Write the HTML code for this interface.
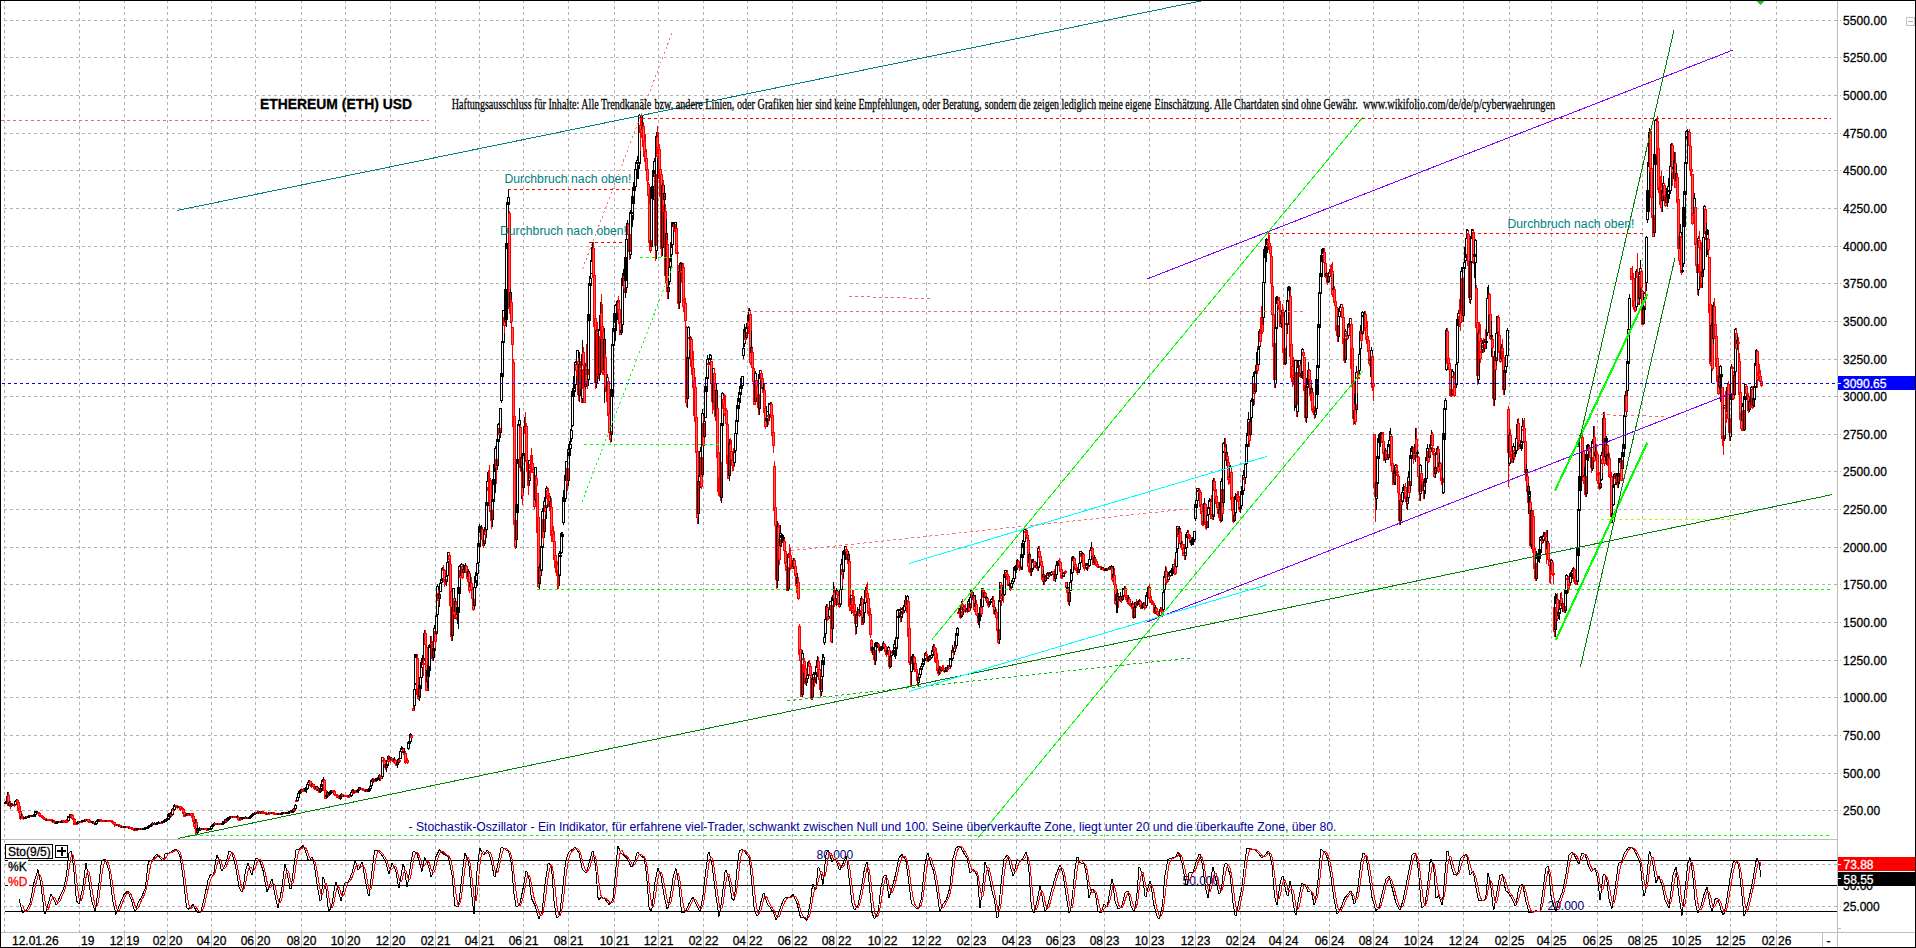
<!DOCTYPE html>
<html lang="de"><head><meta charset="utf-8"><title>ETHEREUM (ETH) USD</title>
<style>
html,body{margin:0;padding:0;background:#fff;overflow:hidden}
svg{display:block;font-family:"Liberation Sans",Arial,sans-serif;font-size:12px}
text{stroke-width:.3px;paint-order:stroke}
.g{stroke:#b2b2b2;stroke-width:1;stroke-dasharray:3 3;fill:none;shape-rendering:crispEdges}
.c{shape-rendering:crispEdges;stroke-width:1}
.u{stroke:#000;fill:none}.d{stroke:#f00;fill:#ff5a5a}
.l{fill:none;stroke-width:1;shape-rendering:crispEdges}
.x{shape-rendering:crispEdges}
.ser{font-family:"Liberation Serif","Times New Roman",serif}
</style></head><body>
<svg width="1916" height="948" viewBox="0 0 1916 948">
<rect width="1916" height="948" fill="#fff"/>
<defs><clipPath id="cp"><rect x="1" y="1" width="1836" height="838"/></clipPath><clipPath id="cs"><rect x="1" y="840" width="1836" height="92"/></clipPath></defs>
<g class="g">
<path d="M4.5 0V932.0M79.5 0V932.0M124.5 0V932.0M167.5 0V932.0M211.5 0V932.0M255.5 0V932.0M301.5 0V932.0M345.5 0V932.0M390.5 0V932.0M435.5 0V932.0M479.5 0V932.0M523.5 0V932.0M568.5 0V932.0M614.5 0V932.0M658.5 0V932.0M703.5 0V932.0M747.5 0V932.0M792.5 0V932.0M836.5 0V932.0M882.5 0V932.0M926.5 0V932.0M971.5 0V932.0M1016.5 0V932.0M1060.5 0V932.0M1104.5 0V932.0M1149.5 0V932.0M1195.5 0V932.0M1240.5 0V932.0M1283.5 0V932.0M1329.5 0V932.0M1373.5 0V932.0M1418.5 0V932.0M1463.5 0V932.0M1509.5 0V932.0M1551.5 0V932.0M1597.5 0V932.0M1642.5 0V932.0M1686.5 0V932.0M1730.5 0V932.0M1776.5 0V932.0"/>
<path d="M4 20.5H1841M4 57.5H1841M4 95.5H1841M4 133.5H1841M4 170.5H1841M4 208.5H1841M4 246.5H1841M4 283.5H1841M4 321.5H1841M4 359.5H1841M4 396.5H1841M4 434.5H1841M4 471.5H1841M4 509.5H1841M4 547.5H1841M4 584.5H1841M4 622.5H1841M4 660.5H1841M4 697.5H1841M4 735.5H1841M4 773.5H1841M4 810.5H1841M4 864.5H1841M4 906.5H1841"/>
</g>
<g class="c" clip-path="url(#cp)">
<path class="u" d="M5.5 801V802M4.5 802.5h2V803.5h-2Z"/><path class="u" d="M6.5 800V801M5.5 801.5h2V802.5h-2Z"/><path class="u" d="M7.5 792V796M7.5 801V804M6.5 796.5h2V801.5h-2Z"/><path class="d" d="M8.5 792V795M7.5 795.5h2V805.5h-2Z"/><path class="u" d="M9.5 801V802M8.5 802.5h2V805.5h-2Z"/><path class="d" d="M10.5 801V803M10.5 806V809M9.5 803.5h2V806.5h-2Z"/><path class="u" d="M11.5 805V807M10.5 803.5h2V805.5h-2Z"/><path class="d" d="M12.5 803V804M11.5 804.5h2V805.5h-2Z"/><path class="u" d="M12.5 804.5h2V805.5h-2Z"/><path class="d" d="M14.5 803V804M14.5 805V807M13.5 804.5h2V805.5h-2Z"/><path class="u" d="M15.5 800V801M14.5 801.5h2V804.5h-2Z"/><path class="u" d="M16.5 799V800M16.5 801V803M15.5 800.5h2V801.5h-2Z"/><path class="d" d="M17.5 799V800M17.5 802V805M16.5 800.5h2V802.5h-2Z"/><path class="d" d="M18.5 801V802M17.5 802.5h2V810.5h-2Z"/><path class="d" d="M19.5 802V808M18.5 808.5h2V812.5h-2Z"/><path class="d" d="M20.5 806V811M20.5 818V820M19.5 811.5h2V818.5h-2Z"/><path class="u" d="M21.5 813V816M20.5 816.5h2V817.5h-2Z"/><path class="d" d="M22.5 814V816M22.5 817V819M21.5 816.5h2V817.5h-2Z"/><path class="d" d="M23.5 816V817M23.5 818V820M22.5 817.5h2V818.5h-2Z"/><path class="u" d="M23.5 817.5h2V818.5h-2Z"/><path class="u" d="M25.5 816V817M24.5 817.5h2V818.5h-2Z"/><path class="u" d="M25.5 816.5h2V817.5h-2Z"/><path class="d" d="M26.5 816.5h2V817.5h-2Z"/><path class="u" d="M27.5 816.5h2V817.5h-2Z"/><path class="u" d="M28.5 815.5h2V816.5h-2Z"/><path class="u" d="M29.5 815.5h2V816.5h-2Z"/><path class="d" d="M30.5 815.5h2V816.5h-2Z"/><path class="u" d="M31.5 815.5h2V816.5h-2Z"/><path class="u" d="M33.5 814V815M32.5 815.5h2V816.5h-2Z"/><path class="u" d="M34.5 813V815M33.5 815.5h2V816.5h-2Z"/><path class="u" d="M35.5 814V816M34.5 811.5h2V814.5h-2Z"/><path class="u" d="M36.5 812V814M35.5 811.5h2V812.5h-2Z"/><path class="u" d="M37.5 811V812M36.5 812.5h2V813.5h-2Z"/><path class="d" d="M38.5 813V815M37.5 812.5h2V813.5h-2Z"/><path class="d" d="M38.5 813.5h2V815.5h-2Z"/><path class="d" d="M40.5 814V815M39.5 815.5h2V816.5h-2Z"/><path class="d" d="M41.5 816V818M40.5 815.5h2V816.5h-2Z"/><path class="d" d="M42.5 815V816M41.5 816.5h2V817.5h-2Z"/><path class="d" d="M43.5 818V820M42.5 817.5h2V818.5h-2Z"/><path class="d" d="M44.5 817V818M43.5 818.5h2V819.5h-2Z"/><path class="d" d="M44.5 818.5h2V819.5h-2Z"/><path class="d" d="M45.5 819.5h2V820.5h-2Z"/><path class="u" d="M46.5 819.5h2V820.5h-2Z"/><path class="d" d="M47.5 819.5h2V820.5h-2Z"/><path class="d" d="M48.5 819.5h2V820.5h-2Z"/><path class="d" d="M49.5 819.5h2V820.5h-2Z"/><path class="d" d="M50.5 819.5h2V820.5h-2Z"/><path class="d" d="M52.5 819V820M52.5 821V823M51.5 820.5h2V821.5h-2Z"/><path class="u" d="M52.5 820.5h2V821.5h-2Z"/><path class="d" d="M54.5 820V821M53.5 821.5h2V822.5h-2Z"/><path class="d" d="M54.5 822.5h2V823.5h-2Z"/><path class="u" d="M55.5 822.5h2V823.5h-2Z"/><path class="u" d="M56.5 821.5h2V822.5h-2Z"/><path class="u" d="M57.5 821.5h2V822.5h-2Z"/><path class="u" d="M58.5 821.5h2V822.5h-2Z"/><path class="d" d="M59.5 821.5h2V822.5h-2Z"/><path class="u" d="M60.5 821.5h2V822.5h-2Z"/><path class="u" d="M61.5 820.5h2V821.5h-2Z"/><path class="d" d="M62.5 820.5h2V821.5h-2Z"/><path class="d" d="M64.5 820V821M63.5 821.5h2V822.5h-2Z"/><path class="d" d="M65.5 820V821M64.5 821.5h2V822.5h-2Z"/><path class="d" d="M66.5 819V820M65.5 820.5h2V821.5h-2Z"/><path class="d" d="M67.5 817V820M67.5 821V823M66.5 820.5h2V821.5h-2Z"/><path class="u" d="M67.5 816.5h2V820.5h-2Z"/><path class="u" d="M69.5 815V816M69.5 817V819M68.5 816.5h2V817.5h-2Z"/><path class="u" d="M69.5 814.5h2V816.5h-2Z"/><path class="d" d="M71.5 814V815M71.5 816V818M70.5 815.5h2V816.5h-2Z"/><path class="d" d="M72.5 814V815M72.5 818V820M71.5 815.5h2V818.5h-2Z"/><path class="d" d="M73.5 816V818M73.5 819V821M72.5 818.5h2V819.5h-2Z"/><path class="d" d="M74.5 818V819M73.5 819.5h2V824.5h-2Z"/><path class="d" d="M75.5 821V822M75.5 823V825M74.5 822.5h2V823.5h-2Z"/><path class="d" d="M76.5 822V823M75.5 823.5h2V824.5h-2Z"/><path class="u" d="M77.5 821V822M76.5 822.5h2V823.5h-2Z"/><path class="u" d="M77.5 821.5h2V822.5h-2Z"/><path class="d" d="M78.5 821.5h2V822.5h-2Z"/><path class="u" d="M79.5 821.5h2V822.5h-2Z"/><path class="d" d="M81.5 820V821M80.5 821.5h2V822.5h-2Z"/><path class="u" d="M81.5 820.5h2V821.5h-2Z"/><path class="u" d="M82.5 820.5h2V821.5h-2Z"/><path class="u" d="M84.5 819V820M83.5 820.5h2V821.5h-2Z"/><path class="u" d="M84.5 819.5h2V820.5h-2Z"/><path class="d" d="M85.5 819.5h2V820.5h-2Z"/><path class="u" d="M86.5 819.5h2V820.5h-2Z"/><path class="d" d="M87.5 819.5h2V821.5h-2Z"/><path class="d" d="M89.5 820V821M88.5 821.5h2V822.5h-2Z"/><path class="d" d="M90.5 820V821M89.5 821.5h2V822.5h-2Z"/><path class="d" d="M90.5 821.5h2V822.5h-2Z"/><path class="u" d="M91.5 821.5h2V822.5h-2Z"/><path class="u" d="M93.5 821V822M92.5 822.5h2V823.5h-2Z"/><path class="d" d="M93.5 822.5h2V823.5h-2Z"/><path class="u" d="M95.5 822V823M94.5 823.5h2V824.5h-2Z"/><path class="u" d="M96.5 820V821M95.5 821.5h2V823.5h-2Z"/><path class="u" d="M97.5 819V820M97.5 821V823M96.5 820.5h2V821.5h-2Z"/><path class="u" d="M97.5 820.5h2V821.5h-2Z"/><path class="u" d="M98.5 819.5h2V820.5h-2Z"/><path class="d" d="M99.5 819.5h2V820.5h-2Z"/><path class="d" d="M100.5 820.5h2V821.5h-2Z"/><path class="d" d="M101.5 820.5h2V821.5h-2Z"/><path class="d" d="M102.5 820.5h2V821.5h-2Z"/><path class="d" d="M103.5 820.5h2V821.5h-2Z"/><path class="d" d="M104.5 820.5h2V821.5h-2Z"/><path class="u" d="M105.5 820.5h2V821.5h-2Z"/><path class="d" d="M106.5 820.5h2V821.5h-2Z"/><path class="d" d="M107.5 820.5h2V821.5h-2Z"/><path class="d" d="M108.5 820.5h2V821.5h-2Z"/><path class="d" d="M109.5 820.5h2V821.5h-2Z"/><path class="d" d="M111.5 821V823M110.5 820.5h2V821.5h-2Z"/><path class="d" d="M111.5 821.5h2V822.5h-2Z"/><path class="d" d="M113.5 821V822M113.5 823V825M112.5 822.5h2V823.5h-2Z"/><path class="d" d="M114.5 824V827M113.5 822.5h2V824.5h-2Z"/><path class="d" d="M115.5 823V824M114.5 824.5h2V825.5h-2Z"/><path class="d" d="M115.5 824.5h2V825.5h-2Z"/><path class="u" d="M116.5 824.5h2V825.5h-2Z"/><path class="d" d="M118.5 825V827M117.5 824.5h2V825.5h-2Z"/><path class="u" d="M118.5 825.5h2V826.5h-2Z"/><path class="d" d="M119.5 825.5h2V826.5h-2Z"/><path class="d" d="M120.5 826.5h2V827.5h-2Z"/><path class="u" d="M121.5 826.5h2V827.5h-2Z"/><path class="d" d="M122.5 826.5h2V827.5h-2Z"/><path class="u" d="M123.5 826.5h2V827.5h-2Z"/><path class="u" d="M124.5 826.5h2V827.5h-2Z"/><path class="u" d="M125.5 826.5h2V827.5h-2Z"/><path class="d" d="M126.5 826.5h2V827.5h-2Z"/><path class="d" d="M127.5 826.5h2V827.5h-2Z"/><path class="u" d="M128.5 827.5h2V828.5h-2Z"/><path class="d" d="M129.5 827.5h2V828.5h-2Z"/><path class="d" d="M130.5 827.5h2V828.5h-2Z"/><path class="d" d="M131.5 828.5h2V829.5h-2Z"/><path class="d" d="M132.5 828.5h2V829.5h-2Z"/><path class="d" d="M134.5 828V829M133.5 829.5h2V830.5h-2Z"/><path class="u" d="M135.5 828V829M134.5 829.5h2V830.5h-2Z"/><path class="d" d="M135.5 829.5h2V830.5h-2Z"/><path class="u" d="M136.5 828.5h2V829.5h-2Z"/><path class="u" d="M137.5 828.5h2V829.5h-2Z"/><path class="u" d="M138.5 828.5h2V829.5h-2Z"/><path class="d" d="M139.5 828.5h2V829.5h-2Z"/><path class="u" d="M140.5 828.5h2V829.5h-2Z"/><path class="d" d="M141.5 828.5h2V829.5h-2Z"/><path class="u" d="M142.5 828.5h2V829.5h-2Z"/><path class="u" d="M143.5 828.5h2V829.5h-2Z"/><path class="u" d="M144.5 827.5h2V828.5h-2Z"/><path class="u" d="M145.5 827.5h2V828.5h-2Z"/><path class="u" d="M147.5 826V827M146.5 827.5h2V828.5h-2Z"/><path class="u" d="M148.5 825V826M147.5 826.5h2V827.5h-2Z"/><path class="u" d="M148.5 825.5h2V826.5h-2Z"/><path class="u" d="M150.5 824V825M149.5 825.5h2V826.5h-2Z"/><path class="u" d="M151.5 823V824M150.5 824.5h2V825.5h-2Z"/><path class="u" d="M152.5 822V823M151.5 823.5h2V824.5h-2Z"/><path class="d" d="M152.5 823.5h2V824.5h-2Z"/><path class="u" d="M154.5 822V823M153.5 823.5h2V824.5h-2Z"/><path class="d" d="M154.5 823.5h2V824.5h-2Z"/><path class="u" d="M156.5 822V823M155.5 823.5h2V824.5h-2Z"/><path class="u" d="M156.5 822.5h2V823.5h-2Z"/><path class="u" d="M158.5 821V822M157.5 822.5h2V823.5h-2Z"/><path class="u" d="M158.5 822.5h2V823.5h-2Z"/><path class="u" d="M159.5 822.5h2V823.5h-2Z"/><path class="d" d="M161.5 821V822M160.5 822.5h2V823.5h-2Z"/><path class="u" d="M161.5 821.5h2V822.5h-2Z"/><path class="u" d="M162.5 821.5h2V822.5h-2Z"/><path class="u" d="M164.5 819V820M163.5 820.5h2V821.5h-2Z"/><path class="u" d="M164.5 820.5h2V821.5h-2Z"/><path class="u" d="M166.5 818V819M165.5 819.5h2V820.5h-2Z"/><path class="u" d="M166.5 818.5h2V819.5h-2Z"/><path class="u" d="M168.5 813V814M167.5 814.5h2V819.5h-2Z"/><path class="u" d="M169.5 816V819M168.5 814.5h2V816.5h-2Z"/><path class="u" d="M170.5 812V813M170.5 815V818M169.5 813.5h2V815.5h-2Z"/><path class="d" d="M171.5 812V814M171.5 815V817M170.5 814.5h2V815.5h-2Z"/><path class="u" d="M172.5 808V809M171.5 809.5h2V814.5h-2Z"/><path class="d" d="M173.5 808V809M173.5 810V813M172.5 809.5h2V810.5h-2Z"/><path class="u" d="M174.5 804V805M174.5 809V811M173.5 805.5h2V809.5h-2Z"/><path class="u" d="M175.5 806V808M174.5 805.5h2V806.5h-2Z"/><path class="d" d="M175.5 805.5h2V806.5h-2Z"/><path class="d" d="M177.5 807V809M176.5 806.5h2V807.5h-2Z"/><path class="u" d="M177.5 806.5h2V807.5h-2Z"/><path class="u" d="M178.5 806.5h2V807.5h-2Z"/><path class="d" d="M180.5 809V811M179.5 806.5h2V809.5h-2Z"/><path class="d" d="M181.5 806V808M180.5 808.5h2V809.5h-2Z"/><path class="d" d="M182.5 807V808M182.5 809V811M181.5 808.5h2V809.5h-2Z"/><path class="d" d="M183.5 808V809M182.5 809.5h2V813.5h-2Z"/><path class="d" d="M184.5 811V812M183.5 812.5h2V816.5h-2Z"/><path class="d" d="M185.5 812V814M184.5 814.5h2V815.5h-2Z"/><path class="u" d="M186.5 813V814M185.5 814.5h2V815.5h-2Z"/><path class="u" d="M187.5 814V816M186.5 813.5h2V814.5h-2Z"/><path class="d" d="M187.5 814.5h2V815.5h-2Z"/><path class="d" d="M189.5 813V814M188.5 814.5h2V815.5h-2Z"/><path class="u" d="M189.5 813.5h2V814.5h-2Z"/><path class="d" d="M191.5 815V817M190.5 813.5h2V815.5h-2Z"/><path class="d" d="M192.5 814V815M192.5 817V819M191.5 815.5h2V817.5h-2Z"/><path class="d" d="M193.5 813V816M193.5 821V823M192.5 816.5h2V821.5h-2Z"/><path class="d" d="M194.5 817V820M194.5 826V829M193.5 820.5h2V826.5h-2Z"/><path class="u" d="M195.5 819V822M195.5 823V830M194.5 822.5h2V823.5h-2Z"/><path class="d" d="M196.5 819V822M195.5 822.5h2V834.5h-2Z"/><path class="u" d="M197.5 825V828M197.5 832V835M196.5 828.5h2V832.5h-2Z"/><path class="u" d="M198.5 830V833M197.5 829.5h2V830.5h-2Z"/><path class="u" d="M199.5 827V829M198.5 829.5h2V830.5h-2Z"/><path class="u" d="M199.5 828.5h2V829.5h-2Z"/><path class="d" d="M200.5 828.5h2V829.5h-2Z"/><path class="u" d="M201.5 828.5h2V829.5h-2Z"/><path class="d" d="M202.5 828.5h2V829.5h-2Z"/><path class="u" d="M203.5 828.5h2V829.5h-2Z"/><path class="d" d="M204.5 828.5h2V829.5h-2Z"/><path class="d" d="M205.5 828.5h2V829.5h-2Z"/><path class="d" d="M207.5 828V829M206.5 829.5h2V830.5h-2Z"/><path class="u" d="M207.5 828.5h2V829.5h-2Z"/><path class="u" d="M208.5 828.5h2V829.5h-2Z"/><path class="u" d="M210.5 826V828M209.5 828.5h2V829.5h-2Z"/><path class="u" d="M211.5 825V826M210.5 826.5h2V828.5h-2Z"/><path class="u" d="M212.5 824V825M211.5 825.5h2V826.5h-2Z"/><path class="u" d="M213.5 823V824M212.5 824.5h2V825.5h-2Z"/><path class="u" d="M214.5 822V823M213.5 823.5h2V824.5h-2Z"/><path class="d" d="M214.5 823.5h2V824.5h-2Z"/><path class="d" d="M215.5 823.5h2V824.5h-2Z"/><path class="d" d="M216.5 823.5h2V824.5h-2Z"/><path class="u" d="M217.5 823.5h2V824.5h-2Z"/><path class="d" d="M218.5 823.5h2V824.5h-2Z"/><path class="d" d="M219.5 823.5h2V824.5h-2Z"/><path class="d" d="M220.5 823.5h2V824.5h-2Z"/><path class="u" d="M221.5 823.5h2V824.5h-2Z"/><path class="u" d="M223.5 823V825M222.5 821.5h2V823.5h-2Z"/><path class="u" d="M224.5 820V821M224.5 822V824M223.5 821.5h2V822.5h-2Z"/><path class="u" d="M225.5 821V823M224.5 819.5h2V821.5h-2Z"/><path class="d" d="M226.5 819V820M226.5 821V823M225.5 820.5h2V821.5h-2Z"/><path class="u" d="M227.5 817V818M226.5 818.5h2V820.5h-2Z"/><path class="u" d="M228.5 817V818M227.5 818.5h2V819.5h-2Z"/><path class="u" d="M229.5 818V820M228.5 817.5h2V818.5h-2Z"/><path class="u" d="M229.5 816.5h2V817.5h-2Z"/><path class="u" d="M230.5 816.5h2V817.5h-2Z"/><path class="d" d="M231.5 816.5h2V817.5h-2Z"/><path class="u" d="M232.5 816.5h2V817.5h-2Z"/><path class="d" d="M233.5 816.5h2V817.5h-2Z"/><path class="d" d="M234.5 816.5h2V817.5h-2Z"/><path class="d" d="M235.5 816.5h2V817.5h-2Z"/><path class="u" d="M237.5 815V816M236.5 816.5h2V817.5h-2Z"/><path class="d" d="M238.5 816V817M237.5 817.5h2V819.5h-2Z"/><path class="d" d="M239.5 818V819M238.5 819.5h2V820.5h-2Z"/><path class="u" d="M240.5 817V818M239.5 818.5h2V819.5h-2Z"/><path class="d" d="M240.5 818.5h2V819.5h-2Z"/><path class="u" d="M242.5 818V820M241.5 817.5h2V818.5h-2Z"/><path class="u" d="M242.5 817.5h2V818.5h-2Z"/><path class="u" d="M243.5 817.5h2V818.5h-2Z"/><path class="u" d="M245.5 816V817M244.5 817.5h2V818.5h-2Z"/><path class="d" d="M245.5 817.5h2V818.5h-2Z"/><path class="u" d="M246.5 817.5h2V818.5h-2Z"/><path class="d" d="M247.5 817.5h2V818.5h-2Z"/><path class="u" d="M249.5 816V817M248.5 817.5h2V818.5h-2Z"/><path class="u" d="M250.5 817V819M249.5 816.5h2V817.5h-2Z"/><path class="u" d="M251.5 816V818M250.5 815.5h2V816.5h-2Z"/><path class="u" d="M252.5 813V814M252.5 815V817M251.5 814.5h2V815.5h-2Z"/><path class="u" d="M253.5 814V816M252.5 813.5h2V814.5h-2Z"/><path class="u" d="M254.5 812V813M253.5 813.5h2V814.5h-2Z"/><path class="u" d="M254.5 812.5h2V813.5h-2Z"/><path class="d" d="M255.5 812.5h2V813.5h-2Z"/><path class="u" d="M257.5 811V812M256.5 812.5h2V813.5h-2Z"/><path class="d" d="M258.5 811V812M257.5 812.5h2V813.5h-2Z"/><path class="u" d="M259.5 811V812M258.5 812.5h2V813.5h-2Z"/><path class="d" d="M260.5 811V812M259.5 812.5h2V813.5h-2Z"/><path class="u" d="M261.5 811V812M260.5 812.5h2V813.5h-2Z"/><path class="d" d="M262.5 811V812M261.5 812.5h2V813.5h-2Z"/><path class="d" d="M263.5 811V812M262.5 812.5h2V813.5h-2Z"/><path class="d" d="M263.5 812.5h2V813.5h-2Z"/><path class="d" d="M264.5 812.5h2V813.5h-2Z"/><path class="d" d="M265.5 813.5h2V814.5h-2Z"/><path class="u" d="M266.5 813.5h2V814.5h-2Z"/><path class="d" d="M268.5 812V813M267.5 813.5h2V814.5h-2Z"/><path class="u" d="M268.5 812.5h2V813.5h-2Z"/><path class="d" d="M269.5 812.5h2V813.5h-2Z"/><path class="d" d="M270.5 812.5h2V813.5h-2Z"/><path class="u" d="M271.5 812.5h2V813.5h-2Z"/><path class="d" d="M272.5 812.5h2V813.5h-2Z"/><path class="d" d="M273.5 813.5h2V814.5h-2Z"/><path class="d" d="M274.5 813.5h2V814.5h-2Z"/><path class="d" d="M275.5 813.5h2V814.5h-2Z"/><path class="d" d="M276.5 813.5h2V814.5h-2Z"/><path class="u" d="M277.5 813.5h2V814.5h-2Z"/><path class="u" d="M278.5 813.5h2V814.5h-2Z"/><path class="d" d="M279.5 813.5h2V814.5h-2Z"/><path class="u" d="M281.5 812V813M280.5 813.5h2V814.5h-2Z"/><path class="u" d="M281.5 812.5h2V813.5h-2Z"/><path class="u" d="M282.5 812.5h2V813.5h-2Z"/><path class="u" d="M283.5 812.5h2V813.5h-2Z"/><path class="d" d="M284.5 812.5h2V813.5h-2Z"/><path class="u" d="M285.5 812.5h2V813.5h-2Z"/><path class="u" d="M286.5 812.5h2V813.5h-2Z"/><path class="u" d="M287.5 812.5h2V813.5h-2Z"/><path class="u" d="M288.5 811.5h2V812.5h-2Z"/><path class="u" d="M290.5 810V811M289.5 811.5h2V812.5h-2Z"/><path class="d" d="M290.5 811.5h2V812.5h-2Z"/><path class="u" d="M292.5 809V810M291.5 810.5h2V812.5h-2Z"/><path class="u" d="M293.5 808V810M292.5 810.5h2V811.5h-2Z"/><path class="d" d="M294.5 807V809M293.5 809.5h2V810.5h-2Z"/><path class="u" d="M295.5 804V805M295.5 808V810M294.5 805.5h2V808.5h-2Z"/><path class="d" d="M296.5 799V800M295.5 800.5h2V801.5h-2Z"/><path class="u" d="M297.5 795V797M296.5 797.5h2V800.5h-2Z"/><path class="u" d="M298.5 791V793M297.5 793.5h2V797.5h-2Z"/><path class="u" d="M299.5 790V791M299.5 793V796M298.5 791.5h2V793.5h-2Z"/><path class="u" d="M300.5 789V791M300.5 792V794M299.5 791.5h2V792.5h-2Z"/><path class="u" d="M301.5 789V790M300.5 790.5h2V791.5h-2Z"/><path class="d" d="M302.5 789V790M301.5 790.5h2V791.5h-2Z"/><path class="d" d="M303.5 788V790M302.5 790.5h2V791.5h-2Z"/><path class="d" d="M304.5 789V790M303.5 790.5h2V791.5h-2Z"/><path class="u" d="M305.5 787V788M305.5 790V792M304.5 788.5h2V790.5h-2Z"/><path class="u" d="M306.5 785V788M306.5 789V793M305.5 788.5h2V789.5h-2Z"/><path class="u" d="M307.5 783V784M306.5 784.5h2V788.5h-2Z"/><path class="u" d="M308.5 780V782M308.5 784V786M307.5 782.5h2V784.5h-2Z"/><path class="u" d="M309.5 780V781M309.5 782V785M308.5 781.5h2V782.5h-2Z"/><path class="d" d="M309.5 781.5h2V785.5h-2Z"/><path class="d" d="M311.5 783V784M311.5 786V788M310.5 784.5h2V786.5h-2Z"/><path class="u" d="M312.5 783V784M312.5 785V787M311.5 784.5h2V785.5h-2Z"/><path class="d" d="M313.5 786V788M312.5 784.5h2V786.5h-2Z"/><path class="d" d="M314.5 785V786M313.5 786.5h2V788.5h-2Z"/><path class="d" d="M314.5 787.5h2V789.5h-2Z"/><path class="u" d="M315.5 786.5h2V788.5h-2Z"/><path class="d" d="M316.5 787.5h2V790.5h-2Z"/><path class="u" d="M318.5 788V789M317.5 789.5h2V790.5h-2Z"/><path class="d" d="M319.5 788V789M318.5 789.5h2V792.5h-2Z"/><path class="u" d="M320.5 791V793M319.5 788.5h2V791.5h-2Z"/><path class="u" d="M321.5 782V784M321.5 789V791M320.5 784.5h2V789.5h-2Z"/><path class="u" d="M322.5 786V791M321.5 780.5h2V786.5h-2Z"/><path class="u" d="M323.5 777V779M323.5 781V785M322.5 779.5h2V781.5h-2Z"/><path class="d" d="M324.5 779V780M324.5 790V795M323.5 780.5h2V790.5h-2Z"/><path class="d" d="M325.5 787V790M324.5 790.5h2V798.5h-2Z"/><path class="u" d="M326.5 793V795M326.5 796V798M325.5 795.5h2V796.5h-2Z"/><path class="u" d="M327.5 791V792M327.5 795V798M326.5 792.5h2V795.5h-2Z"/><path class="d" d="M328.5 792V793M328.5 794V797M327.5 793.5h2V794.5h-2Z"/><path class="u" d="M329.5 791V792M329.5 794V796M328.5 792.5h2V794.5h-2Z"/><path class="u" d="M330.5 791V792M329.5 792.5h2V793.5h-2Z"/><path class="u" d="M330.5 790.5h2V792.5h-2Z"/><path class="u" d="M331.5 790.5h2V791.5h-2Z"/><path class="d" d="M333.5 791V793M332.5 790.5h2V791.5h-2Z"/><path class="d" d="M333.5 791.5h2V794.5h-2Z"/><path class="d" d="M335.5 793V794M334.5 794.5h2V795.5h-2Z"/><path class="d" d="M336.5 795V798M335.5 794.5h2V795.5h-2Z"/><path class="d" d="M337.5 796V798M336.5 795.5h2V796.5h-2Z"/><path class="d" d="M337.5 796.5h2V797.5h-2Z"/><path class="d" d="M339.5 796V797M338.5 797.5h2V798.5h-2Z"/><path class="u" d="M340.5 798V800M339.5 795.5h2V798.5h-2Z"/><path class="u" d="M341.5 793V794M341.5 796V798M340.5 794.5h2V796.5h-2Z"/><path class="d" d="M342.5 795V797M341.5 794.5h2V795.5h-2Z"/><path class="d" d="M342.5 795.5h2V796.5h-2Z"/><path class="u" d="M343.5 795.5h2V796.5h-2Z"/><path class="d" d="M344.5 795.5h2V796.5h-2Z"/><path class="d" d="M345.5 795.5h2V796.5h-2Z"/><path class="d" d="M346.5 795.5h2V796.5h-2Z"/><path class="d" d="M348.5 795V796M347.5 796.5h2V797.5h-2Z"/><path class="u" d="M349.5 794V795M348.5 795.5h2V796.5h-2Z"/><path class="d" d="M350.5 794V795M349.5 795.5h2V796.5h-2Z"/><path class="u" d="M351.5 791V792M351.5 795V797M350.5 792.5h2V795.5h-2Z"/><path class="u" d="M352.5 789V790M352.5 792V795M351.5 790.5h2V792.5h-2Z"/><path class="d" d="M353.5 789V791M352.5 791.5h2V793.5h-2Z"/><path class="u" d="M353.5 790.5h2V792.5h-2Z"/><path class="d" d="M355.5 791V793M354.5 790.5h2V791.5h-2Z"/><path class="d" d="M356.5 790V791M355.5 791.5h2V792.5h-2Z"/><path class="u" d="M356.5 790.5h2V791.5h-2Z"/><path class="u" d="M358.5 788V789M358.5 790V793M357.5 789.5h2V790.5h-2Z"/><path class="u" d="M359.5 789V791M358.5 787.5h2V789.5h-2Z"/><path class="d" d="M359.5 788.5h2V789.5h-2Z"/><path class="u" d="M360.5 788.5h2V789.5h-2Z"/><path class="d" d="M361.5 788.5h2V789.5h-2Z"/><path class="d" d="M362.5 789.5h2V790.5h-2Z"/><path class="d" d="M363.5 789.5h2V790.5h-2Z"/><path class="d" d="M365.5 789V790M364.5 790.5h2V791.5h-2Z"/><path class="u" d="M366.5 789V790M365.5 790.5h2V791.5h-2Z"/><path class="d" d="M367.5 789V790M366.5 790.5h2V791.5h-2Z"/><path class="u" d="M368.5 788V789M367.5 789.5h2V791.5h-2Z"/><path class="u" d="M369.5 786V789M368.5 789.5h2V790.5h-2Z"/><path class="u" d="M370.5 783V786M369.5 786.5h2V788.5h-2Z"/><path class="u" d="M371.5 785V787M370.5 780.5h2V785.5h-2Z"/><path class="u" d="M372.5 778V779M372.5 781V784M371.5 779.5h2V781.5h-2Z"/><path class="d" d="M373.5 778V780M373.5 781V783M372.5 780.5h2V781.5h-2Z"/><path class="u" d="M374.5 779V780M373.5 780.5h2V781.5h-2Z"/><path class="d" d="M375.5 778V780M374.5 780.5h2V781.5h-2Z"/><path class="u" d="M375.5 778.5h2V780.5h-2Z"/><path class="u" d="M377.5 777V778M376.5 778.5h2V779.5h-2Z"/><path class="u" d="M378.5 776V777M377.5 777.5h2V778.5h-2Z"/><path class="u" d="M379.5 774V775M379.5 777V781M378.5 775.5h2V777.5h-2Z"/><path class="d" d="M380.5 777V781M379.5 775.5h2V777.5h-2Z"/><path class="d" d="M381.5 771V776M380.5 776.5h2V778.5h-2Z"/><path class="u" d="M382.5 776V779M381.5 757.5h2V776.5h-2Z"/><path class="d" d="M383.5 757V760M383.5 761V765M382.5 760.5h2V761.5h-2Z"/><path class="d" d="M384.5 758V760M384.5 764V768M383.5 760.5h2V764.5h-2Z"/><path class="d" d="M385.5 760V764M385.5 766V770M384.5 764.5h2V766.5h-2Z"/><path class="u" d="M386.5 763V764M386.5 767V772M385.5 764.5h2V767.5h-2Z"/><path class="u" d="M387.5 756V760M387.5 765V768M386.5 760.5h2V765.5h-2Z"/><path class="d" d="M388.5 755V759M388.5 761V763M387.5 759.5h2V761.5h-2Z"/><path class="u" d="M389.5 756V758M388.5 758.5h2V759.5h-2Z"/><path class="d" d="M390.5 757V758M390.5 760V763M389.5 758.5h2V760.5h-2Z"/><path class="u" d="M391.5 757V758M390.5 758.5h2V759.5h-2Z"/><path class="d" d="M392.5 759V762M391.5 758.5h2V759.5h-2Z"/><path class="d" d="M393.5 758V759M393.5 760V763M392.5 759.5h2V760.5h-2Z"/><path class="u" d="M394.5 757V759M394.5 760V764M393.5 759.5h2V760.5h-2Z"/><path class="d" d="M395.5 759V760M395.5 763V766M394.5 760.5h2V763.5h-2Z"/><path class="d" d="M396.5 762V763M396.5 764V766M395.5 763.5h2V764.5h-2Z"/><path class="u" d="M397.5 759V762M397.5 764V768M396.5 762.5h2V764.5h-2Z"/><path class="u" d="M398.5 758V761M397.5 761.5h2V762.5h-2Z"/><path class="d" d="M399.5 751V760M398.5 760.5h2V761.5h-2Z"/><path class="u" d="M400.5 749V751M399.5 751.5h2V758.5h-2Z"/><path class="u" d="M401.5 746V748M400.5 748.5h2V751.5h-2Z"/><path class="u" d="M402.5 747V748M402.5 749V753M401.5 748.5h2V749.5h-2Z"/><path class="d" d="M403.5 748V749M403.5 751V755M402.5 749.5h2V751.5h-2Z"/><path class="u" d="M404.5 748V751M404.5 752V757M403.5 751.5h2V752.5h-2Z"/><path class="d" d="M405.5 751V753M405.5 762V764M404.5 753.5h2V762.5h-2Z"/><path class="d" d="M406.5 757V760M405.5 760.5h2V761.5h-2Z"/><path class="d" d="M407.5 758V760M407.5 762V764M406.5 760.5h2V762.5h-2Z"/><path class="u" d="M408.5 741V742M408.5 748V750M407.5 742.5h2V748.5h-2Z"/><path class="u" d="M409.5 740V742M409.5 743V747M408.5 742.5h2V743.5h-2Z"/><path class="u" d="M410.5 733V734M410.5 741V744M409.5 734.5h2V741.5h-2Z"/><path class="d" d="M410.5 735.5h2V737.5h-2Z"/><path class="d" d="M413.5 692V708M412.5 708.5h2V710.5h-2Z"/><path class="u" d="M414.5 670V689M414.5 705V710M413.5 689.5h2V705.5h-2Z"/><path class="u" d="M415.5 683V685M414.5 654.5h2V683.5h-2Z"/><path class="u" d="M416.5 657V669M415.5 654.5h2V657.5h-2Z"/><path class="d" d="M417.5 654V658M417.5 694V696M416.5 658.5h2V694.5h-2Z"/><path class="d" d="M418.5 677V688M418.5 698V700M417.5 688.5h2V698.5h-2Z"/><path class="u" d="M419.5 683V685M419.5 696V701M418.5 685.5h2V696.5h-2Z"/><path class="u" d="M420.5 662V677M420.5 688V698M419.5 677.5h2V688.5h-2Z"/><path class="u" d="M421.5 658V667M421.5 677V679M420.5 667.5h2V677.5h-2Z"/><path class="u" d="M422.5 655V664M422.5 667V674M421.5 664.5h2V667.5h-2Z"/><path class="d" d="M423.5 647V663M423.5 664V676M422.5 663.5h2V664.5h-2Z"/><path class="u" d="M424.5 630V633M424.5 658V661M423.5 633.5h2V658.5h-2Z"/><path class="d" d="M425.5 630V633M425.5 644V659M424.5 633.5h2V644.5h-2Z"/><path class="d" d="M426.5 643V647M425.5 647.5h2V690.5h-2Z"/><path class="u" d="M427.5 665V670M427.5 681V688M426.5 670.5h2V681.5h-2Z"/><path class="u" d="M428.5 663V666M428.5 675V691M427.5 666.5h2V675.5h-2Z"/><path class="u" d="M429.5 644V645M429.5 670V677M428.5 645.5h2V670.5h-2Z"/><path class="u" d="M430.5 636V644M430.5 647V656M429.5 644.5h2V647.5h-2Z"/><path class="d" d="M431.5 636V643M431.5 644V658M430.5 643.5h2V644.5h-2Z"/><path class="d" d="M432.5 641V646M432.5 658V661M431.5 646.5h2V658.5h-2Z"/><path class="u" d="M433.5 657V661M432.5 648.5h2V657.5h-2Z"/><path class="u" d="M434.5 625V628M434.5 650V658M433.5 628.5h2V650.5h-2Z"/><path class="d" d="M435.5 615V631M435.5 641V649M434.5 631.5h2V641.5h-2Z"/><path class="u" d="M436.5 606V616M436.5 633V635M435.5 616.5h2V633.5h-2Z"/><path class="u" d="M437.5 584V586M437.5 614V619M436.5 586.5h2V614.5h-2Z"/><path class="d" d="M438.5 590V593M438.5 600V605M437.5 593.5h2V600.5h-2Z"/><path class="u" d="M439.5 584V594M439.5 598V607M438.5 594.5h2V598.5h-2Z"/><path class="u" d="M440.5 579V583M439.5 583.5h2V591.5h-2Z"/><path class="u" d="M441.5 573V580M441.5 582V584M440.5 580.5h2V582.5h-2Z"/><path class="u" d="M442.5 567V568M442.5 578V583M441.5 568.5h2V578.5h-2Z"/><path class="d" d="M443.5 565V569M443.5 570V576M442.5 569.5h2V570.5h-2Z"/><path class="d" d="M444.5 569V570M444.5 581V587M443.5 570.5h2V581.5h-2Z"/><path class="d" d="M445.5 576V579M445.5 581V585M444.5 579.5h2V581.5h-2Z"/><path class="u" d="M446.5 568V576M446.5 581V586M445.5 576.5h2V581.5h-2Z"/><path class="u" d="M447.5 558V562M447.5 575V577M446.5 562.5h2V575.5h-2Z"/><path class="u" d="M448.5 561V564M447.5 552.5h2V561.5h-2Z"/><path class="d" d="M449.5 552V555M449.5 559V578M448.5 555.5h2V559.5h-2Z"/><path class="d" d="M450.5 559V564M450.5 605V613M449.5 564.5h2V605.5h-2Z"/><path class="d" d="M451.5 582V591M451.5 636V641M450.5 591.5h2V636.5h-2Z"/><path class="u" d="M452.5 605V607M452.5 635V641M451.5 607.5h2V635.5h-2Z"/><path class="u" d="M453.5 610V624M452.5 588.5h2V610.5h-2Z"/><path class="d" d="M454.5 614V619M453.5 598.5h2V614.5h-2Z"/><path class="u" d="M455.5 598V601M455.5 611V619M454.5 601.5h2V611.5h-2Z"/><path class="d" d="M456.5 601V604M456.5 617V620M455.5 604.5h2V617.5h-2Z"/><path class="u" d="M457.5 605V607M457.5 614V624M456.5 607.5h2V614.5h-2Z"/><path class="u" d="M458.5 584V587M458.5 612V629M457.5 587.5h2V612.5h-2Z"/><path class="u" d="M459.5 565V566M459.5 593V613M458.5 566.5h2V593.5h-2Z"/><path class="d" d="M460.5 564V570M460.5 577V579M459.5 570.5h2V577.5h-2Z"/><path class="u" d="M461.5 563V564M460.5 564.5h2V575.5h-2Z"/><path class="d" d="M462.5 564V566M462.5 577V579M461.5 566.5h2V577.5h-2Z"/><path class="u" d="M463.5 564V569M462.5 569.5h2V572.5h-2Z"/><path class="u" d="M464.5 565V567M464.5 568V570M463.5 567.5h2V568.5h-2Z"/><path class="u" d="M465.5 563V566M464.5 566.5h2V567.5h-2Z"/><path class="d" d="M466.5 565V566M466.5 572V576M465.5 566.5h2V572.5h-2Z"/><path class="d" d="M467.5 569V571M467.5 578V582M466.5 571.5h2V578.5h-2Z"/><path class="u" d="M468.5 569V571M468.5 576V583M467.5 571.5h2V576.5h-2Z"/><path class="d" d="M469.5 590V593M468.5 573.5h2V590.5h-2Z"/><path class="u" d="M470.5 575V582M470.5 586V591M469.5 582.5h2V586.5h-2Z"/><path class="d" d="M471.5 577V583M471.5 590V594M470.5 583.5h2V590.5h-2Z"/><path class="d" d="M472.5 587V589M472.5 598V603M471.5 589.5h2V598.5h-2Z"/><path class="d" d="M473.5 594V599M473.5 609V611M472.5 599.5h2V609.5h-2Z"/><path class="u" d="M474.5 576V587M474.5 605V609M473.5 587.5h2V605.5h-2Z"/><path class="u" d="M475.5 572V582M475.5 587V594M474.5 582.5h2V587.5h-2Z"/><path class="u" d="M476.5 563V575M476.5 580V587M475.5 575.5h2V580.5h-2Z"/><path class="u" d="M477.5 558V563M477.5 573V586M476.5 563.5h2V573.5h-2Z"/><path class="u" d="M478.5 537V543M478.5 562V567M477.5 543.5h2V562.5h-2Z"/><path class="u" d="M479.5 524V526M479.5 546V554M478.5 526.5h2V546.5h-2Z"/><path class="u" d="M480.5 532V545M479.5 527.5h2V532.5h-2Z"/><path class="u" d="M481.5 525V528M481.5 529V536M480.5 528.5h2V529.5h-2Z"/><path class="d" d="M482.5 527V529M482.5 539V546M481.5 529.5h2V539.5h-2Z"/><path class="d" d="M483.5 534V540M483.5 543V548M482.5 540.5h2V543.5h-2Z"/><path class="u" d="M484.5 527V530M484.5 543V546M483.5 530.5h2V543.5h-2Z"/><path class="d" d="M485.5 514V531M485.5 534V538M484.5 531.5h2V534.5h-2Z"/><path class="u" d="M486.5 499V502M486.5 529V538M485.5 502.5h2V529.5h-2Z"/><path class="u" d="M487.5 472V481M487.5 505V514M486.5 481.5h2V505.5h-2Z"/><path class="d" d="M488.5 470V487M488.5 490V502M487.5 487.5h2V490.5h-2Z"/><path class="d" d="M489.5 465V485M489.5 495V497M488.5 485.5h2V495.5h-2Z"/><path class="d" d="M490.5 478V480M490.5 511V515M489.5 480.5h2V511.5h-2Z"/><path class="d" d="M491.5 508V510M491.5 520V529M490.5 510.5h2V520.5h-2Z"/><path class="u" d="M492.5 497V499M492.5 519V527M491.5 499.5h2V519.5h-2Z"/><path class="u" d="M493.5 474V479M493.5 501V513M492.5 479.5h2V501.5h-2Z"/><path class="u" d="M494.5 459V464M494.5 484V497M493.5 464.5h2V484.5h-2Z"/><path class="u" d="M495.5 446V448M495.5 471V493M494.5 448.5h2V471.5h-2Z"/><path class="d" d="M496.5 452V459M496.5 467V484M495.5 459.5h2V467.5h-2Z"/><path class="u" d="M497.5 430V439M497.5 465V470M496.5 439.5h2V465.5h-2Z"/><path class="u" d="M498.5 423V424M498.5 441V446M497.5 424.5h2V441.5h-2Z"/><path class="d" d="M499.5 426V428M498.5 428.5h2V434.5h-2Z"/><path class="u" d="M500.5 432V438M499.5 408.5h2V432.5h-2Z"/><path class="u" d="M501.5 362V373M501.5 400V403M500.5 373.5h2V400.5h-2Z"/><path class="u" d="M502.5 340V341M502.5 376V382M501.5 341.5h2V376.5h-2Z"/><path class="u" d="M503.5 342V347M502.5 310.5h2V342.5h-2Z"/><path class="d" d="M504.5 315V317M504.5 325V333M503.5 317.5h2V325.5h-2Z"/><path class="u" d="M505.5 282V289M505.5 321V323M504.5 289.5h2V321.5h-2Z"/><path class="u" d="M506.5 231V243M506.5 319V327M505.5 243.5h2V319.5h-2Z"/><path class="u" d="M507.5 201V202M507.5 248V255M506.5 202.5h2V248.5h-2Z"/><path class="u" d="M508.5 190V197M508.5 204V227M507.5 197.5h2V204.5h-2Z"/><path class="d" d="M509.5 211V213M509.5 308V314M508.5 213.5h2V308.5h-2Z"/><path class="u" d="M510.5 289V292M510.5 306V323M509.5 292.5h2V306.5h-2Z"/><path class="d" d="M511.5 300V302M511.5 321V345M510.5 302.5h2V321.5h-2Z"/><path class="d" d="M512.5 344V378M511.5 327.5h2V344.5h-2Z"/><path class="d" d="M513.5 359V362M513.5 426V431M512.5 362.5h2V426.5h-2Z"/><path class="d" d="M514.5 409V416M514.5 524V532M513.5 416.5h2V524.5h-2Z"/><path class="d" d="M515.5 510V520M515.5 546V549M514.5 520.5h2V546.5h-2Z"/><path class="u" d="M516.5 503V504M516.5 539V548M515.5 504.5h2V539.5h-2Z"/><path class="u" d="M517.5 452V459M517.5 512V517M516.5 459.5h2V512.5h-2Z"/><path class="u" d="M518.5 420V424M518.5 463V465M517.5 424.5h2V463.5h-2Z"/><path class="u" d="M519.5 408V420M519.5 425V438M518.5 420.5h2V425.5h-2Z"/><path class="d" d="M520.5 425V427M520.5 467V472M519.5 427.5h2V467.5h-2Z"/><path class="u" d="M521.5 454V457M521.5 467V499M520.5 457.5h2V467.5h-2Z"/><path class="d" d="M522.5 464V471M522.5 495V505M521.5 471.5h2V495.5h-2Z"/><path class="u" d="M523.5 451V453M523.5 487V493M522.5 453.5h2V487.5h-2Z"/><path class="u" d="M524.5 417V426M524.5 455V460M523.5 426.5h2V455.5h-2Z"/><path class="d" d="M525.5 412V427M525.5 433V440M524.5 427.5h2V433.5h-2Z"/><path class="d" d="M526.5 423V426M526.5 461V472M525.5 426.5h2V461.5h-2Z"/><path class="d" d="M527.5 453V460M527.5 462V486M526.5 460.5h2V462.5h-2Z"/><path class="d" d="M528.5 469V470M528.5 478V495M527.5 470.5h2V478.5h-2Z"/><path class="u" d="M529.5 480V486M528.5 460.5h2V480.5h-2Z"/><path class="d" d="M530.5 455V464M530.5 468V478M529.5 464.5h2V468.5h-2Z"/><path class="d" d="M531.5 448V463M531.5 468V473M530.5 463.5h2V468.5h-2Z"/><path class="d" d="M532.5 455V463M532.5 470V472M531.5 463.5h2V470.5h-2Z"/><path class="d" d="M533.5 468V469M533.5 472V483M532.5 469.5h2V472.5h-2Z"/><path class="d" d="M534.5 472V475M534.5 506V509M533.5 475.5h2V506.5h-2Z"/><path class="u" d="M535.5 499V502M534.5 467.5h2V499.5h-2Z"/><path class="d" d="M536.5 476V478M536.5 485V517M535.5 478.5h2V485.5h-2Z"/><path class="d" d="M537.5 532V546M536.5 493.5h2V532.5h-2Z"/><path class="d" d="M538.5 516V517M538.5 586V588M537.5 517.5h2V586.5h-2Z"/><path class="u" d="M539.5 564V567M539.5 583V589M538.5 567.5h2V583.5h-2Z"/><path class="d" d="M540.5 554V569M540.5 575V577M539.5 569.5h2V575.5h-2Z"/><path class="u" d="M541.5 541V546M541.5 570V576M540.5 546.5h2V570.5h-2Z"/><path class="u" d="M542.5 508V511M542.5 547V554M541.5 511.5h2V547.5h-2Z"/><path class="d" d="M543.5 515V519M543.5 537V544M542.5 519.5h2V537.5h-2Z"/><path class="u" d="M544.5 497V501M544.5 531V538M543.5 501.5h2V531.5h-2Z"/><path class="d" d="M545.5 492V505M545.5 511V515M544.5 505.5h2V511.5h-2Z"/><path class="u" d="M546.5 486V488M546.5 507V519M545.5 488.5h2V507.5h-2Z"/><path class="d" d="M547.5 487V490M547.5 498V504M546.5 490.5h2V498.5h-2Z"/><path class="d" d="M548.5 488V495M548.5 496V507M547.5 495.5h2V496.5h-2Z"/><path class="d" d="M549.5 493V497M549.5 506V511M548.5 497.5h2V506.5h-2Z"/><path class="u" d="M550.5 496V501M550.5 506V523M549.5 501.5h2V506.5h-2Z"/><path class="d" d="M551.5 498V507M551.5 535V542M550.5 507.5h2V535.5h-2Z"/><path class="d" d="M552.5 520V530M552.5 536V541M551.5 530.5h2V536.5h-2Z"/><path class="d" d="M553.5 526V534M553.5 541V545M552.5 534.5h2V541.5h-2Z"/><path class="d" d="M554.5 531V541M554.5 559V568M553.5 541.5h2V559.5h-2Z"/><path class="d" d="M555.5 545V555M555.5 563V573M554.5 555.5h2V563.5h-2Z"/><path class="d" d="M556.5 556V561M556.5 562V576M555.5 561.5h2V562.5h-2Z"/><path class="d" d="M557.5 561V564M557.5 570V589M556.5 564.5h2V570.5h-2Z"/><path class="d" d="M558.5 572V574M558.5 575V589M557.5 574.5h2V575.5h-2Z"/><path class="u" d="M559.5 551V553M559.5 575V586M558.5 553.5h2V575.5h-2Z"/><path class="u" d="M560.5 546V555M560.5 556V567M559.5 555.5h2V556.5h-2Z"/><path class="u" d="M561.5 532V533M561.5 552V554M560.5 533.5h2V552.5h-2Z"/><path class="u" d="M562.5 532V534M562.5 536V542M561.5 534.5h2V536.5h-2Z"/><path class="u" d="M563.5 490V497M563.5 522V525M562.5 497.5h2V522.5h-2Z"/><path class="u" d="M564.5 493V498M564.5 501V517M563.5 498.5h2V501.5h-2Z"/><path class="u" d="M565.5 472V475M565.5 498V502M564.5 475.5h2V498.5h-2Z"/><path class="u" d="M566.5 480V489M565.5 461.5h2V480.5h-2Z"/><path class="d" d="M567.5 465V468M567.5 483V491M566.5 468.5h2V483.5h-2Z"/><path class="u" d="M568.5 444V449M568.5 480V486M567.5 449.5h2V480.5h-2Z"/><path class="u" d="M569.5 441V452M569.5 455V465M568.5 452.5h2V455.5h-2Z"/><path class="u" d="M570.5 429V444M570.5 448V454M569.5 444.5h2V448.5h-2Z"/><path class="u" d="M571.5 416V430M571.5 438V442M570.5 430.5h2V438.5h-2Z"/><path class="u" d="M572.5 388V391M572.5 425V427M571.5 391.5h2V425.5h-2Z"/><path class="u" d="M573.5 376V390M573.5 396V409M572.5 390.5h2V396.5h-2Z"/><path class="u" d="M574.5 374V388M574.5 391V397M573.5 388.5h2V391.5h-2Z"/><path class="u" d="M575.5 361V362M575.5 384V390M574.5 362.5h2V384.5h-2Z"/><path class="d" d="M576.5 353V364M576.5 370V376M575.5 364.5h2V370.5h-2Z"/><path class="u" d="M577.5 364V367M576.5 350.5h2V364.5h-2Z"/><path class="d" d="M578.5 358V361M578.5 394V401M577.5 361.5h2V394.5h-2Z"/><path class="u" d="M579.5 352V364M579.5 395V402M578.5 364.5h2V395.5h-2Z"/><path class="d" d="M580.5 361V367M580.5 370V377M579.5 367.5h2V370.5h-2Z"/><path class="d" d="M581.5 358V369M581.5 388V403M580.5 369.5h2V388.5h-2Z"/><path class="u" d="M582.5 340V354M582.5 398V403M581.5 354.5h2V398.5h-2Z"/><path class="d" d="M583.5 347V352M583.5 365V374M582.5 352.5h2V365.5h-2Z"/><path class="d" d="M584.5 364V367M583.5 367.5h2V402.5h-2Z"/><path class="u" d="M585.5 363V367M585.5 386V389M584.5 367.5h2V386.5h-2Z"/><path class="d" d="M586.5 344V366M586.5 381V383M585.5 366.5h2V381.5h-2Z"/><path class="d" d="M587.5 343V369M587.5 374V389M586.5 369.5h2V374.5h-2Z"/><path class="u" d="M588.5 303V314M588.5 379V386M587.5 314.5h2V379.5h-2Z"/><path class="u" d="M589.5 276V283M589.5 320V325M588.5 283.5h2V320.5h-2Z"/><path class="u" d="M590.5 260V278M590.5 285V288M589.5 278.5h2V285.5h-2Z"/><path class="u" d="M591.5 247V261M590.5 261.5h2V273.5h-2Z"/><path class="u" d="M592.5 242V249M591.5 249.5h2V257.5h-2Z"/><path class="d" d="M593.5 242V248M593.5 277V281M592.5 248.5h2V277.5h-2Z"/><path class="d" d="M594.5 262V275M594.5 326V330M593.5 275.5h2V326.5h-2Z"/><path class="d" d="M595.5 315V318M595.5 382V389M594.5 318.5h2V382.5h-2Z"/><path class="u" d="M596.5 329V330M596.5 382V388M595.5 330.5h2V382.5h-2Z"/><path class="d" d="M597.5 322V331M597.5 333V344M596.5 331.5h2V333.5h-2Z"/><path class="d" d="M598.5 330V336M598.5 375V379M597.5 336.5h2V375.5h-2Z"/><path class="u" d="M599.5 327V329M599.5 374V381M598.5 329.5h2V374.5h-2Z"/><path class="u" d="M600.5 302V315M600.5 330V337M599.5 315.5h2V330.5h-2Z"/><path class="d" d="M601.5 294V313M601.5 338V348M600.5 313.5h2V338.5h-2Z"/><path class="d" d="M602.5 304V326M602.5 372V375M601.5 326.5h2V372.5h-2Z"/><path class="d" d="M603.5 370V375M602.5 331.5h2V370.5h-2Z"/><path class="u" d="M604.5 328V339M604.5 369V403M603.5 339.5h2V369.5h-2Z"/><path class="d" d="M605.5 354V357M605.5 387V391M604.5 357.5h2V387.5h-2Z"/><path class="d" d="M606.5 384V386M606.5 391V402M605.5 386.5h2V391.5h-2Z"/><path class="u" d="M607.5 374V377M606.5 377.5h2V390.5h-2Z"/><path class="d" d="M608.5 377V381M607.5 381.5h2V415.5h-2Z"/><path class="d" d="M609.5 406V413M609.5 432V438M608.5 413.5h2V432.5h-2Z"/><path class="d" d="M610.5 424V431M610.5 439V443M609.5 431.5h2V439.5h-2Z"/><path class="u" d="M611.5 386V389M611.5 434V442M610.5 389.5h2V434.5h-2Z"/><path class="u" d="M612.5 341V344M612.5 396V403M611.5 344.5h2V396.5h-2Z"/><path class="u" d="M613.5 327V328M613.5 345V351M612.5 328.5h2V345.5h-2Z"/><path class="u" d="M614.5 312V313M614.5 331V340M613.5 313.5h2V331.5h-2Z"/><path class="u" d="M615.5 304V305M615.5 322V341M614.5 305.5h2V322.5h-2Z"/><path class="u" d="M616.5 308V313M616.5 315V331M615.5 313.5h2V315.5h-2Z"/><path class="u" d="M617.5 300V301M617.5 314V320M616.5 301.5h2V314.5h-2Z"/><path class="d" d="M618.5 296V302M618.5 312V314M617.5 302.5h2V312.5h-2Z"/><path class="d" d="M619.5 300V309M619.5 323V327M618.5 309.5h2V323.5h-2Z"/><path class="d" d="M620.5 318V322M619.5 322.5h2V334.5h-2Z"/><path class="u" d="M621.5 310V330M621.5 332V335M620.5 330.5h2V332.5h-2Z"/><path class="u" d="M622.5 273V278M622.5 324V331M621.5 278.5h2V324.5h-2Z"/><path class="u" d="M623.5 269V275M623.5 285V298M622.5 275.5h2V285.5h-2Z"/><path class="d" d="M624.5 258V276M624.5 288V293M623.5 276.5h2V288.5h-2Z"/><path class="u" d="M625.5 253V257M625.5 280V298M624.5 257.5h2V280.5h-2Z"/><path class="u" d="M626.5 232V239M626.5 287V293M625.5 239.5h2V287.5h-2Z"/><path class="u" d="M627.5 220V223M626.5 223.5h2V239.5h-2Z"/><path class="d" d="M628.5 223V224M628.5 234V241M627.5 224.5h2V234.5h-2Z"/><path class="d" d="M629.5 233V234M629.5 251V260M628.5 234.5h2V251.5h-2Z"/><path class="u" d="M630.5 210V212M630.5 254V259M629.5 212.5h2V254.5h-2Z"/><path class="u" d="M631.5 206V212M631.5 213V222M630.5 212.5h2V213.5h-2Z"/><path class="u" d="M632.5 193V196M632.5 215V227M631.5 196.5h2V215.5h-2Z"/><path class="u" d="M633.5 182V187M633.5 203V220M632.5 187.5h2V203.5h-2Z"/><path class="u" d="M634.5 180V188M634.5 190V202M633.5 188.5h2V190.5h-2Z"/><path class="u" d="M635.5 168V169M635.5 186V189M634.5 169.5h2V186.5h-2Z"/><path class="u" d="M636.5 160V162M636.5 169V179M635.5 162.5h2V169.5h-2Z"/><path class="u" d="M637.5 156V160M637.5 163V179M636.5 160.5h2V163.5h-2Z"/><path class="u" d="M638.5 159V162M638.5 165V179M637.5 162.5h2V165.5h-2Z"/><path class="u" d="M639.5 114V115M639.5 163V169M638.5 115.5h2V163.5h-2Z"/><path class="d" d="M640.5 118V125M640.5 132V151M639.5 125.5h2V132.5h-2Z"/><path class="d" d="M641.5 116V129M641.5 132V138M640.5 129.5h2V132.5h-2Z"/><path class="u" d="M642.5 115V127M642.5 128V141M641.5 127.5h2V128.5h-2Z"/><path class="d" d="M643.5 122V126M643.5 146V157M642.5 126.5h2V146.5h-2Z"/><path class="d" d="M644.5 126V141M644.5 156V162M643.5 141.5h2V156.5h-2Z"/><path class="d" d="M645.5 134V151M645.5 161V165M644.5 151.5h2V161.5h-2Z"/><path class="d" d="M646.5 149V158M646.5 170V174M645.5 158.5h2V170.5h-2Z"/><path class="d" d="M647.5 166V169M647.5 180V196M646.5 169.5h2V180.5h-2Z"/><path class="d" d="M648.5 182V184M648.5 194V223M647.5 184.5h2V194.5h-2Z"/><path class="d" d="M649.5 195V203M649.5 242V244M648.5 203.5h2V242.5h-2Z"/><path class="d" d="M650.5 233V240M650.5 250V253M649.5 240.5h2V250.5h-2Z"/><path class="u" d="M651.5 186V187M650.5 187.5h2V246.5h-2Z"/><path class="u" d="M652.5 183V186M652.5 198V217M651.5 186.5h2V198.5h-2Z"/><path class="u" d="M653.5 164V170M653.5 190V200M652.5 170.5h2V190.5h-2Z"/><path class="u" d="M654.5 158V161M654.5 176V191M653.5 161.5h2V176.5h-2Z"/><path class="d" d="M655.5 164V174M655.5 245V261M654.5 174.5h2V245.5h-2Z"/><path class="u" d="M656.5 132V136M656.5 250V259M655.5 136.5h2V250.5h-2Z"/><path class="d" d="M657.5 126V137M657.5 156V158M656.5 137.5h2V156.5h-2Z"/><path class="d" d="M658.5 132V147M658.5 153V155M657.5 147.5h2V153.5h-2Z"/><path class="d" d="M659.5 144V149M659.5 178V182M658.5 149.5h2V178.5h-2Z"/><path class="d" d="M660.5 154V169M660.5 196V200M659.5 169.5h2V196.5h-2Z"/><path class="d" d="M661.5 172V174M661.5 248V257M660.5 174.5h2V248.5h-2Z"/><path class="u" d="M662.5 183V185M662.5 247V256M661.5 185.5h2V247.5h-2Z"/><path class="d" d="M663.5 180V185M663.5 205V212M662.5 185.5h2V205.5h-2Z"/><path class="u" d="M664.5 185V193M664.5 199V217M663.5 193.5h2V199.5h-2Z"/><path class="d" d="M665.5 204V211M665.5 275V283M664.5 211.5h2V275.5h-2Z"/><path class="u" d="M666.5 219V233M666.5 275V284M665.5 233.5h2V275.5h-2Z"/><path class="d" d="M667.5 240V244M667.5 291V299M666.5 244.5h2V291.5h-2Z"/><path class="u" d="M668.5 268V287M668.5 291V299M667.5 287.5h2V291.5h-2Z"/><path class="u" d="M669.5 258V267M669.5 281V285M668.5 267.5h2V281.5h-2Z"/><path class="u" d="M670.5 242V261M670.5 266V269M669.5 261.5h2V266.5h-2Z"/><path class="u" d="M671.5 234V247M671.5 254V261M670.5 247.5h2V254.5h-2Z"/><path class="u" d="M672.5 244V247M671.5 222.5h2V244.5h-2Z"/><path class="u" d="M673.5 226V241M672.5 222.5h2V226.5h-2Z"/><path class="d" d="M674.5 222V224M674.5 229V232M673.5 224.5h2V229.5h-2Z"/><path class="u" d="M675.5 228V240M674.5 222.5h2V228.5h-2Z"/><path class="d" d="M675.5 228.5h2V253.5h-2Z"/><path class="d" d="M677.5 238V252M677.5 253V271M676.5 252.5h2V253.5h-2Z"/><path class="d" d="M678.5 265V269M678.5 303V309M677.5 269.5h2V303.5h-2Z"/><path class="u" d="M679.5 270V271M679.5 302V309M678.5 271.5h2V302.5h-2Z"/><path class="u" d="M680.5 262V263M680.5 271V276M679.5 263.5h2V271.5h-2Z"/><path class="d" d="M681.5 262V264M681.5 272V283M680.5 264.5h2V272.5h-2Z"/><path class="u" d="M682.5 270V276M681.5 263.5h2V270.5h-2Z"/><path class="d" d="M683.5 263V267M683.5 306V312M682.5 267.5h2V306.5h-2Z"/><path class="d" d="M684.5 286V299M684.5 301V314M683.5 299.5h2V301.5h-2Z"/><path class="d" d="M685.5 298V303M685.5 320V338M684.5 303.5h2V320.5h-2Z"/><path class="d" d="M686.5 326V327M686.5 402V407M685.5 327.5h2V402.5h-2Z"/><path class="u" d="M687.5 350V357M687.5 398V408M686.5 357.5h2V398.5h-2Z"/><path class="u" d="M688.5 326V327M688.5 358V366M687.5 327.5h2V358.5h-2Z"/><path class="d" d="M689.5 336V337M689.5 338V350M688.5 337.5h2V338.5h-2Z"/><path class="u" d="M690.5 336V337M690.5 339V350M689.5 337.5h2V339.5h-2Z"/><path class="d" d="M691.5 337V339M691.5 366V372M690.5 339.5h2V366.5h-2Z"/><path class="d" d="M692.5 346V359M692.5 374V380M691.5 359.5h2V374.5h-2Z"/><path class="d" d="M693.5 351V368M693.5 387V393M692.5 368.5h2V387.5h-2Z"/><path class="d" d="M694.5 371V381M694.5 415V422M693.5 381.5h2V415.5h-2Z"/><path class="d" d="M695.5 377V387M695.5 419V422M694.5 387.5h2V419.5h-2Z"/><path class="d" d="M696.5 411V417M696.5 452V455M695.5 417.5h2V452.5h-2Z"/><path class="d" d="M697.5 443V451M697.5 517V524M696.5 451.5h2V517.5h-2Z"/><path class="u" d="M698.5 475V481M698.5 513V524M697.5 481.5h2V513.5h-2Z"/><path class="u" d="M699.5 474V475M699.5 481V489M698.5 475.5h2V481.5h-2Z"/><path class="u" d="M700.5 447V451M700.5 476V488M699.5 451.5h2V476.5h-2Z"/><path class="d" d="M701.5 452V457M701.5 486V489M700.5 457.5h2V486.5h-2Z"/><path class="u" d="M702.5 409V413M702.5 474V477M701.5 413.5h2V474.5h-2Z"/><path class="d" d="M703.5 416V423M702.5 423.5h2V445.5h-2Z"/><path class="u" d="M704.5 404V421M704.5 436V438M703.5 421.5h2V436.5h-2Z"/><path class="u" d="M705.5 380V386M704.5 386.5h2V417.5h-2Z"/><path class="u" d="M706.5 370V377M706.5 391V414M705.5 377.5h2V391.5h-2Z"/><path class="u" d="M707.5 355V359M707.5 378V384M706.5 359.5h2V378.5h-2Z"/><path class="d" d="M708.5 358V363M708.5 364V369M707.5 363.5h2V364.5h-2Z"/><path class="u" d="M709.5 354V358M709.5 362V365M708.5 358.5h2V362.5h-2Z"/><path class="u" d="M710.5 354V355M710.5 359V379M709.5 355.5h2V359.5h-2Z"/><path class="d" d="M711.5 383V397M710.5 361.5h2V383.5h-2Z"/><path class="d" d="M712.5 382V387M712.5 401V414M711.5 387.5h2V401.5h-2Z"/><path class="u" d="M713.5 402V406M712.5 368.5h2V402.5h-2Z"/><path class="d" d="M714.5 368V373M714.5 409V414M713.5 373.5h2V409.5h-2Z"/><path class="d" d="M715.5 374V383M715.5 416V421M714.5 383.5h2V416.5h-2Z"/><path class="u" d="M716.5 384V390M716.5 415V443M715.5 390.5h2V415.5h-2Z"/><path class="d" d="M717.5 457V459M716.5 408.5h2V457.5h-2Z"/><path class="d" d="M718.5 442V452M718.5 491V496M717.5 452.5h2V491.5h-2Z"/><path class="d" d="M719.5 454V477M719.5 492V497M718.5 477.5h2V492.5h-2Z"/><path class="d" d="M720.5 455V462M720.5 496V501M719.5 462.5h2V496.5h-2Z"/><path class="u" d="M721.5 420V423M721.5 497V503M720.5 423.5h2V497.5h-2Z"/><path class="u" d="M722.5 392V393M722.5 425V429M721.5 393.5h2V425.5h-2Z"/><path class="d" d="M723.5 396V399M723.5 408V411M722.5 399.5h2V408.5h-2Z"/><path class="d" d="M724.5 394V404M724.5 413V416M723.5 404.5h2V413.5h-2Z"/><path class="d" d="M725.5 395V408M725.5 409V414M724.5 408.5h2V409.5h-2Z"/><path class="d" d="M726.5 409V410M726.5 423V435M725.5 410.5h2V423.5h-2Z"/><path class="d" d="M727.5 422V424M727.5 463V467M726.5 424.5h2V463.5h-2Z"/><path class="d" d="M728.5 441V455M727.5 455.5h2V478.5h-2Z"/><path class="u" d="M729.5 439V443M729.5 475V481M728.5 443.5h2V475.5h-2Z"/><path class="d" d="M730.5 438V444M730.5 454V456M729.5 444.5h2V454.5h-2Z"/><path class="d" d="M731.5 440V451M731.5 459V465M730.5 451.5h2V459.5h-2Z"/><path class="d" d="M732.5 457V460M732.5 465V471M731.5 460.5h2V465.5h-2Z"/><path class="d" d="M733.5 448V465M733.5 466V471M732.5 465.5h2V466.5h-2Z"/><path class="u" d="M734.5 434V452M734.5 462V466M733.5 452.5h2V462.5h-2Z"/><path class="u" d="M735.5 430V433M735.5 450V452M734.5 433.5h2V450.5h-2Z"/><path class="u" d="M736.5 416V420M736.5 433V440M735.5 420.5h2V433.5h-2Z"/><path class="u" d="M737.5 402V405M737.5 421V427M736.5 405.5h2V421.5h-2Z"/><path class="u" d="M738.5 396V398M738.5 408V417M737.5 398.5h2V408.5h-2Z"/><path class="u" d="M739.5 386V392M739.5 401V407M738.5 392.5h2V401.5h-2Z"/><path class="u" d="M740.5 378V386M740.5 394V403M739.5 386.5h2V394.5h-2Z"/><path class="u" d="M741.5 378V387M741.5 388V391M740.5 387.5h2V388.5h-2Z"/><path class="u" d="M742.5 385V388M741.5 376.5h2V385.5h-2Z"/><path class="u" d="M743.5 329V348M743.5 355V359M742.5 348.5h2V355.5h-2Z"/><path class="u" d="M744.5 324V335M744.5 343V347M743.5 335.5h2V343.5h-2Z"/><path class="d" d="M745.5 327V332M745.5 339V341M744.5 332.5h2V339.5h-2Z"/><path class="u" d="M746.5 324V327M746.5 337V339M745.5 327.5h2V337.5h-2Z"/><path class="u" d="M747.5 315V323M747.5 328V335M746.5 323.5h2V328.5h-2Z"/><path class="d" d="M748.5 308V321M748.5 326V334M747.5 321.5h2V326.5h-2Z"/><path class="u" d="M749.5 308V310M749.5 321V325M748.5 310.5h2V321.5h-2Z"/><path class="d" d="M750.5 312V314M750.5 362V365M749.5 314.5h2V362.5h-2Z"/><path class="u" d="M751.5 331V347M751.5 352V365M750.5 347.5h2V352.5h-2Z"/><path class="d" d="M752.5 348V352M752.5 367V375M751.5 352.5h2V367.5h-2Z"/><path class="d" d="M753.5 366V368M753.5 381V394M752.5 368.5h2V381.5h-2Z"/><path class="d" d="M754.5 377V384M753.5 384.5h2V404.5h-2Z"/><path class="u" d="M755.5 371V373M754.5 373.5h2V401.5h-2Z"/><path class="d" d="M756.5 379V380M756.5 388V390M755.5 380.5h2V388.5h-2Z"/><path class="d" d="M757.5 382V386M757.5 397V399M756.5 386.5h2V397.5h-2Z"/><path class="d" d="M758.5 389V394M758.5 407V415M757.5 394.5h2V407.5h-2Z"/><path class="u" d="M759.5 408V415M758.5 374.5h2V408.5h-2Z"/><path class="u" d="M760.5 378V385M759.5 370.5h2V378.5h-2Z"/><path class="d" d="M761.5 370V373M761.5 379V385M760.5 373.5h2V379.5h-2Z"/><path class="d" d="M762.5 376V378M762.5 388V393M761.5 378.5h2V388.5h-2Z"/><path class="u" d="M763.5 383V387M763.5 388V397M762.5 387.5h2V388.5h-2Z"/><path class="d" d="M764.5 384V390M764.5 412V416M763.5 390.5h2V412.5h-2Z"/><path class="d" d="M765.5 401V408M765.5 426V429M764.5 408.5h2V426.5h-2Z"/><path class="u" d="M766.5 406V418M766.5 420V422M765.5 418.5h2V420.5h-2Z"/><path class="u" d="M767.5 419V427M766.5 411.5h2V419.5h-2Z"/><path class="d" d="M768.5 410V415M768.5 416V425M767.5 415.5h2V416.5h-2Z"/><path class="u" d="M769.5 414V421M768.5 403.5h2V414.5h-2Z"/><path class="u" d="M770.5 402V403M770.5 404V413M769.5 403.5h2V404.5h-2Z"/><path class="d" d="M771.5 402V404M771.5 417V420M770.5 404.5h2V417.5h-2Z"/><path class="d" d="M772.5 410V415M771.5 415.5h2V435.5h-2Z"/><path class="d" d="M773.5 425V432M773.5 445V453M772.5 432.5h2V445.5h-2Z"/><path class="d" d="M774.5 461V466M774.5 510V514M773.5 466.5h2V510.5h-2Z"/><path class="d" d="M775.5 499V507M775.5 525V531M774.5 507.5h2V525.5h-2Z"/><path class="d" d="M776.5 525V526M776.5 579V589M775.5 526.5h2V579.5h-2Z"/><path class="u" d="M777.5 521V526M777.5 580V588M776.5 526.5h2V580.5h-2Z"/><path class="d" d="M778.5 523V527M778.5 545V549M777.5 527.5h2V545.5h-2Z"/><path class="d" d="M779.5 525V539M779.5 559V565M778.5 539.5h2V559.5h-2Z"/><path class="u" d="M780.5 525V533M780.5 545V547M779.5 533.5h2V545.5h-2Z"/><path class="u" d="M781.5 533V535M781.5 537V547M780.5 535.5h2V537.5h-2Z"/><path class="u" d="M782.5 534V535M782.5 537V543M781.5 535.5h2V537.5h-2Z"/><path class="u" d="M783.5 535V537M783.5 538V551M782.5 537.5h2V538.5h-2Z"/><path class="d" d="M784.5 539V541M784.5 550V558M783.5 541.5h2V550.5h-2Z"/><path class="d" d="M785.5 549V551M785.5 563V571M784.5 551.5h2V563.5h-2Z"/><path class="d" d="M786.5 559V562M786.5 566V573M785.5 562.5h2V566.5h-2Z"/><path class="d" d="M787.5 566V567M786.5 567.5h2V590.5h-2Z"/><path class="u" d="M788.5 553V554M788.5 589V591M787.5 554.5h2V589.5h-2Z"/><path class="d" d="M789.5 544V554M788.5 554.5h2V557.5h-2Z"/><path class="d" d="M790.5 548V555M790.5 567V570M789.5 555.5h2V567.5h-2Z"/><path class="d" d="M791.5 560V564M790.5 564.5h2V566.5h-2Z"/><path class="d" d="M792.5 561V565M791.5 565.5h2V568.5h-2Z"/><path class="u" d="M793.5 558V560M793.5 566V569M792.5 560.5h2V566.5h-2Z"/><path class="d" d="M794.5 558V560M794.5 566V573M793.5 560.5h2V566.5h-2Z"/><path class="d" d="M795.5 563V566M795.5 575V579M794.5 566.5h2V575.5h-2Z"/><path class="d" d="M796.5 567V574M796.5 585V593M795.5 574.5h2V585.5h-2Z"/><path class="u" d="M797.5 573V577M797.5 583V599M796.5 577.5h2V583.5h-2Z"/><path class="d" d="M798.5 577V582M798.5 598V600M797.5 582.5h2V598.5h-2Z"/><path class="d" d="M799.5 624V626M799.5 654V659M798.5 626.5h2V654.5h-2Z"/><path class="d" d="M800.5 638V649M800.5 660V679M799.5 649.5h2V660.5h-2Z"/><path class="d" d="M800.5 664.5h2V696.5h-2Z"/><path class="u" d="M802.5 650V653M802.5 694V697M801.5 653.5h2V694.5h-2Z"/><path class="d" d="M803.5 659V673M802.5 658.5h2V659.5h-2Z"/><path class="d" d="M804.5 660V661M804.5 666V675M803.5 661.5h2V666.5h-2Z"/><path class="d" d="M805.5 667V668M805.5 683V685M804.5 668.5h2V683.5h-2Z"/><path class="u" d="M806.5 677V678M806.5 682V686M805.5 678.5h2V682.5h-2Z"/><path class="u" d="M807.5 671V675M807.5 678V681M806.5 675.5h2V678.5h-2Z"/><path class="u" d="M808.5 661V662M807.5 662.5h2V674.5h-2Z"/><path class="d" d="M809.5 660V663M809.5 666V673M808.5 663.5h2V666.5h-2Z"/><path class="d" d="M810.5 663V666M810.5 675V677M809.5 666.5h2V675.5h-2Z"/><path class="d" d="M811.5 668V675M811.5 698V700M810.5 675.5h2V698.5h-2Z"/><path class="u" d="M812.5 674V678M812.5 697V700M811.5 678.5h2V697.5h-2Z"/><path class="u" d="M813.5 672V674M813.5 679V684M812.5 674.5h2V679.5h-2Z"/><path class="d" d="M814.5 674V677M814.5 678V687M813.5 677.5h2V678.5h-2Z"/><path class="u" d="M815.5 679V683M814.5 672.5h2V679.5h-2Z"/><path class="u" d="M816.5 662V666M816.5 674V684M815.5 666.5h2V674.5h-2Z"/><path class="u" d="M817.5 656V660M817.5 667V677M816.5 660.5h2V667.5h-2Z"/><path class="d" d="M818.5 657V661M817.5 661.5h2V673.5h-2Z"/><path class="d" d="M819.5 662V669M819.5 679V686M818.5 669.5h2V679.5h-2Z"/><path class="d" d="M820.5 675V679M820.5 689V697M819.5 679.5h2V689.5h-2Z"/><path class="u" d="M821.5 674V676M821.5 691V696M820.5 676.5h2V691.5h-2Z"/><path class="u" d="M822.5 654V660M822.5 676V682M821.5 660.5h2V676.5h-2Z"/><path class="u" d="M823.5 654V657M823.5 664V676M822.5 657.5h2V664.5h-2Z"/><path class="u" d="M824.5 620V637M824.5 642V645M823.5 637.5h2V642.5h-2Z"/><path class="u" d="M825.5 606V619M825.5 633V637M824.5 619.5h2V633.5h-2Z"/><path class="u" d="M826.5 604V606M826.5 616V619M825.5 606.5h2V616.5h-2Z"/><path class="d" d="M827.5 604V607M827.5 617V621M826.5 607.5h2V617.5h-2Z"/><path class="d" d="M828.5 608V616M828.5 618V620M827.5 616.5h2V618.5h-2Z"/><path class="u" d="M829.5 601V609M829.5 616V618M828.5 609.5h2V616.5h-2Z"/><path class="u" d="M830.5 608V614M829.5 601.5h2V608.5h-2Z"/><path class="d" d="M831.5 600V605M831.5 641V643M830.5 605.5h2V641.5h-2Z"/><path class="u" d="M832.5 596V597M832.5 628V643M831.5 597.5h2V628.5h-2Z"/><path class="u" d="M833.5 582V595M833.5 600V607M832.5 595.5h2V600.5h-2Z"/><path class="d" d="M834.5 586V592M834.5 598V607M833.5 592.5h2V598.5h-2Z"/><path class="d" d="M835.5 590V598M835.5 599V605M834.5 598.5h2V599.5h-2Z"/><path class="u" d="M836.5 588V590M836.5 598V606M835.5 590.5h2V598.5h-2Z"/><path class="d" d="M837.5 594V598M836.5 591.5h2V594.5h-2Z"/><path class="d" d="M838.5 594V595M837.5 595.5h2V604.5h-2Z"/><path class="d" d="M839.5 594V603M839.5 606V608M838.5 603.5h2V606.5h-2Z"/><path class="u" d="M840.5 583V589M840.5 604V607M839.5 589.5h2V604.5h-2Z"/><path class="u" d="M841.5 559V564M841.5 589V594M840.5 564.5h2V589.5h-2Z"/><path class="d" d="M842.5 561V569M842.5 574V586M841.5 569.5h2V574.5h-2Z"/><path class="u" d="M843.5 550V551M843.5 571V579M842.5 551.5h2V571.5h-2Z"/><path class="u" d="M844.5 546V551M844.5 554V564M843.5 551.5h2V554.5h-2Z"/><path class="u" d="M845.5 553V560M844.5 546.5h2V553.5h-2Z"/><path class="d" d="M846.5 546V549M846.5 551V554M845.5 549.5h2V551.5h-2Z"/><path class="d" d="M847.5 550V551M847.5 559V564M846.5 551.5h2V559.5h-2Z"/><path class="u" d="M848.5 551V554M848.5 559V582M847.5 554.5h2V559.5h-2Z"/><path class="d" d="M849.5 560V561M849.5 606V611M848.5 561.5h2V606.5h-2Z"/><path class="d" d="M850.5 580V598M850.5 607V611M849.5 598.5h2V607.5h-2Z"/><path class="u" d="M851.5 604V614M850.5 595.5h2V604.5h-2Z"/><path class="d" d="M852.5 590V600M852.5 610V613M851.5 600.5h2V610.5h-2Z"/><path class="d" d="M853.5 590V604M853.5 608V616M852.5 604.5h2V608.5h-2Z"/><path class="d" d="M854.5 596V604M854.5 610V617M853.5 604.5h2V610.5h-2Z"/><path class="d" d="M855.5 608V611M855.5 623V635M854.5 611.5h2V623.5h-2Z"/><path class="u" d="M856.5 613V614M856.5 626V634M855.5 614.5h2V626.5h-2Z"/><path class="u" d="M857.5 607V614M856.5 614.5h2V615.5h-2Z"/><path class="u" d="M858.5 609V610M858.5 613V616M857.5 610.5h2V613.5h-2Z"/><path class="d" d="M859.5 608V610M859.5 615V617M858.5 610.5h2V615.5h-2Z"/><path class="u" d="M860.5 613V615M859.5 604.5h2V613.5h-2Z"/><path class="u" d="M861.5 596V598M861.5 605V610M860.5 598.5h2V605.5h-2Z"/><path class="d" d="M862.5 598V599M861.5 599.5h2V624.5h-2Z"/><path class="u" d="M863.5 602V617M863.5 622V624M862.5 617.5h2V622.5h-2Z"/><path class="u" d="M864.5 597V603M864.5 612V617M863.5 603.5h2V612.5h-2Z"/><path class="u" d="M865.5 587V590M865.5 602V605M864.5 590.5h2V602.5h-2Z"/><path class="d" d="M866.5 584V590M865.5 590.5h2V597.5h-2Z"/><path class="d" d="M867.5 582V593M867.5 599V603M866.5 593.5h2V599.5h-2Z"/><path class="d" d="M868.5 596V598M868.5 613V616M867.5 598.5h2V613.5h-2Z"/><path class="d" d="M869.5 606V611M869.5 612V626M868.5 611.5h2V612.5h-2Z"/><path class="d" d="M870.5 608V614M870.5 634V638M869.5 614.5h2V634.5h-2Z"/><path class="d" d="M871.5 639V640M871.5 650V653M870.5 640.5h2V650.5h-2Z"/><path class="u" d="M872.5 646V647M872.5 650V655M871.5 647.5h2V650.5h-2Z"/><path class="u" d="M873.5 647V648M873.5 649V655M872.5 648.5h2V649.5h-2Z"/><path class="d" d="M874.5 648V650M874.5 659V665M873.5 650.5h2V659.5h-2Z"/><path class="u" d="M875.5 642V643M875.5 660V665M874.5 643.5h2V660.5h-2Z"/><path class="u" d="M876.5 642V644M876.5 646V650M875.5 644.5h2V646.5h-2Z"/><path class="u" d="M877.5 642V643M877.5 645V648M876.5 643.5h2V645.5h-2Z"/><path class="d" d="M878.5 645V650M877.5 644.5h2V645.5h-2Z"/><path class="d" d="M879.5 645V646M879.5 650V653M878.5 646.5h2V650.5h-2Z"/><path class="u" d="M879.5 647.5h2V650.5h-2Z"/><path class="u" d="M881.5 646V648M880.5 648.5h2V649.5h-2Z"/><path class="u" d="M882.5 643V647M881.5 647.5h2V648.5h-2Z"/><path class="u" d="M883.5 641V644M882.5 644.5h2V646.5h-2Z"/><path class="d" d="M884.5 643V644M883.5 644.5h2V646.5h-2Z"/><path class="d" d="M885.5 645V646M885.5 651V654M884.5 646.5h2V651.5h-2Z"/><path class="d" d="M886.5 648V650M886.5 654V657M885.5 650.5h2V654.5h-2Z"/><path class="u" d="M887.5 649V650M886.5 650.5h2V653.5h-2Z"/><path class="u" d="M888.5 646V647M888.5 651V657M887.5 647.5h2V651.5h-2Z"/><path class="d" d="M889.5 648V650M889.5 666V669M888.5 650.5h2V666.5h-2Z"/><path class="u" d="M890.5 652V656M890.5 666V668M889.5 656.5h2V666.5h-2Z"/><path class="u" d="M890.5 651.5h2V655.5h-2Z"/><path class="d" d="M892.5 650V651M891.5 651.5h2V653.5h-2Z"/><path class="u" d="M893.5 649V650M893.5 652V655M892.5 650.5h2V652.5h-2Z"/><path class="u" d="M894.5 640V644M894.5 651V657M893.5 644.5h2V651.5h-2Z"/><path class="u" d="M895.5 646V647M895.5 648V659M894.5 647.5h2V648.5h-2Z"/><path class="u" d="M896.5 635V637M896.5 648V656M895.5 637.5h2V648.5h-2Z"/><path class="u" d="M897.5 609V610M897.5 638V644M896.5 610.5h2V638.5h-2Z"/><path class="u" d="M898.5 609V616M898.5 617V632M897.5 616.5h2V617.5h-2Z"/><path class="u" d="M899.5 609V610M899.5 614V618M898.5 610.5h2V614.5h-2Z"/><path class="d" d="M900.5 607V612M900.5 614V622M899.5 612.5h2V614.5h-2Z"/><path class="u" d="M901.5 608V609M901.5 616V622M900.5 609.5h2V616.5h-2Z"/><path class="u" d="M902.5 607V611M902.5 612V618M901.5 611.5h2V612.5h-2Z"/><path class="d" d="M903.5 605V610M903.5 611V614M902.5 610.5h2V611.5h-2Z"/><path class="u" d="M904.5 604V605M904.5 610V613M903.5 605.5h2V610.5h-2Z"/><path class="u" d="M905.5 595V600M905.5 606V611M904.5 600.5h2V606.5h-2Z"/><path class="d" d="M906.5 598V600M906.5 606V613M905.5 600.5h2V606.5h-2Z"/><path class="u" d="M907.5 595V596M907.5 604V611M906.5 596.5h2V604.5h-2Z"/><path class="d" d="M908.5 599V601M907.5 601.5h2V636.5h-2Z"/><path class="d" d="M909.5 620V628M909.5 662V665M908.5 628.5h2V662.5h-2Z"/><path class="d" d="M910.5 657V661M910.5 663V687M909.5 661.5h2V663.5h-2Z"/><path class="u" d="M911.5 671V687M910.5 657.5h2V671.5h-2Z"/><path class="u" d="M912.5 654V656M912.5 660V666M911.5 656.5h2V660.5h-2Z"/><path class="u" d="M913.5 654V656M913.5 657V670M912.5 656.5h2V657.5h-2Z"/><path class="d" d="M914.5 656V657M914.5 662V672M913.5 657.5h2V662.5h-2Z"/><path class="d" d="M915.5 662V663M915.5 669V672M914.5 663.5h2V669.5h-2Z"/><path class="d" d="M916.5 671V679M915.5 669.5h2V671.5h-2Z"/><path class="d" d="M917.5 671V673M917.5 680V686M916.5 673.5h2V680.5h-2Z"/><path class="u" d="M918.5 676V677M918.5 682V687M917.5 677.5h2V682.5h-2Z"/><path class="u" d="M919.5 671V674M919.5 677V679M918.5 674.5h2V677.5h-2Z"/><path class="u" d="M920.5 674V677M919.5 668.5h2V674.5h-2Z"/><path class="u" d="M921.5 665V666M921.5 669V673M920.5 666.5h2V669.5h-2Z"/><path class="u" d="M922.5 658V663M922.5 666V669M921.5 663.5h2V666.5h-2Z"/><path class="u" d="M923.5 659V661M923.5 664V667M922.5 661.5h2V664.5h-2Z"/><path class="u" d="M924.5 655V659M924.5 660V663M923.5 659.5h2V660.5h-2Z"/><path class="u" d="M925.5 652V653M925.5 658V660M924.5 653.5h2V658.5h-2Z"/><path class="d" d="M926.5 651V654M926.5 655V659M925.5 654.5h2V655.5h-2Z"/><path class="d" d="M927.5 655V656M927.5 660V662M926.5 656.5h2V660.5h-2Z"/><path class="u" d="M928.5 656V657M928.5 660V662M927.5 657.5h2V660.5h-2Z"/><path class="u" d="M929.5 655V658M929.5 659V661M928.5 658.5h2V659.5h-2Z"/><path class="d" d="M930.5 655V657M929.5 657.5h2V658.5h-2Z"/><path class="u" d="M931.5 653V655M931.5 657V659M930.5 655.5h2V657.5h-2Z"/><path class="u" d="M932.5 649V650M931.5 650.5h2V654.5h-2Z"/><path class="u" d="M933.5 644V646M933.5 651V656M932.5 646.5h2V651.5h-2Z"/><path class="d" d="M934.5 644V647M934.5 651V654M933.5 647.5h2V651.5h-2Z"/><path class="d" d="M935.5 648V650M935.5 661V663M934.5 650.5h2V661.5h-2Z"/><path class="d" d="M936.5 648V658M935.5 658.5h2V660.5h-2Z"/><path class="d" d="M937.5 653V660M937.5 670V672M936.5 660.5h2V670.5h-2Z"/><path class="d" d="M938.5 662V668M938.5 673V676M937.5 668.5h2V673.5h-2Z"/><path class="u" d="M939.5 666V669M939.5 672V675M938.5 669.5h2V672.5h-2Z"/><path class="d" d="M940.5 666V670M940.5 671V674M939.5 670.5h2V671.5h-2Z"/><path class="u" d="M941.5 667V669M940.5 669.5h2V670.5h-2Z"/><path class="d" d="M942.5 665V668M941.5 668.5h2V669.5h-2Z"/><path class="d" d="M943.5 665V668M943.5 669V671M942.5 668.5h2V669.5h-2Z"/><path class="d" d="M944.5 671V673M943.5 668.5h2V671.5h-2Z"/><path class="u" d="M945.5 669V670M944.5 670.5h2V671.5h-2Z"/><path class="u" d="M946.5 670V672M945.5 667.5h2V670.5h-2Z"/><path class="d" d="M947.5 666V668M947.5 669V672M946.5 668.5h2V669.5h-2Z"/><path class="u" d="M947.5 665.5h2V668.5h-2Z"/><path class="d" d="M949.5 663V665M948.5 665.5h2V668.5h-2Z"/><path class="u" d="M950.5 666V668M949.5 658.5h2V666.5h-2Z"/><path class="u" d="M951.5 651V658M951.5 659V663M950.5 658.5h2V659.5h-2Z"/><path class="u" d="M952.5 645V650M952.5 658V661M951.5 650.5h2V658.5h-2Z"/><path class="d" d="M953.5 647V651M953.5 652V657M952.5 651.5h2V652.5h-2Z"/><path class="u" d="M954.5 641V648M954.5 651V655M953.5 648.5h2V651.5h-2Z"/><path class="d" d="M955.5 640V647M954.5 647.5h2V648.5h-2Z"/><path class="u" d="M956.5 631V633M956.5 645V648M955.5 633.5h2V645.5h-2Z"/><path class="u" d="M957.5 627V628M957.5 635V644M956.5 628.5h2V635.5h-2Z"/><path class="d" d="M958.5 608V612M957.5 612.5h2V613.5h-2Z"/><path class="u" d="M959.5 608V611M958.5 611.5h2V612.5h-2Z"/><path class="d" d="M960.5 609V611M960.5 617V619M959.5 611.5h2V617.5h-2Z"/><path class="u" d="M961.5 601V605M961.5 616V618M960.5 605.5h2V616.5h-2Z"/><path class="d" d="M962.5 599V604M962.5 609V615M961.5 604.5h2V609.5h-2Z"/><path class="u" d="M963.5 606V607M963.5 610V615M962.5 607.5h2V610.5h-2Z"/><path class="d" d="M964.5 605V607M964.5 610V612M963.5 607.5h2V610.5h-2Z"/><path class="d" d="M965.5 604V609M965.5 610V613M964.5 609.5h2V610.5h-2Z"/><path class="u" d="M966.5 608V610M965.5 610.5h2V611.5h-2Z"/><path class="d" d="M967.5 611V613M966.5 610.5h2V611.5h-2Z"/><path class="u" d="M968.5 599V601M968.5 610V612M967.5 601.5h2V610.5h-2Z"/><path class="d" d="M969.5 602V603M969.5 610V612M968.5 603.5h2V610.5h-2Z"/><path class="u" d="M970.5 595V597M970.5 607V610M969.5 597.5h2V607.5h-2Z"/><path class="u" d="M971.5 597V599M970.5 590.5h2V597.5h-2Z"/><path class="d" d="M972.5 591V592M972.5 597V600M971.5 592.5h2V597.5h-2Z"/><path class="u" d="M973.5 592V595M973.5 597V605M972.5 595.5h2V597.5h-2Z"/><path class="d" d="M974.5 609V612M973.5 596.5h2V609.5h-2Z"/><path class="u" d="M975.5 595V603M975.5 606V614M974.5 603.5h2V606.5h-2Z"/><path class="d" d="M976.5 600V604M976.5 614V616M975.5 604.5h2V614.5h-2Z"/><path class="d" d="M977.5 612V614M977.5 615V623M976.5 614.5h2V615.5h-2Z"/><path class="u" d="M978.5 615V616M978.5 617V625M977.5 616.5h2V617.5h-2Z"/><path class="u" d="M979.5 611V613M979.5 618V628M978.5 613.5h2V618.5h-2Z"/><path class="u" d="M980.5 599V607M980.5 616V621M979.5 607.5h2V616.5h-2Z"/><path class="d" d="M981.5 588V607M981.5 613V615M980.5 607.5h2V613.5h-2Z"/><path class="u" d="M981.5 588.5h2V606.5h-2Z"/><path class="d" d="M983.5 588V590M983.5 597V600M982.5 590.5h2V597.5h-2Z"/><path class="u" d="M984.5 596V598M983.5 592.5h2V596.5h-2Z"/><path class="d" d="M985.5 592V593M985.5 596V601M984.5 593.5h2V596.5h-2Z"/><path class="u" d="M986.5 596V597M986.5 598V603M985.5 597.5h2V598.5h-2Z"/><path class="d" d="M987.5 600V606M986.5 598.5h2V600.5h-2Z"/><path class="d" d="M988.5 600V602M988.5 603V608M987.5 602.5h2V603.5h-2Z"/><path class="u" d="M989.5 601V602M989.5 604V607M988.5 602.5h2V604.5h-2Z"/><path class="u" d="M990.5 599V601M990.5 602V604M989.5 601.5h2V602.5h-2Z"/><path class="u" d="M991.5 598V599M990.5 599.5h2V601.5h-2Z"/><path class="u" d="M992.5 596V598M992.5 599V607M991.5 598.5h2V599.5h-2Z"/><path class="d" d="M993.5 596V600M993.5 605V611M992.5 600.5h2V605.5h-2Z"/><path class="d" d="M994.5 605V607M994.5 613V615M993.5 607.5h2V613.5h-2Z"/><path class="u" d="M995.5 607V610M995.5 613V617M994.5 610.5h2V613.5h-2Z"/><path class="d" d="M996.5 609V612M996.5 617V623M995.5 612.5h2V617.5h-2Z"/><path class="d" d="M997.5 616V618M997.5 630V637M996.5 618.5h2V630.5h-2Z"/><path class="d" d="M998.5 627V629M998.5 642V644M997.5 629.5h2V642.5h-2Z"/><path class="u" d="M999.5 599V600M999.5 639V644M998.5 600.5h2V639.5h-2Z"/><path class="u" d="M1000.5 601V605M999.5 582.5h2V601.5h-2Z"/><path class="d" d="M1001.5 582V585M1001.5 598V606M1000.5 585.5h2V598.5h-2Z"/><path class="u" d="M1002.5 587V594M1002.5 595V601M1001.5 594.5h2V595.5h-2Z"/><path class="d" d="M1003.5 592V594M1003.5 595V603M1002.5 594.5h2V595.5h-2Z"/><path class="u" d="M1004.5 571V574M1004.5 594V596M1003.5 574.5h2V594.5h-2Z"/><path class="u" d="M1005.5 577V587M1004.5 570.5h2V577.5h-2Z"/><path class="d" d="M1006.5 575V580M1005.5 572.5h2V575.5h-2Z"/><path class="d" d="M1007.5 570V574M1007.5 576V581M1006.5 574.5h2V576.5h-2Z"/><path class="d" d="M1008.5 575V576M1007.5 576.5h2V585.5h-2Z"/><path class="u" d="M1009.5 582V584M1009.5 585V590M1008.5 584.5h2V585.5h-2Z"/><path class="d" d="M1010.5 583V586M1010.5 588V591M1009.5 586.5h2V588.5h-2Z"/><path class="u" d="M1011.5 580V583M1010.5 583.5h2V587.5h-2Z"/><path class="u" d="M1012.5 578V581M1012.5 583V587M1011.5 581.5h2V583.5h-2Z"/><path class="u" d="M1013.5 575V578M1013.5 581V583M1012.5 578.5h2V581.5h-2Z"/><path class="u" d="M1014.5 578V581M1013.5 567.5h2V578.5h-2Z"/><path class="u" d="M1015.5 570V576M1014.5 566.5h2V570.5h-2Z"/><path class="u" d="M1016.5 562V565M1016.5 569V573M1015.5 565.5h2V569.5h-2Z"/><path class="u" d="M1017.5 559V560M1017.5 566V570M1016.5 560.5h2V566.5h-2Z"/><path class="d" d="M1018.5 560V561M1017.5 561.5h2V567.5h-2Z"/><path class="d" d="M1019.5 562V565M1019.5 567V571M1018.5 565.5h2V567.5h-2Z"/><path class="d" d="M1020.5 563V566M1020.5 568V570M1019.5 566.5h2V568.5h-2Z"/><path class="u" d="M1021.5 549V554M1021.5 567V570M1020.5 554.5h2V567.5h-2Z"/><path class="u" d="M1022.5 540V543M1022.5 557V570M1021.5 543.5h2V557.5h-2Z"/><path class="u" d="M1023.5 539V541M1023.5 547V556M1022.5 541.5h2V547.5h-2Z"/><path class="u" d="M1024.5 528V529M1024.5 541V555M1023.5 529.5h2V541.5h-2Z"/><path class="d" d="M1025.5 530V531M1025.5 532V537M1024.5 531.5h2V532.5h-2Z"/><path class="d" d="M1026.5 529V532M1026.5 534V539M1025.5 532.5h2V534.5h-2Z"/><path class="d" d="M1027.5 530V535M1027.5 537V546M1026.5 535.5h2V537.5h-2Z"/><path class="d" d="M1028.5 538V540M1028.5 566V572M1027.5 540.5h2V566.5h-2Z"/><path class="u" d="M1029.5 552V554M1029.5 562V570M1028.5 554.5h2V562.5h-2Z"/><path class="d" d="M1030.5 557V559M1030.5 572V576M1029.5 559.5h2V572.5h-2Z"/><path class="u" d="M1031.5 565V568M1031.5 571V576M1030.5 568.5h2V571.5h-2Z"/><path class="u" d="M1032.5 559V560M1032.5 569V572M1031.5 560.5h2V569.5h-2Z"/><path class="u" d="M1033.5 559V561M1033.5 562V566M1032.5 561.5h2V562.5h-2Z"/><path class="d" d="M1034.5 566V568M1033.5 561.5h2V566.5h-2Z"/><path class="d" d="M1035.5 562V565M1035.5 566V568M1034.5 565.5h2V566.5h-2Z"/><path class="u" d="M1036.5 562V565M1036.5 566V569M1035.5 565.5h2V566.5h-2Z"/><path class="d" d="M1037.5 563V566M1037.5 568V571M1036.5 566.5h2V568.5h-2Z"/><path class="u" d="M1038.5 546V548M1038.5 567V571M1037.5 548.5h2V567.5h-2Z"/><path class="d" d="M1039.5 546V551M1039.5 557V559M1038.5 551.5h2V557.5h-2Z"/><path class="d" d="M1040.5 553V556M1040.5 561V564M1039.5 556.5h2V561.5h-2Z"/><path class="d" d="M1041.5 559V561M1041.5 565V569M1040.5 561.5h2V565.5h-2Z"/><path class="d" d="M1042.5 564V566M1042.5 579V582M1041.5 566.5h2V579.5h-2Z"/><path class="u" d="M1043.5 570V574M1043.5 577V585M1042.5 574.5h2V577.5h-2Z"/><path class="d" d="M1044.5 574V576M1044.5 580V585M1043.5 576.5h2V580.5h-2Z"/><path class="u" d="M1045.5 575V576M1045.5 580V582M1044.5 576.5h2V580.5h-2Z"/><path class="d" d="M1045.5 577.5h2V578.5h-2Z"/><path class="u" d="M1047.5 572V573M1046.5 573.5h2V578.5h-2Z"/><path class="d" d="M1048.5 572V574M1048.5 575V578M1047.5 574.5h2V575.5h-2Z"/><path class="u" d="M1049.5 572V573M1049.5 575V577M1048.5 573.5h2V575.5h-2Z"/><path class="d" d="M1050.5 572V574M1049.5 574.5h2V575.5h-2Z"/><path class="u" d="M1051.5 571V572M1051.5 574V576M1050.5 572.5h2V574.5h-2Z"/><path class="u" d="M1052.5 572V574M1051.5 571.5h2V572.5h-2Z"/><path class="d" d="M1053.5 573V576M1052.5 571.5h2V573.5h-2Z"/><path class="d" d="M1054.5 569V573M1053.5 573.5h2V580.5h-2Z"/><path class="u" d="M1055.5 571V574M1055.5 578V582M1054.5 574.5h2V578.5h-2Z"/><path class="u" d="M1056.5 561V565M1056.5 574V578M1055.5 565.5h2V574.5h-2Z"/><path class="u" d="M1057.5 561V564M1057.5 565V569M1056.5 564.5h2V565.5h-2Z"/><path class="u" d="M1058.5 560V561M1057.5 561.5h2V563.5h-2Z"/><path class="d" d="M1059.5 558V561M1059.5 562V566M1058.5 561.5h2V562.5h-2Z"/><path class="d" d="M1060.5 561V562M1060.5 571V573M1059.5 562.5h2V571.5h-2Z"/><path class="d" d="M1061.5 566V569M1061.5 577V579M1060.5 569.5h2V577.5h-2Z"/><path class="d" d="M1062.5 572V575M1062.5 576V579M1061.5 575.5h2V576.5h-2Z"/><path class="u" d="M1063.5 572V573M1062.5 573.5h2V576.5h-2Z"/><path class="u" d="M1064.5 571V572M1064.5 573V575M1063.5 572.5h2V573.5h-2Z"/><path class="d" d="M1065.5 570V571M1065.5 572V574M1064.5 571.5h2V572.5h-2Z"/><path class="d" d="M1066.5 587V593M1065.5 582.5h2V587.5h-2Z"/><path class="u" d="M1067.5 582V587M1067.5 588V600M1066.5 587.5h2V588.5h-2Z"/><path class="d" d="M1068.5 588V589M1068.5 601V605M1067.5 589.5h2V601.5h-2Z"/><path class="u" d="M1069.5 585V592M1069.5 601V606M1068.5 592.5h2V601.5h-2Z"/><path class="u" d="M1070.5 569V582M1069.5 582.5h2V590.5h-2Z"/><path class="u" d="M1071.5 568V573M1071.5 580V582M1070.5 573.5h2V580.5h-2Z"/><path class="u" d="M1072.5 556V557M1072.5 572V576M1071.5 557.5h2V572.5h-2Z"/><path class="u" d="M1073.5 556V557M1073.5 560V567M1072.5 557.5h2V560.5h-2Z"/><path class="d" d="M1074.5 557V558M1074.5 565V568M1073.5 558.5h2V565.5h-2Z"/><path class="d" d="M1075.5 560V564M1075.5 569V571M1074.5 564.5h2V569.5h-2Z"/><path class="d" d="M1076.5 565V568M1076.5 569V572M1075.5 568.5h2V569.5h-2Z"/><path class="d" d="M1077.5 567V569M1077.5 572V575M1076.5 569.5h2V572.5h-2Z"/><path class="u" d="M1078.5 566V569M1077.5 569.5h2V572.5h-2Z"/><path class="u" d="M1079.5 560V563M1079.5 569V571M1078.5 563.5h2V569.5h-2Z"/><path class="u" d="M1080.5 562V566M1079.5 551.5h2V562.5h-2Z"/><path class="d" d="M1081.5 552V553M1081.5 556V560M1080.5 553.5h2V556.5h-2Z"/><path class="u" d="M1082.5 552V553M1082.5 555V557M1081.5 553.5h2V555.5h-2Z"/><path class="d" d="M1083.5 566V569M1082.5 554.5h2V566.5h-2Z"/><path class="d" d="M1084.5 557V565M1084.5 567V571M1083.5 565.5h2V567.5h-2Z"/><path class="d" d="M1085.5 563V567M1084.5 567.5h2V568.5h-2Z"/><path class="u" d="M1086.5 567V570M1085.5 563.5h2V567.5h-2Z"/><path class="u" d="M1087.5 565V571M1086.5 564.5h2V565.5h-2Z"/><path class="d" d="M1088.5 563V565M1088.5 566V569M1087.5 565.5h2V566.5h-2Z"/><path class="u" d="M1089.5 555V559M1089.5 565V567M1088.5 559.5h2V565.5h-2Z"/><path class="u" d="M1090.5 548V550M1090.5 559V562M1089.5 550.5h2V559.5h-2Z"/><path class="u" d="M1091.5 542V547M1091.5 550V553M1090.5 547.5h2V550.5h-2Z"/><path class="d" d="M1092.5 547V548M1092.5 555V557M1091.5 548.5h2V555.5h-2Z"/><path class="d" d="M1093.5 554V555M1092.5 555.5h2V564.5h-2Z"/><path class="u" d="M1094.5 555V557M1094.5 562V564M1093.5 557.5h2V562.5h-2Z"/><path class="d" d="M1095.5 558V559M1095.5 560V566M1094.5 559.5h2V560.5h-2Z"/><path class="d" d="M1096.5 565V567M1095.5 561.5h2V565.5h-2Z"/><path class="d" d="M1096.5 564.5h2V566.5h-2Z"/><path class="d" d="M1098.5 565V566M1097.5 566.5h2V567.5h-2Z"/><path class="u" d="M1098.5 566.5h2V567.5h-2Z"/><path class="d" d="M1100.5 567V569M1099.5 566.5h2V567.5h-2Z"/><path class="d" d="M1101.5 566V567M1100.5 567.5h2V569.5h-2Z"/><path class="u" d="M1101.5 567.5h2V569.5h-2Z"/><path class="d" d="M1103.5 569V571M1102.5 568.5h2V569.5h-2Z"/><path class="d" d="M1103.5 568.5h2V570.5h-2Z"/><path class="u" d="M1105.5 568V569M1104.5 569.5h2V570.5h-2Z"/><path class="u" d="M1106.5 568V569M1105.5 569.5h2V570.5h-2Z"/><path class="u" d="M1106.5 568.5h2V569.5h-2Z"/><path class="d" d="M1108.5 567V568M1107.5 568.5h2V569.5h-2Z"/><path class="u" d="M1109.5 566V567M1109.5 568V570M1108.5 567.5h2V568.5h-2Z"/><path class="d" d="M1110.5 566V567M1110.5 568V570M1109.5 567.5h2V568.5h-2Z"/><path class="u" d="M1111.5 565V566M1111.5 568V573M1110.5 566.5h2V568.5h-2Z"/><path class="d" d="M1112.5 567V568M1112.5 579V582M1111.5 568.5h2V579.5h-2Z"/><path class="u" d="M1113.5 566V574M1113.5 577V579M1112.5 574.5h2V577.5h-2Z"/><path class="d" d="M1114.5 568V575M1113.5 575.5h2V584.5h-2Z"/><path class="d" d="M1115.5 579V584M1115.5 603V605M1114.5 584.5h2V603.5h-2Z"/><path class="u" d="M1116.5 593V594M1116.5 600V613M1115.5 594.5h2V600.5h-2Z"/><path class="u" d="M1117.5 589V593M1117.5 600V613M1116.5 593.5h2V600.5h-2Z"/><path class="d" d="M1118.5 594V597M1118.5 600V608M1117.5 597.5h2V600.5h-2Z"/><path class="u" d="M1119.5 599V601M1118.5 596.5h2V599.5h-2Z"/><path class="u" d="M1120.5 592V596M1120.5 597V602M1119.5 596.5h2V597.5h-2Z"/><path class="d" d="M1121.5 596V597M1121.5 600V603M1120.5 597.5h2V600.5h-2Z"/><path class="u" d="M1122.5 592V596M1122.5 599V601M1121.5 596.5h2V599.5h-2Z"/><path class="u" d="M1123.5 595V597M1122.5 588.5h2V595.5h-2Z"/><path class="u" d="M1124.5 586V588M1124.5 589V591M1123.5 588.5h2V589.5h-2Z"/><path class="d" d="M1125.5 586V588M1125.5 596V600M1124.5 588.5h2V596.5h-2Z"/><path class="d" d="M1126.5 593V595M1126.5 596V601M1125.5 595.5h2V596.5h-2Z"/><path class="d" d="M1127.5 596V597M1127.5 601V604M1126.5 597.5h2V601.5h-2Z"/><path class="u" d="M1128.5 595V598M1128.5 601V604M1127.5 598.5h2V601.5h-2Z"/><path class="d" d="M1129.5 597V599M1129.5 604V606M1128.5 599.5h2V604.5h-2Z"/><path class="d" d="M1130.5 600V603M1130.5 604V607M1129.5 603.5h2V604.5h-2Z"/><path class="d" d="M1131.5 603V604M1131.5 605V609M1130.5 604.5h2V605.5h-2Z"/><path class="u" d="M1132.5 601V603M1132.5 605V609M1131.5 603.5h2V605.5h-2Z"/><path class="d" d="M1133.5 603V604M1133.5 617V619M1132.5 604.5h2V617.5h-2Z"/><path class="u" d="M1134.5 605V607M1133.5 607.5h2V617.5h-2Z"/><path class="u" d="M1134.5 602.5h2V606.5h-2Z"/><path class="d" d="M1136.5 599V603M1136.5 605V608M1135.5 603.5h2V605.5h-2Z"/><path class="u" d="M1137.5 601V603M1137.5 604V606M1136.5 603.5h2V604.5h-2Z"/><path class="u" d="M1138.5 600V602M1137.5 602.5h2V603.5h-2Z"/><path class="u" d="M1139.5 599V600M1139.5 601V603M1138.5 600.5h2V601.5h-2Z"/><path class="d" d="M1140.5 600V601M1140.5 606V609M1139.5 601.5h2V606.5h-2Z"/><path class="d" d="M1141.5 601V605M1140.5 605.5h2V608.5h-2Z"/><path class="u" d="M1142.5 604V605M1142.5 607V609M1141.5 605.5h2V607.5h-2Z"/><path class="u" d="M1143.5 602V603M1143.5 606V608M1142.5 603.5h2V606.5h-2Z"/><path class="d" d="M1144.5 602V604M1144.5 606V610M1143.5 604.5h2V606.5h-2Z"/><path class="d" d="M1145.5 597V605M1145.5 607V609M1144.5 605.5h2V607.5h-2Z"/><path class="u" d="M1146.5 592V595M1146.5 605V608M1145.5 595.5h2V605.5h-2Z"/><path class="u" d="M1147.5 590V594M1147.5 596V600M1146.5 594.5h2V596.5h-2Z"/><path class="u" d="M1148.5 586V587M1148.5 593V595M1147.5 587.5h2V593.5h-2Z"/><path class="d" d="M1149.5 584V587M1149.5 598V600M1148.5 587.5h2V598.5h-2Z"/><path class="d" d="M1150.5 594V597M1149.5 597.5h2V602.5h-2Z"/><path class="d" d="M1151.5 596V600M1151.5 601V605M1150.5 600.5h2V601.5h-2Z"/><path class="d" d="M1152.5 600V601M1152.5 602V605M1151.5 601.5h2V602.5h-2Z"/><path class="d" d="M1153.5 601V603M1153.5 604V608M1152.5 603.5h2V604.5h-2Z"/><path class="d" d="M1154.5 612V614M1153.5 605.5h2V612.5h-2Z"/><path class="u" d="M1155.5 605V607M1155.5 611V614M1154.5 607.5h2V611.5h-2Z"/><path class="d" d="M1156.5 607V608M1156.5 611V613M1155.5 608.5h2V611.5h-2Z"/><path class="d" d="M1157.5 610V611M1157.5 614V616M1156.5 611.5h2V614.5h-2Z"/><path class="d" d="M1158.5 613V614M1157.5 614.5h2V615.5h-2Z"/><path class="d" d="M1159.5 612V615M1159.5 616V618M1158.5 615.5h2V616.5h-2Z"/><path class="u" d="M1160.5 607V609M1160.5 615V617M1159.5 609.5h2V615.5h-2Z"/><path class="d" d="M1161.5 607V609M1161.5 611V615M1160.5 609.5h2V611.5h-2Z"/><path class="d" d="M1162.5 596V610M1162.5 614V617M1161.5 610.5h2V614.5h-2Z"/><path class="u" d="M1163.5 582V592M1163.5 609V611M1162.5 592.5h2V609.5h-2Z"/><path class="u" d="M1164.5 571V576M1164.5 589V593M1163.5 576.5h2V589.5h-2Z"/><path class="u" d="M1165.5 566V572M1165.5 577V583M1164.5 572.5h2V577.5h-2Z"/><path class="d" d="M1166.5 567V571M1166.5 582V585M1165.5 571.5h2V582.5h-2Z"/><path class="d" d="M1167.5 574V580M1167.5 581V583M1166.5 580.5h2V581.5h-2Z"/><path class="u" d="M1168.5 572V574M1167.5 574.5h2V579.5h-2Z"/><path class="d" d="M1169.5 576V578M1168.5 575.5h2V576.5h-2Z"/><path class="u" d="M1170.5 570V571M1169.5 571.5h2V575.5h-2Z"/><path class="u" d="M1171.5 569V571M1171.5 572V576M1170.5 571.5h2V572.5h-2Z"/><path class="u" d="M1172.5 572V576M1171.5 568.5h2V572.5h-2Z"/><path class="u" d="M1173.5 570V574M1172.5 564.5h2V570.5h-2Z"/><path class="d" d="M1174.5 559V566M1174.5 568V575M1173.5 566.5h2V568.5h-2Z"/><path class="d" d="M1175.5 555V566M1175.5 573V575M1174.5 566.5h2V573.5h-2Z"/><path class="u" d="M1176.5 537V552M1176.5 566V568M1175.5 552.5h2V566.5h-2Z"/><path class="u" d="M1177.5 548V553M1176.5 526.5h2V548.5h-2Z"/><path class="d" d="M1178.5 526V528M1178.5 536V543M1177.5 528.5h2V536.5h-2Z"/><path class="u" d="M1179.5 526V528M1179.5 534V543M1178.5 528.5h2V534.5h-2Z"/><path class="d" d="M1180.5 529V532M1180.5 543V548M1179.5 532.5h2V543.5h-2Z"/><path class="u" d="M1181.5 541V543M1181.5 544V549M1180.5 543.5h2V544.5h-2Z"/><path class="d" d="M1182.5 541V544M1182.5 549V552M1181.5 544.5h2V549.5h-2Z"/><path class="d" d="M1183.5 545V548M1182.5 548.5h2V555.5h-2Z"/><path class="d" d="M1184.5 544V552M1184.5 553V560M1183.5 552.5h2V553.5h-2Z"/><path class="u" d="M1185.5 543V548M1185.5 555V560M1184.5 548.5h2V555.5h-2Z"/><path class="u" d="M1186.5 547V550M1185.5 534.5h2V547.5h-2Z"/><path class="u" d="M1187.5 530V532M1187.5 537V545M1186.5 532.5h2V537.5h-2Z"/><path class="d" d="M1188.5 530V534M1188.5 535V539M1187.5 534.5h2V535.5h-2Z"/><path class="d" d="M1189.5 534V535M1189.5 536V542M1188.5 535.5h2V536.5h-2Z"/><path class="d" d="M1190.5 535V537M1190.5 542V545M1189.5 537.5h2V542.5h-2Z"/><path class="u" d="M1191.5 542V546M1190.5 540.5h2V542.5h-2Z"/><path class="u" d="M1192.5 537V539M1192.5 541V545M1191.5 539.5h2V541.5h-2Z"/><path class="u" d="M1193.5 535V540M1193.5 541V545M1192.5 540.5h2V541.5h-2Z"/><path class="u" d="M1194.5 539V542M1193.5 531.5h2V539.5h-2Z"/><path class="u" d="M1195.5 518V521M1194.5 504.5h2V518.5h-2Z"/><path class="u" d="M1196.5 497V500M1196.5 507V519M1195.5 500.5h2V507.5h-2Z"/><path class="u" d="M1197.5 500V504M1196.5 488.5h2V500.5h-2Z"/><path class="u" d="M1198.5 489V490M1198.5 491V496M1197.5 490.5h2V491.5h-2Z"/><path class="d" d="M1199.5 488V491M1199.5 492V495M1198.5 491.5h2V492.5h-2Z"/><path class="d" d="M1200.5 490V492M1200.5 506V510M1199.5 492.5h2V506.5h-2Z"/><path class="d" d="M1201.5 494V504M1201.5 513V517M1200.5 504.5h2V513.5h-2Z"/><path class="d" d="M1202.5 508V511M1202.5 524V526M1201.5 511.5h2V524.5h-2Z"/><path class="d" d="M1203.5 514V521M1203.5 523V526M1202.5 521.5h2V523.5h-2Z"/><path class="u" d="M1204.5 498V503M1204.5 523V525M1203.5 503.5h2V523.5h-2Z"/><path class="d" d="M1205.5 503V504M1205.5 524V529M1204.5 504.5h2V524.5h-2Z"/><path class="d" d="M1206.5 513V521M1206.5 527V530M1205.5 521.5h2V527.5h-2Z"/><path class="u" d="M1207.5 511V515M1206.5 515.5h2V527.5h-2Z"/><path class="u" d="M1208.5 506V507M1208.5 514V519M1207.5 507.5h2V514.5h-2Z"/><path class="u" d="M1209.5 498V500M1209.5 508V512M1208.5 500.5h2V508.5h-2Z"/><path class="u" d="M1210.5 499V500M1210.5 501V506M1209.5 500.5h2V501.5h-2Z"/><path class="d" d="M1211.5 495V501M1210.5 501.5h2V518.5h-2Z"/><path class="d" d="M1212.5 508V514M1212.5 518V520M1211.5 514.5h2V518.5h-2Z"/><path class="u" d="M1213.5 478V480M1213.5 516V520M1212.5 480.5h2V516.5h-2Z"/><path class="d" d="M1214.5 478V481M1214.5 490V494M1213.5 481.5h2V490.5h-2Z"/><path class="d" d="M1215.5 488V491M1215.5 498V500M1214.5 491.5h2V498.5h-2Z"/><path class="d" d="M1216.5 489V496M1216.5 503V508M1215.5 496.5h2V503.5h-2Z"/><path class="d" d="M1217.5 498V502M1217.5 507V514M1216.5 502.5h2V507.5h-2Z"/><path class="d" d="M1218.5 505V507M1218.5 513V518M1217.5 507.5h2V513.5h-2Z"/><path class="u" d="M1219.5 502V509M1219.5 513V516M1218.5 509.5h2V513.5h-2Z"/><path class="d" d="M1220.5 508V511M1220.5 520V523M1219.5 511.5h2V520.5h-2Z"/><path class="u" d="M1221.5 478V481M1221.5 520V522M1220.5 481.5h2V520.5h-2Z"/><path class="d" d="M1222.5 481V489M1222.5 513V515M1221.5 489.5h2V513.5h-2Z"/><path class="u" d="M1223.5 442V443M1223.5 502V507M1222.5 443.5h2V502.5h-2Z"/><path class="u" d="M1224.5 438V451M1224.5 452V469M1223.5 451.5h2V452.5h-2Z"/><path class="d" d="M1225.5 438V447M1225.5 459V461M1224.5 447.5h2V459.5h-2Z"/><path class="u" d="M1226.5 444V452M1226.5 459V466M1225.5 452.5h2V459.5h-2Z"/><path class="d" d="M1227.5 455V456M1227.5 459V469M1226.5 456.5h2V459.5h-2Z"/><path class="d" d="M1228.5 456V462M1228.5 479V485M1227.5 462.5h2V479.5h-2Z"/><path class="d" d="M1229.5 463V476M1229.5 479V484M1228.5 476.5h2V479.5h-2Z"/><path class="u" d="M1230.5 465V466M1230.5 477V485M1229.5 466.5h2V477.5h-2Z"/><path class="d" d="M1231.5 468V472M1231.5 499V502M1230.5 472.5h2V499.5h-2Z"/><path class="d" d="M1232.5 490V497M1232.5 510V521M1231.5 497.5h2V510.5h-2Z"/><path class="d" d="M1233.5 504V509M1233.5 521V523M1232.5 509.5h2V521.5h-2Z"/><path class="u" d="M1234.5 507V515M1234.5 520V522M1233.5 515.5h2V520.5h-2Z"/><path class="u" d="M1235.5 493V496M1235.5 512V520M1234.5 496.5h2V512.5h-2Z"/><path class="u" d="M1236.5 494V495M1236.5 499V504M1235.5 495.5h2V499.5h-2Z"/><path class="d" d="M1237.5 491V495M1237.5 499V501M1236.5 495.5h2V499.5h-2Z"/><path class="d" d="M1238.5 491V497M1238.5 501V503M1237.5 497.5h2V501.5h-2Z"/><path class="d" d="M1239.5 496V500M1239.5 509V512M1238.5 500.5h2V509.5h-2Z"/><path class="u" d="M1240.5 501V507M1240.5 508V513M1239.5 507.5h2V508.5h-2Z"/><path class="u" d="M1241.5 486V491M1241.5 505V507M1240.5 491.5h2V505.5h-2Z"/><path class="u" d="M1242.5 485V490M1242.5 494V505M1241.5 490.5h2V494.5h-2Z"/><path class="u" d="M1243.5 470V475M1243.5 490V495M1242.5 475.5h2V490.5h-2Z"/><path class="d" d="M1244.5 471V477M1244.5 479V488M1243.5 477.5h2V479.5h-2Z"/><path class="u" d="M1245.5 455V464M1245.5 477V484M1244.5 464.5h2V477.5h-2Z"/><path class="u" d="M1246.5 443V444M1245.5 444.5h2V463.5h-2Z"/><path class="u" d="M1247.5 428V433M1247.5 446V450M1246.5 433.5h2V446.5h-2Z"/><path class="u" d="M1248.5 412V419M1248.5 435V440M1247.5 419.5h2V435.5h-2Z"/><path class="d" d="M1249.5 420V422M1249.5 440V447M1248.5 422.5h2V440.5h-2Z"/><path class="u" d="M1250.5 401V421M1250.5 434V436M1249.5 421.5h2V434.5h-2Z"/><path class="u" d="M1251.5 398V400M1251.5 417V431M1250.5 400.5h2V417.5h-2Z"/><path class="u" d="M1252.5 393V399M1252.5 401V408M1251.5 399.5h2V401.5h-2Z"/><path class="u" d="M1253.5 372V376M1253.5 399V406M1252.5 376.5h2V399.5h-2Z"/><path class="d" d="M1254.5 382V383M1254.5 393V405M1253.5 383.5h2V393.5h-2Z"/><path class="u" d="M1255.5 370V371M1255.5 391V393M1254.5 371.5h2V391.5h-2Z"/><path class="u" d="M1256.5 352V365M1256.5 373V378M1255.5 365.5h2V373.5h-2Z"/><path class="d" d="M1257.5 346V365M1257.5 370V374M1256.5 365.5h2V370.5h-2Z"/><path class="u" d="M1258.5 338V349M1257.5 349.5h2V364.5h-2Z"/><path class="u" d="M1259.5 329V331M1259.5 346V350M1258.5 331.5h2V346.5h-2Z"/><path class="d" d="M1260.5 317V331M1260.5 341V345M1259.5 331.5h2V341.5h-2Z"/><path class="d" d="M1261.5 306V332M1261.5 333V339M1260.5 332.5h2V333.5h-2Z"/><path class="d" d="M1262.5 300V324M1262.5 331V333M1261.5 324.5h2V331.5h-2Z"/><path class="u" d="M1263.5 272V282M1263.5 317V325M1262.5 282.5h2V317.5h-2Z"/><path class="u" d="M1264.5 282V291M1263.5 249.5h2V282.5h-2Z"/><path class="u" d="M1265.5 245V246M1265.5 257V271M1264.5 246.5h2V257.5h-2Z"/><path class="u" d="M1266.5 238V239M1266.5 252V262M1265.5 239.5h2V252.5h-2Z"/><path class="u" d="M1267.5 239V240M1267.5 244V253M1266.5 240.5h2V244.5h-2Z"/><path class="d" d="M1268.5 232V240M1268.5 246V250M1267.5 240.5h2V246.5h-2Z"/><path class="d" d="M1269.5 235V243M1269.5 247V250M1268.5 243.5h2V247.5h-2Z"/><path class="d" d="M1270.5 243V246M1270.5 253V269M1269.5 246.5h2V253.5h-2Z"/><path class="d" d="M1271.5 254V256M1271.5 283V290M1270.5 256.5h2V283.5h-2Z"/><path class="d" d="M1272.5 275V286M1272.5 314V320M1271.5 286.5h2V314.5h-2Z"/><path class="d" d="M1273.5 302V314M1273.5 346V357M1272.5 314.5h2V346.5h-2Z"/><path class="d" d="M1274.5 342V343M1274.5 379V388M1273.5 343.5h2V379.5h-2Z"/><path class="u" d="M1275.5 321V327M1275.5 383V388M1274.5 327.5h2V383.5h-2Z"/><path class="u" d="M1276.5 296V297M1276.5 328V331M1275.5 297.5h2V328.5h-2Z"/><path class="u" d="M1277.5 296V297M1277.5 303V318M1276.5 297.5h2V303.5h-2Z"/><path class="d" d="M1278.5 297V300M1278.5 305V310M1277.5 300.5h2V305.5h-2Z"/><path class="d" d="M1279.5 297V305M1279.5 307V322M1278.5 305.5h2V307.5h-2Z"/><path class="d" d="M1280.5 301V311M1279.5 311.5h2V326.5h-2Z"/><path class="u" d="M1281.5 310V315M1281.5 323V328M1280.5 315.5h2V323.5h-2Z"/><path class="d" d="M1282.5 304V314M1282.5 315V325M1281.5 314.5h2V315.5h-2Z"/><path class="d" d="M1283.5 309V316M1283.5 352V354M1282.5 316.5h2V352.5h-2Z"/><path class="d" d="M1284.5 339V348M1283.5 348.5h2V364.5h-2Z"/><path class="u" d="M1285.5 310V311M1285.5 363V365M1284.5 311.5h2V363.5h-2Z"/><path class="d" d="M1286.5 318V323M1286.5 324V346M1285.5 323.5h2V324.5h-2Z"/><path class="u" d="M1287.5 291V300M1287.5 324V334M1286.5 300.5h2V324.5h-2Z"/><path class="u" d="M1288.5 286V287M1288.5 301V304M1287.5 287.5h2V301.5h-2Z"/><path class="u" d="M1289.5 286V287M1289.5 290V317M1288.5 287.5h2V290.5h-2Z"/><path class="d" d="M1290.5 290V296M1290.5 356V360M1289.5 296.5h2V356.5h-2Z"/><path class="d" d="M1291.5 323V344M1291.5 377V382M1290.5 344.5h2V377.5h-2Z"/><path class="d" d="M1292.5 349V366M1292.5 379V387M1291.5 366.5h2V379.5h-2Z"/><path class="d" d="M1293.5 357V375M1293.5 377V385M1292.5 375.5h2V377.5h-2Z"/><path class="u" d="M1294.5 371V377M1294.5 378V411M1293.5 377.5h2V378.5h-2Z"/><path class="u" d="M1295.5 387V408M1294.5 360.5h2V387.5h-2Z"/><path class="d" d="M1296.5 361V372M1296.5 404V417M1295.5 372.5h2V404.5h-2Z"/><path class="u" d="M1297.5 360V367M1297.5 411V417M1296.5 367.5h2V411.5h-2Z"/><path class="u" d="M1298.5 360V365M1298.5 366V371M1297.5 365.5h2V366.5h-2Z"/><path class="u" d="M1299.5 367V377M1298.5 360.5h2V367.5h-2Z"/><path class="d" d="M1300.5 364V365M1300.5 376V378M1299.5 365.5h2V376.5h-2Z"/><path class="u" d="M1301.5 361V373M1301.5 375V378M1300.5 373.5h2V375.5h-2Z"/><path class="u" d="M1302.5 348V349M1302.5 371V379M1301.5 349.5h2V371.5h-2Z"/><path class="d" d="M1303.5 350V352M1303.5 355V367M1302.5 352.5h2V355.5h-2Z"/><path class="d" d="M1304.5 390V393M1303.5 357.5h2V390.5h-2Z"/><path class="d" d="M1305.5 378V385M1305.5 417V422M1304.5 385.5h2V417.5h-2Z"/><path class="u" d="M1306.5 378V386M1306.5 417V423M1305.5 386.5h2V417.5h-2Z"/><path class="u" d="M1307.5 372V384M1307.5 387V395M1306.5 384.5h2V387.5h-2Z"/><path class="u" d="M1308.5 362V370M1308.5 380V385M1307.5 370.5h2V380.5h-2Z"/><path class="d" d="M1309.5 369V370M1309.5 379V384M1308.5 370.5h2V379.5h-2Z"/><path class="d" d="M1310.5 377V380M1310.5 395V401M1309.5 380.5h2V395.5h-2Z"/><path class="u" d="M1311.5 386V388M1311.5 393V403M1310.5 388.5h2V393.5h-2Z"/><path class="d" d="M1312.5 410V413M1311.5 392.5h2V410.5h-2Z"/><path class="d" d="M1313.5 402V408M1313.5 409V415M1312.5 408.5h2V409.5h-2Z"/><path class="d" d="M1314.5 406V409M1314.5 412V419M1313.5 409.5h2V412.5h-2Z"/><path class="u" d="M1315.5 400V410M1315.5 414V418M1314.5 410.5h2V414.5h-2Z"/><path class="u" d="M1316.5 374V379M1316.5 408V410M1315.5 379.5h2V408.5h-2Z"/><path class="u" d="M1317.5 355V365M1317.5 394V405M1316.5 365.5h2V394.5h-2Z"/><path class="u" d="M1318.5 317V324M1318.5 367V369M1317.5 324.5h2V367.5h-2Z"/><path class="u" d="M1319.5 291V292M1319.5 327V337M1318.5 292.5h2V327.5h-2Z"/><path class="u" d="M1320.5 269V273M1320.5 293V297M1319.5 273.5h2V293.5h-2Z"/><path class="u" d="M1321.5 254V255M1321.5 276V283M1320.5 255.5h2V276.5h-2Z"/><path class="u" d="M1322.5 248V249M1322.5 261V275M1321.5 249.5h2V261.5h-2Z"/><path class="u" d="M1323.5 248V249M1323.5 253V261M1322.5 249.5h2V253.5h-2Z"/><path class="d" d="M1324.5 248V252M1324.5 262V267M1323.5 252.5h2V262.5h-2Z"/><path class="d" d="M1325.5 261V263M1325.5 276V278M1324.5 263.5h2V276.5h-2Z"/><path class="u" d="M1326.5 272V273M1326.5 275V283M1325.5 273.5h2V275.5h-2Z"/><path class="d" d="M1327.5 274V276M1327.5 282V285M1326.5 276.5h2V282.5h-2Z"/><path class="u" d="M1328.5 273V276M1328.5 281V283M1327.5 276.5h2V281.5h-2Z"/><path class="u" d="M1329.5 269V272M1329.5 276V279M1328.5 272.5h2V276.5h-2Z"/><path class="d" d="M1330.5 265V272M1330.5 273V275M1329.5 272.5h2V273.5h-2Z"/><path class="d" d="M1331.5 264V270M1331.5 272V278M1330.5 270.5h2V272.5h-2Z"/><path class="d" d="M1332.5 262V271M1332.5 294V297M1331.5 271.5h2V294.5h-2Z"/><path class="u" d="M1333.5 274V288M1333.5 289V295M1332.5 288.5h2V289.5h-2Z"/><path class="d" d="M1334.5 286V289M1334.5 302V305M1333.5 289.5h2V302.5h-2Z"/><path class="d" d="M1335.5 297V301M1335.5 305V314M1334.5 301.5h2V305.5h-2Z"/><path class="d" d="M1336.5 305V307M1335.5 307.5h2V330.5h-2Z"/><path class="d" d="M1337.5 315V325M1337.5 335V342M1336.5 325.5h2V335.5h-2Z"/><path class="u" d="M1338.5 308V316M1338.5 336V342M1337.5 316.5h2V336.5h-2Z"/><path class="u" d="M1339.5 306V311M1338.5 311.5h2V316.5h-2Z"/><path class="u" d="M1340.5 306V307M1340.5 311V314M1339.5 307.5h2V311.5h-2Z"/><path class="u" d="M1341.5 307V312M1340.5 304.5h2V307.5h-2Z"/><path class="d" d="M1342.5 304V307M1342.5 317V320M1341.5 307.5h2V317.5h-2Z"/><path class="d" d="M1343.5 312V317M1343.5 343V349M1342.5 317.5h2V343.5h-2Z"/><path class="d" d="M1344.5 324V338M1344.5 360V363M1343.5 338.5h2V360.5h-2Z"/><path class="u" d="M1345.5 329V331M1345.5 359V363M1344.5 331.5h2V359.5h-2Z"/><path class="d" d="M1346.5 331V333M1346.5 336V338M1345.5 333.5h2V336.5h-2Z"/><path class="d" d="M1347.5 329V335M1347.5 338V340M1346.5 335.5h2V338.5h-2Z"/><path class="u" d="M1348.5 323V324M1348.5 335V338M1347.5 324.5h2V335.5h-2Z"/><path class="d" d="M1349.5 318V325M1349.5 327V335M1348.5 325.5h2V327.5h-2Z"/><path class="u" d="M1350.5 326V340M1349.5 318.5h2V326.5h-2Z"/><path class="d" d="M1351.5 318V324M1351.5 368V370M1350.5 324.5h2V368.5h-2Z"/><path class="d" d="M1352.5 343V348M1352.5 386V402M1351.5 348.5h2V386.5h-2Z"/><path class="d" d="M1353.5 379V381M1353.5 418V425M1352.5 381.5h2V418.5h-2Z"/><path class="u" d="M1354.5 394V410M1354.5 418V424M1353.5 410.5h2V418.5h-2Z"/><path class="d" d="M1355.5 387V404M1355.5 421V425M1354.5 404.5h2V421.5h-2Z"/><path class="u" d="M1356.5 366V372M1356.5 409V414M1355.5 372.5h2V409.5h-2Z"/><path class="d" d="M1357.5 371V377M1357.5 378V393M1356.5 377.5h2V378.5h-2Z"/><path class="d" d="M1358.5 357V377M1357.5 377.5h2V378.5h-2Z"/><path class="u" d="M1359.5 331V354M1359.5 370V374M1358.5 354.5h2V370.5h-2Z"/><path class="u" d="M1360.5 325V333M1360.5 348V358M1359.5 333.5h2V348.5h-2Z"/><path class="d" d="M1361.5 321V331M1361.5 340V343M1360.5 331.5h2V340.5h-2Z"/><path class="u" d="M1362.5 311V312M1362.5 333V335M1361.5 312.5h2V333.5h-2Z"/><path class="u" d="M1363.5 316V323M1362.5 315.5h2V316.5h-2Z"/><path class="u" d="M1364.5 311V313M1364.5 316V323M1363.5 313.5h2V316.5h-2Z"/><path class="d" d="M1365.5 311V314M1365.5 330V337M1364.5 314.5h2V330.5h-2Z"/><path class="d" d="M1366.5 322V327M1366.5 339V344M1365.5 327.5h2V339.5h-2Z"/><path class="d" d="M1367.5 321V336M1367.5 339V347M1366.5 336.5h2V339.5h-2Z"/><path class="d" d="M1368.5 351V353M1367.5 340.5h2V351.5h-2Z"/><path class="d" d="M1369.5 340V350M1369.5 363V366M1368.5 350.5h2V363.5h-2Z"/><path class="u" d="M1370.5 351V359M1370.5 360V377M1369.5 359.5h2V360.5h-2Z"/><path class="u" d="M1371.5 347V350M1371.5 363V377M1370.5 350.5h2V363.5h-2Z"/><path class="d" d="M1372.5 354V356M1372.5 387V391M1371.5 356.5h2V387.5h-2Z"/><path class="d" d="M1373.5 375V383M1373.5 386V401M1372.5 383.5h2V386.5h-2Z"/><path class="d" d="M1374.5 487V491M1373.5 434.5h2V487.5h-2Z"/><path class="d" d="M1375.5 476V483M1375.5 496V522M1374.5 483.5h2V496.5h-2Z"/><path class="u" d="M1376.5 476V482M1376.5 498V510M1375.5 482.5h2V498.5h-2Z"/><path class="u" d="M1377.5 449V456M1377.5 483V488M1376.5 456.5h2V483.5h-2Z"/><path class="u" d="M1378.5 436V438M1378.5 458V467M1377.5 438.5h2V458.5h-2Z"/><path class="u" d="M1379.5 433V434M1379.5 442V450M1378.5 434.5h2V442.5h-2Z"/><path class="u" d="M1380.5 432V433M1380.5 438V447M1379.5 433.5h2V438.5h-2Z"/><path class="u" d="M1381.5 432V433M1381.5 435V442M1380.5 433.5h2V435.5h-2Z"/><path class="d" d="M1382.5 432V434M1382.5 442V445M1381.5 434.5h2V442.5h-2Z"/><path class="d" d="M1383.5 432V441M1383.5 453V460M1382.5 441.5h2V453.5h-2Z"/><path class="d" d="M1384.5 451V452M1383.5 452.5h2V460.5h-2Z"/><path class="u" d="M1385.5 448V450M1385.5 459V463M1384.5 450.5h2V459.5h-2Z"/><path class="d" d="M1386.5 450V451M1385.5 451.5h2V455.5h-2Z"/><path class="d" d="M1387.5 451V454M1387.5 458V460M1386.5 454.5h2V458.5h-2Z"/><path class="u" d="M1388.5 441V444M1388.5 457V460M1387.5 444.5h2V457.5h-2Z"/><path class="u" d="M1389.5 431V440M1389.5 446V453M1388.5 440.5h2V446.5h-2Z"/><path class="u" d="M1390.5 428V434M1390.5 439V445M1389.5 434.5h2V439.5h-2Z"/><path class="d" d="M1391.5 435V436M1390.5 436.5h2V465.5h-2Z"/><path class="d" d="M1392.5 458V463M1392.5 471V484M1391.5 463.5h2V471.5h-2Z"/><path class="d" d="M1393.5 471V472M1392.5 472.5h2V484.5h-2Z"/><path class="u" d="M1394.5 465V470M1394.5 482V485M1393.5 470.5h2V482.5h-2Z"/><path class="u" d="M1395.5 464V465M1395.5 473V485M1394.5 465.5h2V473.5h-2Z"/><path class="d" d="M1396.5 464V467M1396.5 470V476M1395.5 467.5h2V470.5h-2Z"/><path class="d" d="M1397.5 465V471M1397.5 472V491M1396.5 471.5h2V472.5h-2Z"/><path class="d" d="M1398.5 474V476M1398.5 492V505M1397.5 476.5h2V492.5h-2Z"/><path class="d" d="M1399.5 493V494M1399.5 520V525M1398.5 494.5h2V520.5h-2Z"/><path class="u" d="M1400.5 499V500M1400.5 520V525M1399.5 500.5h2V520.5h-2Z"/><path class="d" d="M1401.5 492V500M1400.5 500.5h2V504.5h-2Z"/><path class="u" d="M1402.5 487V492M1402.5 501V503M1401.5 492.5h2V501.5h-2Z"/><path class="u" d="M1403.5 484V490M1403.5 492V499M1402.5 490.5h2V492.5h-2Z"/><path class="u" d="M1404.5 486V488M1404.5 490V492M1403.5 488.5h2V490.5h-2Z"/><path class="d" d="M1405.5 483V487M1405.5 498V502M1404.5 487.5h2V498.5h-2Z"/><path class="d" d="M1406.5 492V496M1406.5 501V509M1405.5 496.5h2V501.5h-2Z"/><path class="u" d="M1407.5 495V497M1407.5 503V510M1406.5 497.5h2V503.5h-2Z"/><path class="u" d="M1408.5 471V477M1408.5 497V499M1407.5 477.5h2V497.5h-2Z"/><path class="d" d="M1409.5 472V481M1409.5 492V497M1408.5 481.5h2V492.5h-2Z"/><path class="u" d="M1410.5 454V455M1410.5 485V491M1409.5 455.5h2V485.5h-2Z"/><path class="u" d="M1411.5 446V448M1411.5 458V465M1410.5 448.5h2V458.5h-2Z"/><path class="u" d="M1412.5 446V448M1412.5 451V456M1411.5 448.5h2V451.5h-2Z"/><path class="d" d="M1413.5 447V449M1413.5 450V464M1412.5 449.5h2V450.5h-2Z"/><path class="d" d="M1414.5 445V452M1414.5 455V460M1413.5 452.5h2V455.5h-2Z"/><path class="u" d="M1415.5 428V444M1415.5 453V462M1414.5 444.5h2V453.5h-2Z"/><path class="d" d="M1416.5 428V439M1416.5 454V458M1415.5 439.5h2V454.5h-2Z"/><path class="u" d="M1417.5 450V452M1417.5 453V468M1416.5 452.5h2V453.5h-2Z"/><path class="d" d="M1418.5 456V457M1418.5 476V484M1417.5 457.5h2V476.5h-2Z"/><path class="d" d="M1419.5 491V501M1418.5 477.5h2V491.5h-2Z"/><path class="u" d="M1420.5 464V465M1420.5 493V501M1419.5 465.5h2V493.5h-2Z"/><path class="d" d="M1421.5 472V473M1421.5 480V484M1420.5 473.5h2V480.5h-2Z"/><path class="d" d="M1422.5 475V479M1422.5 482V491M1421.5 479.5h2V482.5h-2Z"/><path class="d" d="M1423.5 482V483M1423.5 486V499M1422.5 483.5h2V486.5h-2Z"/><path class="u" d="M1424.5 478V481M1424.5 490V499M1423.5 481.5h2V490.5h-2Z"/><path class="u" d="M1425.5 474V480M1425.5 482V494M1424.5 480.5h2V482.5h-2Z"/><path class="u" d="M1426.5 448V457M1426.5 478V480M1425.5 457.5h2V478.5h-2Z"/><path class="u" d="M1427.5 444V448M1427.5 460V471M1426.5 448.5h2V460.5h-2Z"/><path class="d" d="M1428.5 448V451M1428.5 461V463M1427.5 451.5h2V461.5h-2Z"/><path class="u" d="M1429.5 444V448M1428.5 448.5h2V457.5h-2Z"/><path class="d" d="M1430.5 438V447M1430.5 451V455M1429.5 447.5h2V451.5h-2Z"/><path class="u" d="M1431.5 430V435M1431.5 448V452M1430.5 435.5h2V448.5h-2Z"/><path class="d" d="M1432.5 432V434M1432.5 445V455M1431.5 434.5h2V445.5h-2Z"/><path class="d" d="M1433.5 451V464M1432.5 448.5h2V451.5h-2Z"/><path class="d" d="M1434.5 453V455M1434.5 476V478M1433.5 455.5h2V476.5h-2Z"/><path class="u" d="M1435.5 466V467M1435.5 473V478M1434.5 467.5h2V473.5h-2Z"/><path class="u" d="M1436.5 449V452M1436.5 468V470M1435.5 452.5h2V468.5h-2Z"/><path class="u" d="M1437.5 446V448M1437.5 454V458M1436.5 448.5h2V454.5h-2Z"/><path class="d" d="M1438.5 446V449M1438.5 471V473M1437.5 449.5h2V471.5h-2Z"/><path class="u" d="M1439.5 453V463M1439.5 466V468M1438.5 463.5h2V466.5h-2Z"/><path class="d" d="M1440.5 462V463M1440.5 469V481M1439.5 463.5h2V469.5h-2Z"/><path class="d" d="M1441.5 465V469M1441.5 477V485M1440.5 469.5h2V477.5h-2Z"/><path class="d" d="M1442.5 475V478M1442.5 482V494M1441.5 478.5h2V482.5h-2Z"/><path class="u" d="M1443.5 429V433M1443.5 492V494M1442.5 433.5h2V492.5h-2Z"/><path class="u" d="M1444.5 401V408M1444.5 439V442M1443.5 408.5h2V439.5h-2Z"/><path class="u" d="M1445.5 398V400M1445.5 409V412M1444.5 400.5h2V409.5h-2Z"/><path class="u" d="M1446.5 328V330M1446.5 369V371M1445.5 330.5h2V369.5h-2Z"/><path class="d" d="M1447.5 328V331M1447.5 363V366M1446.5 331.5h2V363.5h-2Z"/><path class="d" d="M1448.5 348V358M1448.5 365V369M1447.5 358.5h2V365.5h-2Z"/><path class="d" d="M1449.5 359V363M1449.5 369V379M1448.5 363.5h2V369.5h-2Z"/><path class="d" d="M1450.5 363V369M1450.5 395V397M1449.5 369.5h2V395.5h-2Z"/><path class="d" d="M1451.5 377V389M1451.5 395V397M1450.5 389.5h2V395.5h-2Z"/><path class="u" d="M1452.5 369V371M1451.5 371.5h2V394.5h-2Z"/><path class="d" d="M1453.5 377V393M1452.5 376.5h2V377.5h-2Z"/><path class="d" d="M1454.5 372V378M1454.5 395V397M1453.5 378.5h2V395.5h-2Z"/><path class="d" d="M1455.5 380V386M1454.5 386.5h2V387.5h-2Z"/><path class="u" d="M1456.5 355V364M1456.5 384V388M1455.5 364.5h2V384.5h-2Z"/><path class="u" d="M1457.5 315V319M1457.5 362V370M1456.5 319.5h2V362.5h-2Z"/><path class="u" d="M1458.5 310V313M1458.5 325V342M1457.5 313.5h2V325.5h-2Z"/><path class="d" d="M1459.5 299V316M1459.5 318V327M1458.5 316.5h2V318.5h-2Z"/><path class="d" d="M1460.5 292V313M1460.5 322V331M1459.5 313.5h2V322.5h-2Z"/><path class="u" d="M1461.5 267V271M1461.5 310V313M1460.5 271.5h2V310.5h-2Z"/><path class="d" d="M1462.5 271V278M1462.5 320V322M1461.5 278.5h2V320.5h-2Z"/><path class="u" d="M1463.5 266V267M1463.5 315V322M1462.5 267.5h2V315.5h-2Z"/><path class="u" d="M1464.5 247V262M1464.5 268V276M1463.5 262.5h2V268.5h-2Z"/><path class="u" d="M1465.5 241V257M1465.5 260V267M1464.5 257.5h2V260.5h-2Z"/><path class="u" d="M1466.5 229V238M1466.5 254V260M1465.5 238.5h2V254.5h-2Z"/><path class="u" d="M1467.5 229V230M1467.5 238V251M1466.5 230.5h2V238.5h-2Z"/><path class="d" d="M1468.5 231V234M1468.5 265V269M1467.5 234.5h2V265.5h-2Z"/><path class="d" d="M1469.5 255V261M1469.5 297V303M1468.5 261.5h2V297.5h-2Z"/><path class="u" d="M1470.5 256V261M1470.5 299V304M1469.5 261.5h2V299.5h-2Z"/><path class="u" d="M1471.5 229V236M1471.5 262V267M1470.5 236.5h2V262.5h-2Z"/><path class="u" d="M1472.5 229V230M1472.5 238V251M1471.5 230.5h2V238.5h-2Z"/><path class="d" d="M1473.5 229V232M1473.5 261V264M1472.5 232.5h2V261.5h-2Z"/><path class="u" d="M1474.5 240V254M1474.5 256V278M1473.5 254.5h2V256.5h-2Z"/><path class="u" d="M1475.5 239V240M1475.5 262V295M1474.5 240.5h2V262.5h-2Z"/><path class="d" d="M1476.5 285V288M1476.5 327V331M1475.5 288.5h2V327.5h-2Z"/><path class="d" d="M1477.5 375V385M1476.5 322.5h2V375.5h-2Z"/><path class="u" d="M1478.5 330V333M1478.5 379V384M1477.5 333.5h2V379.5h-2Z"/><path class="d" d="M1479.5 322V333M1479.5 350V354M1478.5 333.5h2V350.5h-2Z"/><path class="d" d="M1480.5 324V341M1480.5 358V363M1479.5 341.5h2V358.5h-2Z"/><path class="d" d="M1481.5 338V351M1480.5 351.5h2V352.5h-2Z"/><path class="u" d="M1482.5 340V343M1482.5 349V353M1481.5 343.5h2V349.5h-2Z"/><path class="d" d="M1483.5 338V345M1483.5 347V353M1482.5 345.5h2V347.5h-2Z"/><path class="u" d="M1484.5 339V342M1484.5 348V352M1483.5 342.5h2V348.5h-2Z"/><path class="d" d="M1485.5 329V344M1485.5 345V349M1484.5 344.5h2V345.5h-2Z"/><path class="u" d="M1486.5 308V341M1486.5 342V349M1485.5 341.5h2V342.5h-2Z"/><path class="u" d="M1487.5 287V298M1487.5 332V336M1486.5 298.5h2V332.5h-2Z"/><path class="u" d="M1488.5 285V293M1488.5 297V307M1487.5 293.5h2V297.5h-2Z"/><path class="d" d="M1489.5 293V294M1489.5 314V323M1488.5 294.5h2V314.5h-2Z"/><path class="d" d="M1490.5 307V314M1490.5 338V340M1489.5 314.5h2V338.5h-2Z"/><path class="u" d="M1491.5 321V335M1491.5 336V357M1490.5 335.5h2V336.5h-2Z"/><path class="d" d="M1492.5 337V339M1492.5 347V367M1491.5 339.5h2V347.5h-2Z"/><path class="d" d="M1493.5 356V360M1493.5 398V406M1492.5 360.5h2V398.5h-2Z"/><path class="u" d="M1494.5 351V357M1494.5 399V406M1493.5 357.5h2V399.5h-2Z"/><path class="d" d="M1495.5 338V357M1494.5 357.5h2V369.5h-2Z"/><path class="u" d="M1496.5 327V333M1496.5 360V366M1495.5 333.5h2V360.5h-2Z"/><path class="u" d="M1497.5 332V343M1496.5 316.5h2V332.5h-2Z"/><path class="d" d="M1498.5 315V317M1498.5 331V343M1497.5 317.5h2V331.5h-2Z"/><path class="d" d="M1499.5 324V335M1498.5 335.5h2V352.5h-2Z"/><path class="d" d="M1500.5 342V351M1500.5 361V363M1499.5 351.5h2V361.5h-2Z"/><path class="u" d="M1501.5 344V347M1501.5 358V360M1500.5 347.5h2V358.5h-2Z"/><path class="d" d="M1502.5 339V348M1502.5 351V368M1501.5 348.5h2V351.5h-2Z"/><path class="d" d="M1503.5 352V357M1503.5 389V395M1502.5 357.5h2V389.5h-2Z"/><path class="u" d="M1504.5 389V395M1503.5 370.5h2V389.5h-2Z"/><path class="u" d="M1505.5 364V366M1505.5 372V383M1504.5 366.5h2V372.5h-2Z"/><path class="u" d="M1506.5 350V355M1506.5 366V371M1505.5 355.5h2V366.5h-2Z"/><path class="u" d="M1507.5 328V330M1507.5 355V362M1506.5 330.5h2V355.5h-2Z"/><path class="d" d="M1508.5 406V409M1508.5 452V487M1507.5 409.5h2V452.5h-2Z"/><path class="u" d="M1509.5 432V435M1509.5 463V466M1508.5 435.5h2V463.5h-2Z"/><path class="d" d="M1510.5 429V435M1510.5 456V459M1509.5 435.5h2V456.5h-2Z"/><path class="d" d="M1511.5 440V451M1511.5 455V463M1510.5 451.5h2V455.5h-2Z"/><path class="d" d="M1512.5 446V454M1512.5 460V463M1511.5 454.5h2V460.5h-2Z"/><path class="u" d="M1513.5 443V446M1513.5 458V463M1512.5 446.5h2V458.5h-2Z"/><path class="d" d="M1514.5 448V450M1514.5 453V460M1513.5 450.5h2V453.5h-2Z"/><path class="u" d="M1515.5 443V452M1515.5 453V457M1514.5 452.5h2V453.5h-2Z"/><path class="u" d="M1516.5 434V438M1516.5 450V453M1515.5 438.5h2V450.5h-2Z"/><path class="u" d="M1517.5 419V424M1517.5 437V442M1516.5 424.5h2V437.5h-2Z"/><path class="d" d="M1518.5 418V423M1518.5 441V450M1517.5 423.5h2V441.5h-2Z"/><path class="d" d="M1519.5 432V440M1518.5 440.5h2V448.5h-2Z"/><path class="u" d="M1520.5 443V444M1520.5 446V449M1519.5 444.5h2V446.5h-2Z"/><path class="u" d="M1521.5 440V441M1521.5 445V451M1520.5 441.5h2V445.5h-2Z"/><path class="u" d="M1522.5 418V426M1522.5 442V449M1521.5 426.5h2V442.5h-2Z"/><path class="d" d="M1523.5 420V429M1523.5 430V437M1522.5 429.5h2V430.5h-2Z"/><path class="d" d="M1524.5 418V428M1524.5 441V452M1523.5 428.5h2V441.5h-2Z"/><path class="d" d="M1525.5 436V441M1525.5 472V481M1524.5 441.5h2V472.5h-2Z"/><path class="u" d="M1526.5 464V469M1526.5 472V492M1525.5 469.5h2V472.5h-2Z"/><path class="d" d="M1527.5 472V476M1527.5 491V503M1526.5 476.5h2V491.5h-2Z"/><path class="u" d="M1528.5 483V486M1528.5 494V514M1527.5 486.5h2V494.5h-2Z"/><path class="u" d="M1529.5 488V491M1529.5 496V524M1528.5 491.5h2V496.5h-2Z"/><path class="d" d="M1530.5 497V502M1530.5 545V547M1529.5 502.5h2V545.5h-2Z"/><path class="u" d="M1531.5 509V510M1531.5 544V549M1530.5 510.5h2V544.5h-2Z"/><path class="d" d="M1532.5 510V512M1532.5 513V525M1531.5 512.5h2V513.5h-2Z"/><path class="d" d="M1533.5 510V516M1533.5 552V559M1532.5 516.5h2V552.5h-2Z"/><path class="d" d="M1534.5 544V549M1534.5 568V574M1533.5 549.5h2V568.5h-2Z"/><path class="d" d="M1535.5 548V563M1535.5 578V581M1534.5 563.5h2V578.5h-2Z"/><path class="u" d="M1536.5 551V555M1536.5 578V581M1535.5 555.5h2V578.5h-2Z"/><path class="u" d="M1537.5 553V556M1537.5 558V564M1536.5 556.5h2V558.5h-2Z"/><path class="u" d="M1538.5 550V553M1538.5 558V562M1537.5 553.5h2V558.5h-2Z"/><path class="u" d="M1539.5 547V549M1539.5 556V563M1538.5 549.5h2V556.5h-2Z"/><path class="u" d="M1540.5 536V537M1540.5 552V559M1539.5 537.5h2V552.5h-2Z"/><path class="u" d="M1541.5 536V539M1541.5 540V552M1540.5 539.5h2V540.5h-2Z"/><path class="d" d="M1542.5 535V539M1542.5 542V544M1541.5 539.5h2V542.5h-2Z"/><path class="u" d="M1543.5 532V536M1543.5 540V543M1542.5 536.5h2V540.5h-2Z"/><path class="u" d="M1544.5 532V535M1544.5 536V539M1543.5 535.5h2V536.5h-2Z"/><path class="d" d="M1545.5 532V535M1545.5 537V544M1544.5 535.5h2V537.5h-2Z"/><path class="d" d="M1546.5 530V536M1546.5 554V564M1545.5 536.5h2V554.5h-2Z"/><path class="u" d="M1547.5 530V541M1547.5 548V555M1546.5 541.5h2V548.5h-2Z"/><path class="d" d="M1548.5 542V543M1548.5 559V566M1547.5 543.5h2V559.5h-2Z"/><path class="d" d="M1549.5 559V561M1549.5 565V583M1548.5 561.5h2V565.5h-2Z"/><path class="d" d="M1550.5 559V571M1550.5 572V584M1549.5 571.5h2V572.5h-2Z"/><path class="u" d="M1551.5 559V560M1550.5 560.5h2V569.5h-2Z"/><path class="d" d="M1552.5 574V576M1551.5 562.5h2V574.5h-2Z"/><path class="d" d="M1553.5 571V573M1553.5 574V584M1552.5 573.5h2V574.5h-2Z"/><path class="d" d="M1554.5 602V607M1554.5 631V637M1553.5 607.5h2V631.5h-2Z"/><path class="u" d="M1555.5 593V596M1555.5 629V637M1554.5 596.5h2V629.5h-2Z"/><path class="u" d="M1556.5 594V597M1556.5 603V613M1555.5 597.5h2V603.5h-2Z"/><path class="d" d="M1557.5 593V599M1557.5 618V621M1556.5 599.5h2V618.5h-2Z"/><path class="u" d="M1558.5 609V612M1558.5 615V619M1557.5 612.5h2V615.5h-2Z"/><path class="u" d="M1559.5 602V609M1559.5 613V620M1558.5 609.5h2V613.5h-2Z"/><path class="u" d="M1560.5 593V600M1559.5 600.5h2V608.5h-2Z"/><path class="d" d="M1561.5 592V598M1561.5 605V608M1560.5 598.5h2V605.5h-2Z"/><path class="u" d="M1562.5 601V603M1562.5 606V612M1561.5 603.5h2V606.5h-2Z"/><path class="d" d="M1563.5 603V605M1563.5 606V612M1562.5 605.5h2V606.5h-2Z"/><path class="d" d="M1564.5 604V606M1564.5 611V613M1563.5 606.5h2V611.5h-2Z"/><path class="u" d="M1565.5 588V590M1565.5 610V613M1564.5 590.5h2V610.5h-2Z"/><path class="u" d="M1566.5 574V575M1566.5 593V607M1565.5 575.5h2V593.5h-2Z"/><path class="d" d="M1567.5 577V578M1567.5 579V588M1566.5 578.5h2V579.5h-2Z"/><path class="d" d="M1568.5 576V579M1568.5 588V593M1567.5 579.5h2V588.5h-2Z"/><path class="d" d="M1569.5 573V584M1568.5 584.5h2V585.5h-2Z"/><path class="u" d="M1570.5 572V574M1570.5 582V585M1569.5 574.5h2V582.5h-2Z"/><path class="u" d="M1571.5 572V573M1571.5 576V582M1570.5 573.5h2V576.5h-2Z"/><path class="u" d="M1572.5 569V570M1572.5 574V579M1571.5 570.5h2V574.5h-2Z"/><path class="u" d="M1573.5 567V568M1573.5 571V575M1572.5 568.5h2V571.5h-2Z"/><path class="d" d="M1574.5 568V569M1574.5 581V583M1573.5 569.5h2V581.5h-2Z"/><path class="d" d="M1575.5 570V577M1575.5 583V585M1574.5 577.5h2V583.5h-2Z"/><path class="d" d="M1576.5 567V580M1576.5 583V585M1575.5 580.5h2V583.5h-2Z"/><path class="u" d="M1577.5 539V547M1577.5 581V585M1576.5 547.5h2V581.5h-2Z"/><path class="u" d="M1578.5 501V509M1578.5 555V560M1577.5 509.5h2V555.5h-2Z"/><path class="u" d="M1579.5 474V476M1579.5 510V512M1578.5 476.5h2V510.5h-2Z"/><path class="u" d="M1580.5 434V435M1580.5 490V495M1579.5 435.5h2V490.5h-2Z"/><path class="u" d="M1581.5 437V445M1580.5 434.5h2V437.5h-2Z"/><path class="d" d="M1582.5 434V437M1582.5 451V459M1581.5 437.5h2V451.5h-2Z"/><path class="d" d="M1583.5 450V451M1583.5 480V484M1582.5 451.5h2V480.5h-2Z"/><path class="u" d="M1584.5 467V475M1584.5 476V487M1583.5 475.5h2V476.5h-2Z"/><path class="d" d="M1585.5 460V476M1585.5 494V497M1584.5 476.5h2V494.5h-2Z"/><path class="u" d="M1586.5 451V454M1586.5 493V497M1585.5 454.5h2V493.5h-2Z"/><path class="u" d="M1587.5 444V445M1587.5 459V470M1586.5 445.5h2V459.5h-2Z"/><path class="u" d="M1588.5 444V445M1588.5 450V461M1587.5 445.5h2V450.5h-2Z"/><path class="d" d="M1589.5 446V447M1589.5 451V455M1588.5 447.5h2V451.5h-2Z"/><path class="d" d="M1590.5 449V451M1590.5 457V464M1589.5 451.5h2V457.5h-2Z"/><path class="d" d="M1591.5 467V473M1590.5 457.5h2V467.5h-2Z"/><path class="u" d="M1592.5 439V441M1592.5 468V471M1591.5 441.5h2V468.5h-2Z"/><path class="u" d="M1593.5 426V442M1593.5 443V448M1592.5 442.5h2V443.5h-2Z"/><path class="d" d="M1594.5 426V437M1594.5 460V462M1593.5 437.5h2V460.5h-2Z"/><path class="u" d="M1595.5 444V452M1595.5 455V458M1594.5 452.5h2V455.5h-2Z"/><path class="d" d="M1596.5 444V452M1596.5 453V463M1595.5 452.5h2V453.5h-2Z"/><path class="d" d="M1597.5 453V454M1597.5 480V484M1596.5 454.5h2V480.5h-2Z"/><path class="d" d="M1598.5 460V473M1598.5 475V478M1597.5 473.5h2V475.5h-2Z"/><path class="d" d="M1599.5 472V474M1599.5 488V490M1598.5 474.5h2V488.5h-2Z"/><path class="u" d="M1600.5 469V483M1600.5 487V489M1599.5 483.5h2V487.5h-2Z"/><path class="u" d="M1601.5 452V455M1601.5 479V481M1600.5 455.5h2V479.5h-2Z"/><path class="d" d="M1602.5 447V459M1602.5 463V473M1601.5 459.5h2V463.5h-2Z"/><path class="u" d="M1603.5 412V418M1603.5 452V457M1602.5 418.5h2V452.5h-2Z"/><path class="d" d="M1604.5 412V418M1604.5 463V466M1603.5 418.5h2V463.5h-2Z"/><path class="u" d="M1605.5 456V461M1604.5 438.5h2V456.5h-2Z"/><path class="u" d="M1606.5 436V438M1606.5 442V465M1605.5 438.5h2V442.5h-2Z"/><path class="d" d="M1607.5 444V445M1607.5 453V466M1606.5 445.5h2V453.5h-2Z"/><path class="u" d="M1608.5 452V454M1608.5 455V467M1607.5 454.5h2V455.5h-2Z"/><path class="d" d="M1609.5 453V458M1609.5 476V478M1608.5 458.5h2V476.5h-2Z"/><path class="d" d="M1610.5 466V474M1610.5 475V484M1609.5 474.5h2V475.5h-2Z"/><path class="d" d="M1611.5 472V476M1611.5 516V523M1610.5 476.5h2V516.5h-2Z"/><path class="u" d="M1612.5 485V513M1612.5 516V523M1611.5 513.5h2V516.5h-2Z"/><path class="u" d="M1613.5 474V487M1613.5 504V506M1612.5 487.5h2V504.5h-2Z"/><path class="u" d="M1614.5 473V474M1614.5 484V488M1613.5 474.5h2V484.5h-2Z"/><path class="d" d="M1615.5 473V475M1615.5 478V482M1614.5 475.5h2V478.5h-2Z"/><path class="u" d="M1616.5 473V475M1616.5 478V485M1615.5 475.5h2V478.5h-2Z"/><path class="d" d="M1617.5 473V477M1617.5 481V488M1616.5 477.5h2V481.5h-2Z"/><path class="u" d="M1618.5 471V473M1618.5 482V488M1617.5 473.5h2V482.5h-2Z"/><path class="u" d="M1619.5 476V484M1618.5 458.5h2V476.5h-2Z"/><path class="u" d="M1620.5 462V468M1619.5 458.5h2V462.5h-2Z"/><path class="d" d="M1621.5 459V460M1620.5 460.5h2V480.5h-2Z"/><path class="u" d="M1622.5 451V452M1621.5 452.5h2V468.5h-2Z"/><path class="u" d="M1623.5 440V444M1623.5 456V468M1622.5 444.5h2V456.5h-2Z"/><path class="u" d="M1624.5 405V415M1623.5 415.5h2V448.5h-2Z"/><path class="u" d="M1625.5 391V395M1625.5 416V421M1624.5 395.5h2V416.5h-2Z"/><path class="d" d="M1626.5 389V396M1625.5 396.5h2V411.5h-2Z"/><path class="u" d="M1627.5 352V361M1627.5 390V396M1626.5 361.5h2V390.5h-2Z"/><path class="u" d="M1628.5 327V329M1628.5 363V374M1627.5 329.5h2V363.5h-2Z"/><path class="u" d="M1629.5 294V298M1629.5 329V331M1628.5 298.5h2V329.5h-2Z"/><path class="d" d="M1630.5 268.5h2V279.5h-2Z"/><path class="d" d="M1632.5 266V276M1632.5 277V293M1631.5 276.5h2V277.5h-2Z"/><path class="d" d="M1633.5 273V278M1632.5 278.5h2V306.5h-2Z"/><path class="d" d="M1634.5 287V300M1634.5 309V312M1633.5 300.5h2V309.5h-2Z"/><path class="d" d="M1635.5 294V307M1635.5 310V312M1634.5 307.5h2V310.5h-2Z"/><path class="u" d="M1636.5 269V271M1636.5 306V310M1635.5 271.5h2V306.5h-2Z"/><path class="d" d="M1637.5 253V272M1637.5 277V286M1636.5 272.5h2V277.5h-2Z"/><path class="d" d="M1638.5 274V276M1638.5 302V305M1637.5 276.5h2V302.5h-2Z"/><path class="u" d="M1639.5 268V274M1639.5 298V305M1638.5 274.5h2V298.5h-2Z"/><path class="u" d="M1640.5 260V268M1640.5 273V284M1639.5 268.5h2V273.5h-2Z"/><path class="d" d="M1641.5 268V271M1641.5 287V307M1640.5 271.5h2V287.5h-2Z"/><path class="d" d="M1642.5 290V291M1641.5 291.5h2V324.5h-2Z"/><path class="u" d="M1643.5 304V306M1642.5 306.5h2V323.5h-2Z"/><path class="u" d="M1644.5 292V293M1644.5 309V318M1643.5 293.5h2V309.5h-2Z"/><path class="d" d="M1645.5 275V297M1645.5 298V308M1644.5 297.5h2V298.5h-2Z"/><path class="u" d="M1646.5 236V237M1646.5 282V291M1645.5 237.5h2V282.5h-2Z"/><path class="u" d="M1647.5 189V190M1647.5 219V223M1646.5 190.5h2V219.5h-2Z"/><path class="u" d="M1648.5 158V162M1648.5 211V215M1647.5 162.5h2V211.5h-2Z"/><path class="u" d="M1649.5 128V132M1649.5 166V179M1648.5 132.5h2V166.5h-2Z"/><path class="d" d="M1650.5 129V131M1650.5 171V178M1649.5 131.5h2V171.5h-2Z"/><path class="d" d="M1651.5 164V168M1651.5 197V202M1650.5 168.5h2V197.5h-2Z"/><path class="d" d="M1652.5 193V197M1652.5 217V223M1651.5 197.5h2V217.5h-2Z"/><path class="d" d="M1653.5 207V215M1652.5 215.5h2V236.5h-2Z"/><path class="u" d="M1654.5 232V237M1653.5 154.5h2V232.5h-2Z"/><path class="u" d="M1655.5 119V120M1655.5 164V166M1654.5 120.5h2V164.5h-2Z"/><path class="u" d="M1656.5 118V119M1656.5 120V126M1655.5 119.5h2V120.5h-2Z"/><path class="d" d="M1657.5 116V121M1656.5 121.5h2V155.5h-2Z"/><path class="d" d="M1658.5 145V148M1658.5 189V193M1657.5 148.5h2V189.5h-2Z"/><path class="d" d="M1659.5 181V187M1659.5 188V205M1658.5 187.5h2V188.5h-2Z"/><path class="d" d="M1660.5 176V190M1660.5 191V196M1659.5 190.5h2V191.5h-2Z"/><path class="d" d="M1661.5 171V186M1661.5 207V212M1660.5 186.5h2V207.5h-2Z"/><path class="u" d="M1662.5 186V190M1662.5 200V212M1661.5 190.5h2V200.5h-2Z"/><path class="u" d="M1663.5 176V183M1663.5 192V198M1662.5 183.5h2V192.5h-2Z"/><path class="d" d="M1664.5 183V185M1664.5 195V206M1663.5 185.5h2V195.5h-2Z"/><path class="d" d="M1665.5 193V198M1665.5 205V207M1664.5 198.5h2V205.5h-2Z"/><path class="u" d="M1666.5 188V197M1665.5 197.5h2V202.5h-2Z"/><path class="u" d="M1667.5 187V194M1667.5 196V207M1666.5 194.5h2V196.5h-2Z"/><path class="u" d="M1668.5 178V186M1668.5 196V203M1667.5 186.5h2V196.5h-2Z"/><path class="u" d="M1669.5 186V190M1669.5 191V199M1668.5 190.5h2V191.5h-2Z"/><path class="u" d="M1670.5 155V166M1670.5 190V194M1669.5 166.5h2V190.5h-2Z"/><path class="u" d="M1671.5 143V144M1671.5 166V172M1670.5 144.5h2V166.5h-2Z"/><path class="d" d="M1672.5 143V145M1672.5 172V186M1671.5 145.5h2V172.5h-2Z"/><path class="u" d="M1673.5 160V167M1673.5 168V179M1672.5 167.5h2V168.5h-2Z"/><path class="u" d="M1674.5 152V166M1674.5 167V175M1673.5 166.5h2V167.5h-2Z"/><path class="d" d="M1675.5 152V163M1674.5 163.5h2V187.5h-2Z"/><path class="u" d="M1676.5 165V173M1676.5 180V194M1675.5 173.5h2V180.5h-2Z"/><path class="d" d="M1677.5 173V177M1677.5 202V209M1676.5 177.5h2V202.5h-2Z"/><path class="d" d="M1678.5 189V199M1677.5 199.5h2V248.5h-2Z"/><path class="d" d="M1679.5 215V236M1679.5 260V265M1678.5 236.5h2V260.5h-2Z"/><path class="u" d="M1680.5 224V232M1680.5 248V251M1679.5 232.5h2V248.5h-2Z"/><path class="d" d="M1681.5 235V237M1681.5 272V275M1680.5 237.5h2V272.5h-2Z"/><path class="u" d="M1682.5 246V270M1682.5 271V273M1681.5 270.5h2V271.5h-2Z"/><path class="u" d="M1683.5 203V207M1683.5 263V267M1682.5 207.5h2V263.5h-2Z"/><path class="u" d="M1684.5 186V191M1684.5 226V228M1683.5 191.5h2V226.5h-2Z"/><path class="u" d="M1685.5 160V162M1685.5 194V196M1684.5 162.5h2V194.5h-2Z"/><path class="u" d="M1686.5 130V131M1686.5 163V172M1685.5 131.5h2V163.5h-2Z"/><path class="u" d="M1687.5 129V136M1687.5 138V153M1686.5 136.5h2V138.5h-2Z"/><path class="u" d="M1688.5 131V132M1688.5 136V142M1687.5 132.5h2V136.5h-2Z"/><path class="d" d="M1689.5 129V132M1689.5 145V159M1688.5 132.5h2V145.5h-2Z"/><path class="d" d="M1690.5 145V146M1690.5 170V176M1689.5 146.5h2V170.5h-2Z"/><path class="d" d="M1691.5 164V169M1691.5 171V187M1690.5 169.5h2V171.5h-2Z"/><path class="d" d="M1692.5 223V225M1691.5 174.5h2V223.5h-2Z"/><path class="d" d="M1693.5 190V213M1693.5 215V220M1692.5 213.5h2V215.5h-2Z"/><path class="u" d="M1694.5 193V198M1694.5 213V228M1693.5 198.5h2V213.5h-2Z"/><path class="d" d="M1695.5 206V207M1695.5 244V246M1694.5 207.5h2V244.5h-2Z"/><path class="d" d="M1696.5 236V243M1696.5 265V268M1695.5 243.5h2V265.5h-2Z"/><path class="d" d="M1697.5 251V264M1697.5 272V295M1696.5 264.5h2V272.5h-2Z"/><path class="u" d="M1698.5 236V238M1698.5 289V296M1697.5 238.5h2V289.5h-2Z"/><path class="d" d="M1699.5 231V240M1699.5 247V258M1698.5 240.5h2V247.5h-2Z"/><path class="d" d="M1700.5 247V249M1700.5 275V288M1699.5 249.5h2V275.5h-2Z"/><path class="d" d="M1701.5 242V271M1701.5 283V288M1700.5 271.5h2V283.5h-2Z"/><path class="u" d="M1702.5 260V272M1702.5 276V288M1701.5 272.5h2V276.5h-2Z"/><path class="u" d="M1703.5 233V237M1703.5 269V274M1702.5 237.5h2V269.5h-2Z"/><path class="u" d="M1704.5 205V206M1704.5 237V247M1703.5 206.5h2V237.5h-2Z"/><path class="d" d="M1705.5 207V209M1705.5 233V240M1704.5 209.5h2V233.5h-2Z"/><path class="u" d="M1706.5 223V231M1706.5 234V257M1705.5 231.5h2V234.5h-2Z"/><path class="u" d="M1707.5 229V230M1707.5 238V255M1706.5 230.5h2V238.5h-2Z"/><path class="d" d="M1708.5 235V239M1708.5 249V261M1707.5 239.5h2V249.5h-2Z"/><path class="d" d="M1709.5 312V316M1708.5 257.5h2V312.5h-2Z"/><path class="d" d="M1710.5 296V304M1710.5 363V366M1709.5 304.5h2V363.5h-2Z"/><path class="u" d="M1711.5 323V325M1711.5 361V383M1710.5 325.5h2V361.5h-2Z"/><path class="d" d="M1712.5 323V331M1712.5 368V371M1711.5 331.5h2V368.5h-2Z"/><path class="u" d="M1713.5 302V305M1713.5 338V344M1712.5 305.5h2V338.5h-2Z"/><path class="d" d="M1714.5 298V306M1714.5 331V335M1713.5 306.5h2V331.5h-2Z"/><path class="d" d="M1715.5 311V324M1715.5 338V341M1714.5 324.5h2V338.5h-2Z"/><path class="d" d="M1716.5 325V336M1716.5 366V374M1715.5 336.5h2V366.5h-2Z"/><path class="d" d="M1717.5 336V358M1717.5 381V383M1716.5 358.5h2V381.5h-2Z"/><path class="d" d="M1718.5 366V375M1718.5 393V395M1717.5 375.5h2V393.5h-2Z"/><path class="u" d="M1719.5 375V376M1719.5 386V389M1718.5 376.5h2V386.5h-2Z"/><path class="u" d="M1720.5 365V366M1720.5 377V402M1719.5 366.5h2V377.5h-2Z"/><path class="u" d="M1721.5 373V374M1721.5 376V414M1720.5 374.5h2V376.5h-2Z"/><path class="d" d="M1722.5 438V446M1721.5 387.5h2V438.5h-2Z"/><path class="d" d="M1723.5 421V435M1723.5 438V455M1722.5 435.5h2V438.5h-2Z"/><path class="u" d="M1724.5 438V441M1723.5 405.5h2V438.5h-2Z"/><path class="d" d="M1725.5 391V407M1725.5 408V426M1724.5 407.5h2V408.5h-2Z"/><path class="d" d="M1726.5 398V408M1726.5 414V423M1725.5 408.5h2V414.5h-2Z"/><path class="u" d="M1727.5 383V387M1727.5 411V413M1726.5 387.5h2V411.5h-2Z"/><path class="d" d="M1728.5 381V384M1728.5 418V420M1727.5 384.5h2V418.5h-2Z"/><path class="d" d="M1729.5 411V418M1729.5 432V441M1728.5 418.5h2V432.5h-2Z"/><path class="u" d="M1730.5 387V394M1730.5 436V441M1729.5 394.5h2V436.5h-2Z"/><path class="u" d="M1731.5 364V367M1731.5 399V405M1730.5 367.5h2V399.5h-2Z"/><path class="d" d="M1732.5 366V367M1732.5 368V384M1731.5 367.5h2V368.5h-2Z"/><path class="d" d="M1733.5 371V372M1733.5 398V400M1732.5 372.5h2V398.5h-2Z"/><path class="u" d="M1734.5 358V375M1734.5 394V396M1733.5 375.5h2V394.5h-2Z"/><path class="u" d="M1735.5 328V329M1735.5 371V375M1734.5 329.5h2V371.5h-2Z"/><path class="d" d="M1736.5 328V333M1736.5 348V350M1735.5 333.5h2V348.5h-2Z"/><path class="u" d="M1737.5 335V340M1737.5 343V350M1736.5 340.5h2V343.5h-2Z"/><path class="d" d="M1738.5 337V342M1738.5 343V368M1737.5 342.5h2V343.5h-2Z"/><path class="d" d="M1739.5 353V361M1739.5 394V400M1738.5 361.5h2V394.5h-2Z"/><path class="d" d="M1740.5 387V392M1740.5 419V421M1739.5 392.5h2V419.5h-2Z"/><path class="d" d="M1741.5 402V413M1741.5 428V431M1740.5 413.5h2V428.5h-2Z"/><path class="u" d="M1742.5 403V406M1742.5 420V422M1741.5 406.5h2V420.5h-2Z"/><path class="d" d="M1743.5 405V410M1742.5 410.5h2V430.5h-2Z"/><path class="u" d="M1744.5 395V396M1744.5 429V431M1743.5 396.5h2V429.5h-2Z"/><path class="u" d="M1745.5 399V409M1744.5 384.5h2V399.5h-2Z"/><path class="d" d="M1746.5 384V386M1746.5 393V395M1745.5 386.5h2V393.5h-2Z"/><path class="d" d="M1747.5 392V393M1747.5 394V405M1746.5 393.5h2V394.5h-2Z"/><path class="d" d="M1748.5 395V396M1748.5 410V413M1747.5 396.5h2V410.5h-2Z"/><path class="u" d="M1749.5 399V401M1749.5 409V412M1748.5 401.5h2V409.5h-2Z"/><path class="d" d="M1750.5 400V403M1750.5 404V408M1749.5 403.5h2V404.5h-2Z"/><path class="u" d="M1751.5 386V387M1751.5 404V408M1750.5 387.5h2V404.5h-2Z"/><path class="d" d="M1752.5 386V389M1752.5 407V409M1751.5 389.5h2V407.5h-2Z"/><path class="u" d="M1753.5 397V398M1753.5 405V407M1752.5 398.5h2V405.5h-2Z"/><path class="u" d="M1754.5 374V386M1754.5 399V407M1753.5 386.5h2V399.5h-2Z"/><path class="u" d="M1755.5 360V363M1755.5 387V393M1754.5 363.5h2V387.5h-2Z"/><path class="u" d="M1756.5 349V350M1756.5 365V373M1755.5 350.5h2V365.5h-2Z"/><path class="d" d="M1757.5 350V351M1757.5 379V388M1756.5 351.5h2V379.5h-2Z"/><path class="d" d="M1758.5 359V372M1758.5 375V381M1757.5 372.5h2V375.5h-2Z"/><path class="d" d="M1759.5 364V373M1759.5 378V382M1758.5 373.5h2V378.5h-2Z"/><path class="d" d="M1760.5 370V376M1760.5 380V384M1759.5 376.5h2V380.5h-2Z"/><path class="d" d="M1761.5 380V381M1761.5 385V387M1760.5 381.5h2V385.5h-2Z"/>
</g>
<g clip-path="url(#cp)" class="l">
<line x1="2" y1="383.5" x2="1837" y2="383.5" stroke="#0000ff" stroke-dasharray="3 3" class="x"/>
<line x1="642" y1="118.5" x2="1831" y2="118.5" stroke="#ff0000" stroke-dasharray="3 3" class="x"/>
<line x1="508" y1="189.5" x2="630" y2="189.5" stroke="#ff0000" stroke-dasharray="3 3" class="x"/>
<line x1="589" y1="242.5" x2="623" y2="242.5" stroke="#ff0000" stroke-dasharray="3 3" class="x"/>
<line x1="1268" y1="233.5" x2="1645" y2="233.5" stroke="#ff0000" stroke-dasharray="3 3" class="x"/>
<line x1="1" y1="120.5" x2="429" y2="120.5" stroke="#ff6464" stroke-dasharray="3 3" class="x"/>
<line x1="742" y1="311.5" x2="1303" y2="311.5" stroke="#ff6464" stroke-dasharray="3 3" class="x"/>
<line x1="848.8" y1="296.4" x2="930.3" y2="298.6" stroke="#ff6464" stroke-dasharray="3 3"/>
<line x1="1589" y1="414.4" x2="1664.4" y2="416.5" stroke="#ff6464" stroke-dasharray="3 3"/>
<line x1="582.5" y1="269" x2="672" y2="33" stroke="#ff7070" stroke-dasharray="2 3"/>
<line x1="791.4" y1="550.6" x2="1187" y2="509" stroke="#ff7070" stroke-dasharray="3 3"/>
<line x1="188" y1="835.5" x2="1830" y2="835.5" stroke="#00ff00" stroke-dasharray="3 3" class="x"/>
<line x1="537" y1="589.5" x2="1830" y2="589.5" stroke="#00ff00" stroke-dasharray="3 3" class="x"/>
<line x1="584" y1="444.5" x2="718.5" y2="444.5" stroke="#00ff00" stroke-dasharray="3 3" class="x"/>
<line x1="639.5" y1="257.5" x2="672" y2="257.5" stroke="#00ff00" stroke-dasharray="3 3" class="x"/>
<line x1="582" y1="502" x2="673" y2="265" stroke="#00ff00" stroke-dasharray="2 3"/>
<line x1="787" y1="700.8" x2="1190" y2="658" stroke="#00c000" stroke-dasharray="3 3"/>
<line x1="1601" y1="519.5" x2="1737" y2="519.5" stroke="#aaff00" stroke-dasharray="3 3" class="x"/>
<line x1="177" y1="210.5" x2="1208" y2="-0.5" stroke="#008080"/>
<line x1="178" y1="838.5" x2="1831.7" y2="494.7" stroke="#008000"/>
<line x1="1147" y1="279" x2="1733" y2="50" stroke="#8000ff"/>
<line x1="1147" y1="622" x2="1733" y2="392.7" stroke="#8000ff"/>
<line x1="932" y1="639.5" x2="1363" y2="117" stroke="#00ff00"/>
<line x1="977.5" y1="838.5" x2="1363" y2="370.8" stroke="#00ff00"/>
<line x1="909" y1="563.5" x2="1266.6" y2="456.5" stroke="#00ffff"/>
<line x1="909" y1="691.5" x2="1266.6" y2="584.8" stroke="#00ffff"/>
<line x1="1555" y1="490.6" x2="1647.6" y2="293.7" stroke="#00ff00" stroke-width="2.1"/>
<line x1="1555.7" y1="640" x2="1647.3" y2="442.5" stroke="#00ff00" stroke-width="2.1"/>
<line x1="1577.9" y1="447" x2="1674" y2="30" stroke="#008000"/>
<line x1="1580.5" y1="666.6" x2="1675" y2="258" stroke="#008000"/>
</g>
<path d="M1756.5 1h8l-4 4z" fill="#22c022"/>
<text x="260" y="109" font-size="14" font-weight="bold" fill="#000" stroke="#000" textLength="152" lengthAdjust="spacingAndGlyphs">ETHEREUM (ETH) USD</text>
<text class="ser" x="451.8" y="108.5" font-size="15.5" fill="#000" stroke="#000" textLength="199.4" lengthAdjust="spacingAndGlyphs">Haftungsausschluss für Inhalte: Alle Trendkanäle</text>
<text class="ser" x="654.4" y="108.5" font-size="15.5" fill="#000" stroke="#000" textLength="157.6" lengthAdjust="spacingAndGlyphs">bzw. andere Linien, oder Grafiken hier</text>
<text class="ser" x="815.2" y="108.5" font-size="15.5" fill="#000" stroke="#000" textLength="166.4" lengthAdjust="spacingAndGlyphs">sind keine Empfehlungen, oder Beratung,</text>
<text class="ser" x="984.8" y="108.5" font-size="15.5" fill="#000" stroke="#000" textLength="166.4" lengthAdjust="spacingAndGlyphs">sondern die zeigen lediglich meine eigene</text>
<text class="ser" x="1154.4" y="108.5" font-size="15.5" fill="#000" stroke="#000" textLength="203.4" lengthAdjust="spacingAndGlyphs">Einschätzung. Alle Chartdaten sind ohne Gewähr.</text>
<text class="ser" x="1362.9" y="108.5" font-size="15.5" fill="#000" stroke="#000" textLength="192.4" lengthAdjust="spacingAndGlyphs">www.wikifolio.com/de/de/p/cyberwaehrungen</text>
<text x="504.5" y="183" style="fill:#008080" textLength="127" lengthAdjust="spacingAndGlyphs">Durchbruch nach oben!</text>
<text x="500" y="235" style="fill:#008080" textLength="127" lengthAdjust="spacingAndGlyphs">Durchbruch nach oben!</text>
<text x="1507.5" y="228" style="fill:#008080" textLength="127" lengthAdjust="spacingAndGlyphs">Durchbruch nach oben!</text>
<text x="408.5" y="831.3" style="fill:#0000a0" textLength="928" lengthAdjust="spacingAndGlyphs">- Stochastik-Oszillator - Ein Indikator, für erfahrene viel-Trader, schwankt zwischen Null und 100. Seine überverkaufte Zone, liegt unter 20 und die überkaufte Zone, über 80.</text>
<g class="x" stroke="#bdbdbd" stroke-width="1" fill="none">
<path d="M1 839.5H1837M1837.5 1V947M1 932.5H1915M1822.5 932.5V947"/>
<path d="M124.5 932.5V947M167.5 932.5V947M211.5 932.5V947M255.5 932.5V947M301.5 932.5V947M345.5 932.5V947M390.5 932.5V947M435.5 932.5V947M479.5 932.5V947M523.5 932.5V947M568.5 932.5V947M614.5 932.5V947M658.5 932.5V947M703.5 932.5V947M747.5 932.5V947M792.5 932.5V947M836.5 932.5V947M882.5 932.5V947M926.5 932.5V947M971.5 932.5V947M1016.5 932.5V947M1060.5 932.5V947M1104.5 932.5V947M1149.5 932.5V947M1195.5 932.5V947M1240.5 932.5V947M1283.5 932.5V947M1329.5 932.5V947M1373.5 932.5V947M1418.5 932.5V947M1463.5 932.5V947M1509.5 932.5V947M1551.5 932.5V947M1597.5 932.5V947M1642.5 932.5V947M1686.5 932.5V947M1730.5 932.5V947M1776.5 932.5V947M79.5 945V947"/>
<path d="M1838 928.5H1841"/>
</g>
<text x="816.5" y="859" style="fill:#000080">80.000</text>
<text x="1182.5" y="884.5" style="fill:#000080">50.000</text>
<text x="1547.5" y="910" style="fill:#000080">20.000</text>
<g clip-path="url(#cs)" fill="none" stroke-width="1">
<path class="x" stroke="#000" d="M5 860.5H8M28 860.5H1837M5 885.5H8M29 885.5H1837M5 911.5H1837"/>
<polyline class="x" stroke="#000" points="19,898.9 20,902.8 21,906.7 22,910.5 23,912.4 24,911.9 25,911.3 26,910.8 27,909.3 28,907.3 29,905.3 30,903.3 31,898.1 32,892.8 33,887.5 34,882.5 35,879.3 36,876.0 37,872.8 38,869.6 39,874.6 40,880.4 41,886.2 42,893.7 43,902.2 44,910.6 45,914.3 46,911.0 47,907.6 48,904.3 49,900.8 50,897.3 51,894.6 52,896.3 53,897.9 54,899.7 55,902.2 56,904.7 57,904.0 58,901.3 59,898.6 60,896.0 61,893.9 62,891.9 63,889.9 64,887.5 65,882.5 66,877.5 67,870.1 68,861.1 69,852.9 70,851.9 71,850.9 72,855.3 73,863.3 74,871.7 75,883.7 76,895.7 77,901.5 78,903.0 79,904.0 80,899.7 81,895.4 82,891.0 83,885.6 84,877.9 85,870.2 86,863.4 87,869.0 88,874.6 89,881.9 90,889.5 91,897.2 92,902.3 93,905.3 94,908.3 95,911.3 96,905.8 97,898.1 98,890.4 99,882.7 100,873.7 101,864.7 102,860.4 103,860.0 104,859.7 105,859.4 106,861.6 107,864.6 108,867.6 109,870.8 110,878.8 111,886.8 112,894.8 113,901.8 114,906.0 115,910.2 116,914.4 117,911.7 118,909.1 119,906.4 120,903.8 121,901.4 122,899.1 123,896.7 124,894.4 125,893.4 126,892.4 127,891.4 128,891.2 129,893.9 130,896.6 131,899.2 132,902.2 133,905.6 134,908.9 135,912.2 136,910.3 137,906.3 138,902.8 139,901.1 140,899.4 141,897.8 142,895.8 143,893.5 144,891.1 145,888.8 146,882.0 147,873.3 148,864.5 149,861.5 150,861.1 151,860.8 152,860.0 153,858.8 154,857.5 155,856.3 156,855.0 157,854.7 158,855.7 159,856.7 160,857.7 161,859.0 162,860.5 163,861.2 164,857.7 165,854.2 166,853.0 167,853.0 168,853.0 169,853.0 170,852.4 171,851.8 172,851.1 173,850.5 174,850.1 175,849.8 176,849.5 177,850.0 178,851.9 179,853.9 180,856.4 181,863.0 182,869.7 183,876.6 184,885.3 185,893.9 186,902.6 187,908.3 188,908.8 189,909.3 190,908.3 191,906.9 192,905.6 193,904.6 194,906.6 195,908.6 196,910.6 197,912.0 198,912.4 199,912.7 200,913.0 201,910.8 202,906.8 203,902.8 204,898.8 205,894.3 206,889.6 207,884.9 208,880.4 209,877.9 210,875.4 211,874.6 212,875.0 213,875.4 214,871.9 215,865.4 216,858.9 217,855.0 218,857.5 219,860.0 220,864.1 221,868.6 222,871.2 223,869.2 224,867.2 225,865.2 226,862.4 227,858.7 228,855.0 229,851.4 230,851.3 231,852.3 232,853.9 233,857.3 234,860.6 235,863.9 236,868.6 237,874.6 238,880.6 239,886.6 240,889.3 241,890.8 242,892.3 243,889.4 244,881.9 245,874.4 246,869.1 247,866.1 248,863.1 249,866.3 250,869.7 251,873.0 252,874.5 253,869.9 254,865.2 255,860.5 256,858.2 257,858.5 258,858.9 259,859.2 260,861.4 261,864.4 262,867.4 263,870.4 264,876.0 265,881.6 266,887.3 267,891.5 268,889.5 269,887.5 270,884.4 271,880.9 272,879.1 273,884.4 274,889.7 275,895.1 276,899.8 277,903.8 278,907.8 279,903.2 280,897.9 281,892.6 282,886.9 283,879.2 284,871.5 285,863.8 286,867.6 287,872.6 288,877.7 289,883.2 290,888.6 291,888.7 292,880.8 293,872.9 294,865.2 295,857.7 296,850.2 297,849.3 298,849.3 299,849.3 300,848.6 301,847.6 302,846.6 303,845.6 304,847.7 305,850.2 306,852.7 307,856.0 308,859.5 309,861.3 310,859.7 311,858.2 312,857.1 313,860.6 314,864.1 315,869.7 316,876.6 317,883.5 318,889.9 319,895.4 320,900.8 321,900.6 322,889.1 323,877.6 324,878.9 325,882.9 326,888.5 327,897.7 328,906.9 329,912.3 330,909.6 331,906.9 332,904.0 333,897.7 334,891.4 335,885.0 336,881.8 337,885.8 338,889.8 339,893.6 340,897.3 341,901.1 342,897.3 343,891.6 344,885.8 345,882.9 346,882.6 347,882.2 348,881.9 349,880.0 350,877.7 351,875.4 352,873.0 353,869.2 354,865.3 355,861.5 356,863.1 357,866.4 358,869.7 359,868.8 360,866.5 361,864.1 362,861.8 363,867.4 364,873.1 365,878.8 366,884.3 367,889.3 368,894.3 369,896.2 370,887.7 371,879.2 372,870.8 373,862.8 374,854.8 375,850.5 376,850.5 377,850.5 378,850.5 379,851.5 380,852.8 381,854.1 382,855.5 383,857.1 384,858.8 385,860.5 386,862.6 387,866.8 388,871.0 389,873.7 390,870.2 391,866.7 392,863.3 393,864.9 394,866.9 395,868.9 396,871.7 397,877.9 398,884.2 399,888.3 400,882.2 401,876.1 402,870.0 403,863.9 404,866.4 405,873.4 406,880.4 407,887.4 408,882.1 409,875.4 410,868.8 411,862.3 412,857.3 413,852.3 414,851.2 415,852.2 416,853.2 417,854.2 418,857.4 419,860.9 420,864.4 421,867.9 422,871.4 423,866.6 424,860.6 425,857.6 426,860.0 427,862.3 428,864.6 429,868.1 430,872.3 431,876.4 432,875.2 433,870.5 434,865.8 435,861.1 436,856.6 437,854.6 438,852.6 439,850.6 440,849.7 441,851.1 442,852.4 443,853.7 444,854.6 445,855.1 446,855.6 447,856.1 448,856.6 449,859.6 450,864.6 451,869.6 452,874.6 453,885.3 454,897.3 455,905.7 456,906.1 457,906.4 458,906.7 459,902.1 460,893.2 461,884.4 462,875.7 463,867.3 464,859.0 465,853.6 466,855.6 467,857.6 468,859.6 469,866.3 470,877.3 471,888.3 472,897.0 473,905.8 474,914.2 475,900.0 476,885.8 477,871.5 478,862.0 479,854.0 480,848.5 481,850.4 482,852.2 483,854.1 484,855.1 485,853.5 486,851.8 487,850.1 488,850.7 489,853.7 490,856.7 491,859.7 492,864.7 493,870.5 494,876.3 495,877.2 496,872.6 497,868.0 498,863.2 499,858.2 500,853.2 501,848.2 502,847.2 503,847.9 504,848.6 505,849.2 506,849.9 507,850.6 508,851.2 509,852.6 510,857.1 511,861.6 512,871.3 513,883.3 514,894.2 515,900.2 516,906.2 517,907.2 518,905.9 519,904.6 520,903.2 521,898.6 522,893.6 523,888.6 524,882.9 525,877.1 526,871.3 527,871.6 528,875.1 529,879.3 530,887.3 531,895.3 532,899.4 533,901.4 534,903.4 535,905.4 536,908.9 537,912.6 538,916.2 539,919.1 540,916.4 541,913.7 542,911.0 543,902.7 544,893.5 545,884.3 546,877.3 547,870.7 548,864.0 549,863.7 550,864.5 551,865.3 552,874.0 553,888.0 554,901.3 555,908.3 556,915.3 557,917.7 558,916.9 559,916.2 560,912.6 561,903.4 562,894.3 563,885.1 564,875.9 565,866.8 566,859.7 567,857.0 568,854.3 569,851.7 570,851.1 571,850.4 572,849.7 573,849.0 574,848.0 575,847.0 576,848.1 577,849.8 578,851.4 579,853.3 580,858.3 581,863.3 582,868.3 583,870.0 584,870.9 585,871.8 586,872.7 587,871.0 588,867.2 589,863.3 590,859.5 591,855.8 592,852.0 593,850.9 594,857.2 595,863.4 596,871.4 597,884.4 598,897.4 599,899.8 600,898.6 601,897.5 602,897.2 603,897.9 604,898.5 605,899.2 606,900.4 607,901.7 608,903.0 609,904.4 610,903.4 611,902.4 612,901.4 613,898.4 614,888.4 615,878.4 616,867.0 617,855.0 618,846.0 619,848.5 620,851.0 621,853.2 622,854.0 623,854.7 624,855.5 625,856.5 626,857.5 627,858.5 628,859.7 629,862.1 630,864.4 631,866.7 632,867.1 633,864.8 634,862.4 635,859.9 636,856.4 637,852.9 638,852.6 639,853.9 640,855.1 641,856.0 642,856.6 643,857.3 644,858.0 645,864.4 646,871.4 647,880.8 648,893.8 649,906.8 650,909.5 651,911.0 652,908.4 653,899.6 654,890.7 655,882.4 656,877.4 657,872.4 658,868.4 659,870.9 660,873.4 661,876.3 662,882.5 663,888.6 664,894.8 665,899.6 666,904.2 667,908.8 668,907.6 669,902.6 670,897.6 671,891.6 672,884.9 673,878.3 674,873.9 675,871.2 676,868.5 677,873.7 678,880.3 679,887.0 680,896.5 681,906.5 682,913.0 683,912.7 684,912.4 685,912.0 686,910.6 687,908.2 688,905.9 689,903.6 690,901.8 691,900.1 692,898.4 693,897.0 694,899.3 695,901.7 696,904.0 697,906.2 698,908.1 699,910.1 700,911.7 701,906.3 702,900.8 703,895.3 704,886.3 705,877.3 706,869.1 707,861.6 708,854.1 709,852.5 710,856.4 711,860.2 712,865.2 713,873.2 714,881.2 715,889.2 716,896.5 717,903.2 718,909.8 719,916.5 720,912.4 721,904.7 722,897.0 723,889.0 724,880.7 725,872.3 726,869.7 727,873.0 728,876.4 729,881.1 730,887.2 731,893.4 732,898.4 733,899.4 734,900.4 735,892.0 736,880.0 737,868.8 738,860.8 739,852.8 740,850.3 741,849.9 742,849.5 743,849.8 744,851.1 745,852.3 746,853.6 747,855.0 748,856.3 749,857.6 750,864.9 751,874.9 752,885.1 753,896.1 754,907.1 755,912.0 756,913.9 757,915.8 758,915.0 759,910.4 760,905.8 761,901.6 762,897.8 763,894.1 764,893.3 765,896.7 766,900.2 767,903.3 768,904.7 769,906.0 770,907.3 771,908.8 772,910.5 773,912.1 774,914.3 775,917.3 776,920.3 777,918.0 778,914.9 779,911.8 780,909.0 781,906.3 782,903.6 783,901.0 784,899.3 785,897.8 786,897.0 787,897.3 788,897.7 789,898.0 790,897.5 791,896.5 792,895.5 793,894.5 794,896.3 795,898.7 796,901.0 797,903.5 798,907.5 799,911.5 800,915.5 801,918.0 802,917.6 803,917.2 804,917.3 805,918.4 806,919.6 807,920.3 808,914.9 809,909.5 810,904.1 811,896.6 812,888.6 813,884.0 814,886.9 815,889.8 816,888.7 817,878.2 818,867.7 819,867.9 820,870.9 821,874.5 822,879.5 823,884.5 824,876.2 825,864.2 826,854.8 827,852.3 828,849.8 829,851.9 830,855.2 831,858.5 832,861.8 833,861.1 834,860.5 835,859.8 836,860.1 837,863.1 838,866.1 839,869.1 840,869.6 841,867.6 842,865.6 843,863.6 844,861.2 845,858.7 846,856.2 847,861.4 848,869.4 849,877.5 850,886.0 851,894.5 852,902.9 853,906.1 854,909.1 855,909.9 856,908.2 857,906.5 858,904.9 859,900.5 860,895.1 861,889.7 862,883.8 863,877.6 864,871.5 865,866.9 866,864.4 867,861.9 868,871.7 869,882.2 870,892.5 871,902.5 872,912.5 873,915.5 874,918.0 875,918.4 876,916.1 877,913.8 878,911.4 879,904.6 880,895.6 881,887.4 882,882.9 883,878.4 884,876.2 885,875.2 886,875.5 887,883.5 888,891.4 889,897.7 890,894.6 891,891.5 892,888.4 893,884.5 894,880.5 895,876.5 896,872.4 897,867.4 898,862.4 899,857.9 900,856.7 901,855.6 902,854.4 903,855.7 904,857.4 905,859.1 906,861.4 907,868.9 908,876.4 909,883.9 910,891.9 911,899.9 912,903.8 913,905.0 914,906.1 915,907.1 916,907.8 917,908.5 918,909.1 919,907.2 920,903.4 921,899.7 922,892.3 923,882.3 924,872.3 925,864.1 926,859.5 927,854.9 928,853.1 929,857.2 930,861.3 931,864.5 932,867.0 933,869.5 934,873.8 935,879.6 936,885.5 937,892.1 938,899.4 939,906.7 940,911.2 941,908.9 942,906.6 943,904.3 944,902.9 945,901.5 946,900.1 947,897.5 948,894.1 949,890.6 950,885.6 951,876.4 952,867.1 953,858.0 954,854.7 955,851.3 956,848.0 957,847.3 958,846.7 959,846.0 960,846.0 961,847.9 962,849.7 963,851.6 964,853.4 965,854.9 966,856.5 967,858.0 968,863.0 969,868.0 970,873.0 971,872.1 972,871.1 973,870.1 974,869.7 975,871.7 976,873.6 977,875.5 978,886.0 979,896.9 980,907.7 981,900.5 982,892.5 983,883.3 984,872.8 985,862.3 986,864.6 987,867.5 988,870.4 989,875.6 990,881.0 991,886.4 992,890.7 993,894.6 994,898.4 995,903.7 996,910.7 997,917.8 998,917.2 999,905.9 1000,894.7 1001,884.4 1002,875.6 1003,866.7 1004,859.1 1005,857.7 1006,856.4 1007,855.1 1008,856.1 1009,860.6 1010,865.1 1011,868.7 1012,872.1 1013,875.6 1014,873.8 1015,869.2 1016,864.5 1017,859.8 1018,860.0 1019,860.9 1020,861.7 1021,860.7 1022,859.5 1023,858.2 1024,856.4 1025,854.4 1026,852.5 1027,856.4 1028,863.9 1029,872.2 1030,887.2 1031,902.2 1032,909.3 1033,911.3 1034,912.8 1035,908.9 1036,905.1 1037,901.2 1038,896.1 1039,890.7 1040,885.3 1041,889.6 1042,895.8 1043,902.1 1044,907.3 1045,912.3 1046,910.4 1047,907.1 1048,903.7 1049,900.4 1050,896.4 1051,892.4 1052,888.4 1053,884.6 1054,881.2 1055,877.9 1056,874.6 1057,871.8 1058,869.5 1059,867.1 1060,864.8 1061,867.3 1062,871.0 1063,874.8 1064,881.0 1065,887.9 1066,894.9 1067,901.2 1068,907.0 1069,912.9 1070,912.3 1071,906.0 1072,899.6 1073,889.7 1074,878.7 1075,869.0 1076,863.0 1077,857.0 1078,857.4 1079,859.9 1080,862.4 1081,863.1 1082,863.1 1083,863.1 1084,863.1 1085,868.0 1086,873.0 1087,880.0 1088,889.0 1089,898.0 1090,895.1 1091,892.0 1092,889.0 1093,889.3 1094,891.0 1095,892.6 1096,898.1 1097,905.1 1098,910.8 1099,911.7 1100,912.5 1101,912.6 1102,909.9 1103,907.2 1104,904.5 1105,905.1 1106,905.9 1107,906.7 1108,902.6 1109,896.3 1110,890.1 1111,884.2 1112,878.6 1113,883.3 1114,892.8 1115,901.1 1116,903.6 1117,906.1 1118,908.6 1119,908.9 1120,908.1 1121,907.3 1122,905.1 1123,900.9 1124,896.7 1125,893.0 1126,892.2 1127,891.3 1128,891.4 1129,896.4 1130,901.4 1131,905.9 1132,907.8 1133,909.8 1134,911.7 1135,907.0 1136,901.5 1137,893.2 1138,880.2 1139,867.2 1140,868.3 1141,871.3 1142,874.4 1143,880.5 1144,888.4 1145,896.3 1146,896.6 1147,892.1 1148,887.7 1149,884.2 1150,880.7 1151,884.1 1152,892.0 1153,899.9 1154,905.4 1155,909.3 1156,913.1 1157,916.2 1158,917.7 1159,919.2 1160,915.9 1161,911.7 1162,907.4 1163,898.7 1164,886.7 1165,875.2 1166,869.8 1167,864.3 1168,859.3 1169,858.9 1170,858.6 1171,858.3 1172,857.9 1173,857.6 1174,857.3 1175,856.9 1176,855.9 1177,854.2 1178,852.5 1179,853.5 1180,856.5 1181,859.6 1182,863.4 1183,868.9 1184,874.4 1185,879.5 1186,884.5 1187,886.3 1188,879.8 1189,873.3 1190,872.1 1191,872.4 1192,872.7 1193,873.0 1194,869.4 1195,865.7 1196,862.0 1197,858.8 1198,856.7 1199,854.6 1200,854.2 1201,858.7 1202,863.3 1203,869.3 1204,876.8 1205,884.3 1206,890.1 1207,894.1 1208,898.1 1209,891.2 1210,884.2 1211,878.0 1212,872.5 1213,867.0 1214,871.3 1215,875.9 1216,880.4 1217,885.0 1218,889.7 1219,894.3 1220,892.8 1221,888.8 1222,883.9 1223,875.4 1224,866.9 1225,864.0 1226,863.5 1227,863.8 1228,867.6 1229,871.5 1230,875.3 1231,884.2 1232,893.3 1233,902.5 1234,908.7 1235,914.7 1236,916.0 1237,911.0 1238,906.0 1239,901.2 1240,896.6 1241,892.0 1242,886.6 1243,877.6 1244,868.6 1245,861.0 1246,854.0 1247,848.1 1248,848.4 1249,848.7 1250,849.1 1251,849.3 1252,849.3 1253,849.3 1254,849.3 1255,849.9 1256,850.9 1257,851.9 1258,852.9 1259,854.2 1260,855.5 1261,856.9 1262,857.9 1263,856.9 1264,855.9 1265,854.9 1266,853.8 1267,852.6 1268,851.3 1269,851.9 1270,855.7 1271,859.6 1272,864.4 1273,877.4 1274,890.4 1275,898.0 1276,902.0 1277,905.0 1278,898.1 1279,891.2 1280,884.3 1281,880.2 1282,876.7 1283,876.1 1284,881.6 1285,887.1 1286,891.4 1287,895.4 1288,895.7 1289,888.2 1290,880.7 1291,885.8 1292,893.7 1293,901.6 1294,907.6 1295,913.1 1296,915.0 1297,908.8 1298,902.5 1299,896.8 1300,892.2 1301,887.5 1302,883.1 1303,883.9 1304,884.7 1305,885.4 1306,887.2 1307,889.3 1308,891.4 1309,891.5 1310,891.1 1311,890.7 1312,894.5 1313,899.5 1314,904.5 1315,903.2 1316,895.8 1317,888.5 1318,880.2 1319,869.0 1320,857.7 1321,849.4 1322,850.1 1323,850.8 1324,851.4 1325,852.9 1326,855.2 1327,857.5 1328,860.6 1329,866.0 1330,871.4 1331,877.3 1332,884.8 1333,892.3 1334,899.2 1335,904.2 1336,909.2 1337,914.2 1338,912.8 1339,911.1 1340,909.5 1341,907.6 1342,904.9 1343,902.3 1344,899.6 1345,897.6 1346,896.5 1347,895.3 1348,894.1 1349,892.9 1350,891.6 1351,891.4 1352,895.4 1353,899.4 1354,903.4 1355,903.3 1356,898.0 1357,892.6 1358,886.7 1359,878.3 1360,870.0 1361,862.3 1362,857.8 1363,853.3 1364,853.2 1365,855.2 1366,857.3 1367,862.6 1368,869.5 1369,876.4 1370,883.4 1371,890.4 1372,897.4 1373,901.1 1374,904.4 1375,907.8 1376,910.5 1377,909.7 1378,908.9 1379,907.6 1380,902.9 1381,898.3 1382,893.7 1383,889.9 1384,886.3 1385,882.6 1386,879.2 1387,877.9 1388,876.7 1389,876.0 1390,879.8 1391,883.7 1392,887.5 1393,891.5 1394,895.5 1395,899.5 1396,903.3 1397,905.3 1398,907.3 1399,909.3 1400,909.6 1401,906.5 1402,903.5 1403,900.2 1404,895.2 1405,890.2 1406,885.2 1407,880.2 1408,875.2 1409,870.2 1410,865.2 1411,860.2 1412,855.2 1413,854.0 1414,853.6 1415,853.2 1416,856.2 1417,862.1 1418,867.9 1419,877.4 1420,889.9 1421,902.4 1422,907.7 1423,907.0 1424,906.2 1425,903.7 1426,896.7 1427,889.7 1428,880.9 1429,871.7 1430,862.5 1431,859.3 1432,861.8 1433,864.3 1434,872.2 1435,885.2 1436,898.1 1437,897.3 1438,896.5 1439,895.6 1440,898.7 1441,901.8 1442,904.8 1443,896.8 1444,884.8 1445,873.0 1446,862.0 1447,851.0 1448,851.4 1449,856.0 1450,860.6 1451,864.8 1452,868.6 1453,872.3 1454,874.5 1455,874.8 1456,875.1 1457,875.5 1458,871.8 1459,866.4 1460,861.0 1461,857.7 1462,856.8 1463,856.0 1464,855.4 1465,854.9 1466,854.5 1467,857.1 1468,863.7 1469,870.2 1470,875.3 1471,873.8 1472,872.2 1473,870.7 1474,876.0 1475,881.8 1476,887.6 1477,892.7 1478,897.7 1479,900.6 1480,900.6 1481,900.6 1482,900.6 1483,900.4 1484,900.0 1485,899.6 1486,895.0 1487,884.0 1488,873.0 1489,876.6 1490,882.1 1491,887.5 1492,896.5 1493,906.0 1494,909.5 1495,903.3 1496,897.0 1497,891.1 1498,885.7 1499,880.3 1500,875.5 1501,875.0 1502,874.5 1503,877.4 1504,882.4 1505,887.4 1506,890.9 1507,891.7 1508,892.6 1509,893.7 1510,895.4 1511,897.0 1512,898.7 1513,900.7 1514,903.0 1515,905.4 1516,904.8 1517,898.6 1518,892.3 1519,887.7 1520,886.3 1521,885.0 1522,883.7 1523,886.2 1524,891.5 1525,896.9 1526,901.7 1527,905.3 1528,908.9 1529,912.5 1530,912.8 1531,912.5 1532,912.1 1533,911.7 1534,911.4 1535,911.1 1536,910.7 1537,910.9 1538,911.2 1539,911.6 1540,911.7 1541,904.4 1542,897.0 1543,889.7 1544,881.9 1545,873.9 1546,867.8 1547,866.8 1548,865.8 1549,873.9 1550,884.7 1551,895.5 1552,900.4 1553,903.5 1554,906.6 1555,909.6 1556,911.0 1557,907.2 1558,903.5 1559,900.1 1560,897.7 1561,895.4 1562,893.1 1563,889.4 1564,884.4 1565,879.4 1566,874.0 1567,867.4 1568,860.7 1569,855.3 1570,854.3 1571,853.3 1572,852.3 1573,852.7 1574,854.6 1575,856.5 1576,858.5 1577,860.6 1578,862.6 1579,863.5 1580,859.8 1581,856.0 1582,853.1 1583,853.5 1584,853.9 1585,854.3 1586,857.5 1587,861.0 1588,864.5 1589,867.0 1590,869.1 1591,871.1 1592,871.1 1593,870.1 1594,869.1 1595,868.1 1596,871.7 1597,875.7 1598,881.8 1599,890.8 1600,899.8 1601,892.9 1602,884.5 1603,876.0 1604,873.9 1605,875.1 1606,876.4 1607,882.3 1608,890.8 1609,898.6 1610,902.4 1611,906.1 1612,908.5 1613,902.0 1614,895.4 1615,888.9 1616,881.4 1617,873.7 1618,866.0 1619,862.8 1620,862.4 1621,862.0 1622,860.0 1623,857.1 1624,854.2 1625,852.2 1626,850.8 1627,849.4 1628,848.1 1629,847.6 1630,847.7 1631,847.8 1632,847.9 1633,848.6 1634,850.3 1635,851.9 1636,853.6 1637,855.6 1638,858.0 1639,860.3 1640,862.6 1641,871.3 1642,881.3 1643,889.9 1644,895.6 1645,893.0 1646,884.0 1647,874.9 1648,864.4 1649,853.9 1650,851.6 1651,855.9 1652,860.1 1653,864.9 1654,871.0 1655,877.2 1656,883.0 1657,880.5 1658,878.0 1659,875.7 1660,879.0 1661,882.4 1662,885.7 1663,890.3 1664,895.0 1665,899.6 1666,902.2 1667,904.2 1668,906.2 1669,908.0 1670,899.4 1671,890.7 1672,882.0 1673,874.9 1674,872.2 1675,869.5 1676,866.8 1677,877.3 1678,887.8 1679,896.3 1680,902.7 1681,909.2 1682,915.6 1683,907.3 1684,898.8 1685,890.4 1686,880.8 1687,870.8 1688,862.5 1689,860.0 1690,857.5 1691,862.2 1692,869.7 1693,877.9 1694,888.9 1695,899.9 1696,906.0 1697,910.0 1698,912.7 1699,910.4 1700,908.1 1701,905.8 1702,902.1 1703,898.3 1704,894.6 1705,892.0 1706,889.5 1707,887.0 1708,892.9 1709,899.4 1710,904.6 1711,908.1 1712,911.6 1713,908.0 1714,903.8 1715,899.5 1716,898.1 1717,898.1 1718,898.8 1719,902.6 1720,906.4 1721,910.3 1722,912.5 1723,914.5 1724,913.7 1725,908.7 1726,903.7 1727,898.0 1728,891.3 1729,884.7 1730,878.5 1731,873.1 1732,867.7 1733,862.9 1734,861.4 1735,859.9 1736,860.5 1737,862.4 1738,864.3 1739,868.9 1740,877.9 1741,886.9 1742,896.4 1743,906.0 1744,915.6 1745,913.7 1746,909.9 1747,906.2 1748,902.0 1749,897.8 1750,893.6 1751,888.9 1752,883.9 1753,878.9 1754,873.5 1755,867.5 1756,861.5 1757,858.3 1758,860.5 1759,862.7 1760,869.5 1761,876.8"/>
<polyline class="x" stroke="#f00" points="22,904.7 23,906.3 24,908.9 25,910.6 26,911.4 27,911.1 28,910.1 29,908.8 30,907.2 31,904.6 32,901.3 33,897.4 34,892.8 35,888.0 36,883.6 37,879.6 38,876.0 39,874.5 40,874.7 41,876.7 42,880.9 43,887.4 44,894.6 45,901.4 46,906.4 47,909.1 48,909.6 49,907.6 50,904.2 51,900.9 52,898.7 53,897.4 54,897.2 55,898.2 56,900.2 57,901.7 58,902.4 59,902.2 60,900.9 61,898.7 62,896.3 63,894.0 64,891.8 65,889.1 66,885.9 67,881.5 68,875.7 69,868.8 70,862.7 71,857.4 72,854.4 73,854.9 74,858.6 75,865.0 76,874.0 77,883.2 78,891.1 79,897.6 80,900.8 81,900.7 82,898.6 83,895.1 84,889.9 85,884.0 86,877.6 87,873.2 88,871.0 89,871.8 90,875.7 91,882.4 92,889.1 93,895.3 94,900.5 95,904.9 96,906.6 97,905.8 98,902.8 99,897.7 100,890.1 101,881.9 102,874.4 103,868.3 104,863.7 105,860.8 106,860.2 107,861.1 108,862.6 109,864.8 110,868.7 111,873.7 112,879.7 113,886.6 114,893.6 115,899.9 116,905.4 117,908.8 118,910.3 119,910.4 120,909.1 121,906.5 122,904.0 123,901.5 124,899.1 125,897.0 126,895.2 127,893.6 128,892.5 129,892.5 130,893.1 131,894.5 132,896.6 133,899.5 134,902.5 135,905.6 136,907.8 137,908.6 138,908.1 139,906.5 140,904.0 141,901.5 142,899.4 143,897.5 144,895.5 145,893.4 146,890.2 147,885.7 148,879.9 149,874.0 150,868.5 151,864.2 152,861.6 153,860.4 154,859.6 155,858.7 156,857.5 157,856.4 158,855.8 159,855.7 160,856.0 161,856.8 162,857.9 163,859.0 164,859.3 165,858.6 166,857.4 167,855.9 168,854.2 169,853.3 170,852.9 171,852.7 172,852.3 173,851.8 174,851.2 175,850.7 176,850.2 177,850.0 178,850.3 179,851.0 180,852.3 181,855.0 182,859.0 183,863.9 184,870.2 185,877.7 186,885.6 187,893.4 188,899.8 189,904.6 190,907.5 191,908.3 192,907.8 193,906.9 194,906.4 195,906.5 196,907.2 197,908.5 198,910.0 199,911.2 200,912.1 201,912.2 202,911.1 203,909.2 204,906.5 205,902.7 206,898.5 207,894.1 208,889.6 209,885.4 210,881.7 211,878.7 212,876.7 213,875.7 214,874.5 215,872.5 216,869.3 217,865.3 218,861.8 219,859.4 220,859.1 221,861.1 222,864.3 223,866.7 224,868.1 225,868.3 226,867.1 227,864.6 228,861.7 229,858.5 230,855.7 231,853.7 232,852.8 233,853.2 234,855.1 235,857.6 236,860.9 237,865.0 238,869.7 239,874.9 240,879.9 241,884.4 242,887.9 243,889.7 244,888.7 245,885.8 246,881.4 247,876.2 248,870.9 249,867.8 250,866.9 251,867.6 252,869.3 253,870.7 254,870.4 255,868.6 256,865.7 257,862.5 258,860.3 259,859.1 260,859.2 261,860.5 262,862.3 263,864.6 264,867.9 265,872.0 266,876.5 267,881.4 268,885.2 269,887.5 270,888.0 271,886.8 272,884.3 273,883.3 274,883.7 275,885.8 276,889.6 277,894.6 278,899.3 279,902.0 280,902.5 281,901.1 282,897.7 283,891.9 284,885.6 285,878.8 286,873.8 287,870.9 288,870.6 289,873.0 290,877.9 291,882.2 292,883.8 293,882.8 294,879.2 295,873.1 296,865.3 297,859.0 298,854.3 299,851.1 300,849.3 301,848.8 302,848.3 303,847.6 304,847.3 305,847.6 306,848.6 307,850.5 308,853.2 309,855.9 310,857.8 311,858.9 312,859.2 313,859.4 314,860.0 315,862.0 316,865.6 317,870.9 318,876.8 319,883.0 320,889.2 321,894.0 322,895.1 323,892.7 324,889.4 325,885.8 326,883.4 327,885.1 328,891.0 329,897.7 330,903.0 331,906.7 332,907.9 333,906.1 334,901.9 335,897.0 336,892.0 337,888.3 338,886.7 339,887.2 340,889.7 341,893.5 342,895.8 343,896.2 344,894.6 345,891.7 346,888.0 347,885.0 348,883.1 349,881.9 350,880.9 351,879.5 352,877.6 353,875.1 354,872.1 355,868.9 356,866.4 357,865.1 358,865.2 359,865.9 360,866.9 361,867.1 362,866.2 363,865.7 364,866.6 365,869.1 366,873.1 367,878.6 368,883.9 369,888.6 370,890.3 371,889.3 372,885.6 373,879.3 374,871.1 375,863.6 376,857.9 377,853.8 378,851.4 379,850.7 380,851.2 381,851.9 382,852.9 383,854.2 384,855.7 385,857.2 386,858.9 387,861.2 388,863.9 389,866.9 390,868.8 391,869.7 392,869.0 393,867.8 394,866.4 395,866.2 396,867.1 397,870.1 398,873.9 399,878.2 400,880.9 401,881.7 402,880.2 403,876.1 404,871.7 405,870.0 406,870.8 407,874.3 408,878.0 409,879.8 410,878.8 411,875.2 412,869.2 413,863.2 414,858.4 415,855.1 416,853.2 417,852.6 418,853.6 419,855.5 420,858.0 421,860.9 422,864.4 423,866.2 424,866.2 425,864.8 426,863.2 427,861.4 428,861.0 429,862.5 430,865.5 431,868.7 432,871.3 433,872.5 434,872.0 435,869.8 436,865.8 437,861.7 438,858.1 439,855.1 440,852.8 441,851.7 442,851.3 443,851.5 444,852.3 445,853.4 446,854.3 447,855.0 448,855.6 449,856.6 450,858.5 451,861.3 452,865.0 453,870.7 454,878.3 455,886.5 456,893.8 457,900.2 458,904.4 459,905.4 460,902.9 461,898.6 462,892.4 463,884.5 464,875.9 465,868.0 466,862.2 467,858.6 468,857.1 469,858.5 470,863.3 471,869.8 472,877.7 473,886.9 474,896.5 475,901.1 476,900.6 477,895.5 478,886.7 479,874.7 480,864.4 481,857.3 482,853.4 483,851.8 484,852.1 485,853.1 486,853.4 487,852.9 488,852.3 489,852.0 490,852.6 491,854.2 492,857.1 493,861.1 494,865.6 495,869.7 496,872.3 497,872.9 498,871.5 499,867.9 500,863.1 501,858.2 502,854.0 503,851.0 504,849.0 505,848.2 506,848.6 507,849.2 508,849.9 509,850.7 510,852.3 511,854.6 512,858.8 513,865.2 514,873.5 515,882.1 516,891.0 517,898.2 518,902.7 519,904.8 520,905.4 521,903.9 522,901.2 523,897.7 524,893.4 525,888.1 526,882.7 527,878.3 528,875.6 529,874.9 530,876.9 531,881.7 532,887.3 533,892.5 534,897.4 535,901.0 536,903.7 537,906.3 538,909.3 539,912.4 540,914.6 541,915.6 542,915.3 543,912.6 544,907.5 545,901.0 546,893.8 547,885.7 548,878.0 549,872.0 550,868.0 551,865.6 552,866.3 553,871.1 554,878.6 555,887.4 556,897.4 557,906.1 558,911.9 559,914.9 560,915.7 561,913.4 562,908.7 563,902.3 564,894.3 565,885.1 566,876.3 567,868.9 568,862.7 569,857.9 570,854.8 571,852.9 572,851.4 573,850.4 574,849.6 575,848.8 576,848.3 577,848.4 578,848.8 579,849.9 580,852.2 581,855.2 582,858.9 583,862.6 584,866.1 585,868.8 586,870.7 587,871.3 588,870.7 589,869.2 590,866.8 591,863.4 592,859.6 593,856.3 594,855.1 595,855.9 596,859.0 597,865.5 598,874.8 599,883.3 600,890.3 601,895.5 602,898.1 603,898.2 604,897.9 605,898.1 606,898.6 607,899.5 608,900.6 609,901.7 610,902.6 611,903.0 612,902.9 613,902.0 614,898.8 615,893.8 616,886.7 617,877.4 618,867.0 619,859.0 620,853.5 621,850.8 622,850.6 623,852.3 624,853.7 625,854.8 626,855.6 627,856.5 628,857.5 629,858.9 630,860.4 631,862.3 632,864.0 633,865.0 634,865.1 635,864.2 636,862.1 637,859.3 638,856.9 639,855.2 640,854.2 641,854.1 642,854.8 643,855.8 644,856.6 645,858.5 646,861.5 647,866.4 648,873.7 649,883.4 650,892.5 651,900.4 652,905.9 653,907.1 654,903.8 655,898.4 656,891.7 657,884.5 658,878.3 659,874.3 660,872.5 661,872.3 662,874.3 663,878.3 664,883.1 665,888.4 666,894.0 667,899.2 668,903.0 669,904.6 670,904.2 671,901.7 672,896.9 673,891.0 674,885.3 675,880.0 676,875.4 677,873.1 678,873.5 679,876.1 680,881.2 681,888.8 682,896.7 683,903.1 684,908.2 685,911.3 686,912.2 687,911.2 688,909.8 689,908.1 690,906.0 691,903.9 692,902.0 693,900.2 694,899.3 695,899.3 696,900.1 697,901.6 698,903.9 699,906.0 700,908.0 701,908.5 702,907.4 703,904.8 704,900.1 705,893.2 706,885.8 707,877.9 708,869.7 709,862.9 710,858.7 711,857.0 712,857.7 713,861.5 714,867.2 715,873.8 716,881.1 717,888.7 718,896.0 719,903.0 720,907.7 721,909.3 722,908.1 723,903.9 724,896.7 725,888.7 726,881.7 727,876.9 728,874.4 729,874.5 730,877.5 731,882.2 732,887.3 733,891.9 734,895.7 735,896.7 736,894.0 737,888.1 738,880.4 739,870.9 740,862.6 741,856.5 742,852.7 743,850.5 744,850.1 745,850.5 746,851.3 747,852.4 748,853.7 749,855.0 750,857.5 751,861.7 752,867.8 753,875.7 754,885.6 755,895.0 756,902.8 757,909.0 758,912.7 759,913.4 760,912.2 761,909.7 762,906.1 763,901.9 764,898.5 765,896.7 766,896.4 767,897.5 768,899.6 769,902.2 770,904.3 771,906.0 772,907.5 773,909.0 774,910.6 775,912.6 776,914.9 777,916.4 778,917.0 779,916.5 780,914.8 781,912.0 782,909.1 783,906.3 784,903.9 785,901.6 786,899.8 787,898.5 788,897.8 789,897.6 790,897.5 791,897.4 792,897.0 793,896.4 794,896.1 795,896.3 796,897.2 797,898.8 798,901.4 799,904.4 800,907.8 801,911.2 802,914.0 803,916.0 804,917.1 805,917.7 806,918.0 807,918.6 808,918.1 809,916.6 810,913.7 811,909.1 812,902.8 813,896.6 814,892.1 815,889.2 816,887.6 817,885.5 818,882.3 819,878.5 820,874.7 821,871.9 822,872.1 823,875.5 824,877.1 825,875.8 826,871.8 827,866.4 828,859.5 829,854.6 830,852.8 831,853.5 832,855.4 833,857.7 834,859.4 835,860.3 836,860.6 837,860.9 838,861.9 839,863.6 840,865.6 841,867.1 842,867.6 843,867.1 844,865.5 845,863.3 846,861.0 847,860.2 848,861.4 849,864.7 850,870.1 851,877.8 852,886.1 853,893.4 854,899.7 855,904.5 856,907.2 857,907.9 858,907.7 859,906.0 860,903.1 861,899.4 862,894.8 863,889.3 864,883.5 865,877.9 866,872.8 867,868.5 868,867.3 869,869.4 870,874.6 871,882.2 872,892.3 873,901.0 874,908.2 875,913.4 876,916.1 877,916.3 878,915.5 879,912.9 880,908.3 881,902.6 882,896.4 883,889.8 884,884.1 885,880.0 886,877.6 887,877.7 888,880.3 889,884.6 890,888.5 891,891.7 892,892.7 893,891.4 894,887.9 895,884.3 896,880.5 897,876.3 898,871.9 899,867.3 900,863.4 901,860.0 902,857.4 903,856.1 904,856.0 905,856.4 906,857.6 907,860.5 908,864.6 909,869.9 910,876.5 911,884.2 912,891.2 913,896.9 914,901.4 915,904.4 916,906.0 917,906.9 918,907.7 919,907.9 920,907.2 921,905.6 922,902.4 923,897.0 924,890.0 925,882.1 926,874.1 927,866.6 928,860.8 929,857.7 930,857.2 931,858.2 932,860.6 933,863.9 934,867.2 935,870.9 936,875.1 937,880.1 938,886.1 939,892.7 940,899.0 941,903.7 942,906.6 943,907.6 944,906.8 945,904.9 946,903.1 947,901.3 948,899.2 949,896.8 950,893.6 951,888.8 952,882.8 953,875.5 954,868.4 955,861.5 956,855.8 957,851.9 958,849.6 959,847.9 960,846.8 961,846.8 962,847.3 963,848.2 964,849.7 965,851.5 966,853.2 967,854.9 968,857.2 969,860.1 970,863.7 971,866.8 972,869.4 973,870.8 974,871.2 975,870.9 976,871.2 977,872.1 978,875.3 979,880.7 980,887.9 981,893.3 982,896.7 983,896.2 984,891.4 985,882.3 986,875.1 987,870.1 988,867.5 989,868.1 990,871.8 991,876.2 992,880.8 993,885.7 994,890.2 995,894.8 996,899.6 997,905.1 998,909.6 999,911.1 1000,909.3 1001,904.0 1002,895.6 1003,885.5 1004,876.1 1005,868.7 1006,863.1 1007,859.0 1008,856.9 1009,857.2 1010,858.7 1011,861.1 1012,864.5 1013,868.4 1014,871.1 1015,871.9 1016,871.0 1017,868.6 1018,865.5 1019,862.9 1020,861.4 1021,860.6 1022,860.5 1023,860.2 1024,859.3 1025,857.8 1026,856.2 1027,855.6 1028,856.7 1029,859.9 1030,866.4 1031,876.3 1032,886.9 1033,896.4 1034,904.6 1035,908.9 1036,909.5 1037,907.9 1038,904.8 1039,900.4 1040,895.7 1041,892.6 1042,891.5 1043,892.7 1044,896.0 1045,901.4 1046,905.6 1047,907.8 1048,908.2 1049,906.8 1050,903.6 1051,900.0 1052,896.2 1053,892.4 1054,888.6 1055,884.9 1056,881.3 1057,878.0 1058,875.0 1059,872.2 1060,869.5 1061,868.1 1062,867.9 1063,869.0 1064,871.8 1065,876.4 1066,881.9 1067,888.0 1068,894.4 1069,900.8 1070,905.7 1071,907.9 1072,907.6 1073,904.1 1074,897.3 1075,888.6 1076,880.0 1077,871.5 1078,865.0 1079,861.3 1080,860.0 1081,860.0 1082,861.2 1083,862.3 1084,862.9 1085,864.0 1086,866.0 1087,869.4 1088,874.6 1089,881.6 1090,887.0 1091,890.8 1092,892.6 1093,892.7 1094,891.3 1095,890.8 1096,892.0 1097,895.2 1098,899.5 1099,903.7 1100,907.7 1101,910.5 1102,911.5 1103,910.8 1104,909.3 1105,907.9 1106,906.5 1107,905.9 1108,904.9 1109,903.3 1110,900.3 1111,896.0 1112,890.4 1113,886.5 1114,885.8 1115,888.0 1116,891.9 1117,897.4 1118,902.4 1119,905.6 1120,907.0 1121,907.8 1122,907.6 1123,906.1 1124,903.6 1125,900.6 1126,897.6 1127,894.8 1128,892.9 1129,892.8 1130,894.5 1131,897.3 1132,900.6 1133,904.2 1134,907.3 1135,908.4 1136,907.6 1137,904.6 1138,898.7 1139,889.8 1140,882.1 1141,876.0 1142,872.3 1143,872.3 1144,876.6 1145,882.2 1146,887.2 1147,890.8 1148,892.2 1149,891.4 1150,888.3 1151,885.8 1152,885.8 1153,888.2 1154,892.4 1155,898.2 1156,904.0 1157,908.8 1158,912.3 1159,915.1 1160,916.4 1161,916.1 1162,914.4 1163,910.6 1164,904.1 1165,895.9 1166,887.6 1167,878.9 1168,871.1 1169,865.5 1170,862.2 1171,859.9 1172,858.6 1173,858.3 1174,857.9 1175,857.6 1176,857.1 1177,856.4 1178,855.4 1179,854.6 1180,854.5 1181,855.3 1182,857.1 1183,860.4 1184,864.6 1185,869.2 1186,874.1 1187,878.7 1188,880.9 1189,880.7 1190,879.2 1191,876.8 1192,874.1 1193,872.7 1194,871.9 1195,870.6 1196,868.6 1197,865.8 1198,862.5 1199,859.5 1200,857.2 1201,856.6 1202,857.5 1203,860.0 1204,864.4 1205,870.5 1206,876.7 1207,882.9 1208,888.6 1209,891.5 1210,891.5 1211,889.1 1212,884.8 1213,878.6 1214,874.6 1215,872.9 1216,873.4 1217,875.9 1218,880.5 1219,885.1 1220,888.4 1221,890.1 1222,889.9 1223,887.0 1224,881.5 1225,875.8 1226,870.7 1227,866.7 1228,865.1 1229,866.1 1230,868.3 1231,872.5 1232,878.4 1233,885.4 1234,892.8 1235,900.7 1236,907.1 1237,910.6 1238,911.3 1239,909.8 1240,906.2 1241,901.4 1242,896.5 1243,890.8 1244,884.3 1245,877.2 1246,869.6 1247,861.9 1248,856.0 1249,852.0 1250,849.6 1251,848.7 1252,849.0 1253,849.1 1254,849.2 1255,849.4 1256,849.7 1257,850.3 1258,851.0 1259,852.0 1260,853.1 1261,854.3 1262,855.5 1263,856.3 1264,856.6 1265,856.5 1266,855.9 1267,854.8 1268,853.7 1269,852.9 1270,853.1 1271,854.2 1272,856.6 1273,861.8 1274,869.5 1275,877.9 1276,886.4 1277,894.5 1278,898.7 1279,898.9 1280,896.1 1281,891.7 1282,886.1 1283,881.7 1284,879.8 1285,880.3 1286,882.6 1287,886.3 1288,890.3 1289,891.6 1290,890.3 1291,889.2 1292,888.8 1293,890.0 1294,893.9 1295,900.3 1296,906.2 1297,909.2 1298,909.4 1299,907.2 1300,903.1 1301,897.6 1302,892.4 1303,888.7 1304,886.3 1305,884.9 1306,884.9 1307,886.1 1308,887.6 1309,889.0 1310,890.1 1311,890.8 1312,891.8 1313,893.5 1314,896.0 1315,898.4 1316,899.5 1317,898.3 1318,894.4 1319,887.4 1320,878.3 1321,869.0 1322,861.3 1323,855.4 1324,851.9 1325,850.9 1326,852.1 1327,853.6 1328,855.5 1329,858.4 1330,862.1 1331,866.5 1332,872.0 1333,878.3 1334,885.0 1335,891.6 1336,898.0 1337,903.8 1338,907.9 1339,910.3 1340,911.4 1341,911.0 1342,909.2 1343,907.1 1344,904.8 1345,902.4 1346,900.2 1347,898.2 1348,896.6 1349,895.3 1350,894.1 1351,893.1 1352,893.1 1353,894.1 1354,896.2 1355,898.5 1356,899.9 1357,899.3 1358,896.8 1359,891.8 1360,885.1 1361,878.0 1362,871.0 1363,864.4 1364,859.3 1365,856.4 1366,855.4 1367,856.3 1368,859.6 1369,864.2 1370,869.8 1371,876.4 1372,883.4 1373,889.7 1374,895.3 1375,900.2 1376,904.2 1377,906.7 1378,908.3 1379,908.9 1380,907.9 1381,905.5 1382,902.3 1383,898.5 1384,894.2 1385,890.2 1386,886.3 1387,883.2 1388,880.5 1389,878.5 1390,877.9 1391,878.8 1392,880.7 1393,883.7 1394,887.6 1395,891.5 1396,895.5 1397,899.0 1398,902.2 1399,905.0 1400,907.0 1401,907.6 1402,907.3 1403,905.8 1404,903.0 1405,899.1 1406,894.9 1407,890.2 1408,885.2 1409,880.2 1410,875.2 1411,870.2 1412,865.2 1413,861.0 1414,857.7 1415,855.3 1416,854.5 1417,855.8 1418,858.6 1419,863.4 1420,870.7 1421,879.9 1422,889.1 1423,896.9 1424,902.6 1425,905.4 1426,904.2 1427,900.6 1428,895.4 1429,888.5 1430,880.3 1431,872.8 1432,867.3 1433,863.9 1434,864.0 1435,868.6 1436,876.4 1437,883.4 1438,889.9 1439,894.5 1440,897.2 1441,898.0 1442,899.5 1443,899.5 1444,897.4 1445,892.2 1446,884.3 1447,873.5 1448,864.5 1449,858.7 1450,856.2 1451,856.8 1452,860.3 1453,864.5 1454,868.2 1455,871.0 1456,873.1 1457,874.4 1458,874.3 1459,872.7 1460,870.0 1461,866.5 1462,862.7 1463,859.6 1464,857.4 1465,856.2 1466,855.5 1467,855.6 1468,857.1 1469,860.1 1470,864.2 1471,868.0 1472,871.0 1473,872.4 1474,873.6 1475,874.9 1476,877.7 1477,881.7 1478,887.1 1479,892.1 1480,895.9 1481,898.5 1482,900.0 1483,900.6 1484,900.5 1485,900.2 1486,899.1 1487,895.8 1488,890.3 1489,885.7 1490,882.2 1491,880.6 1492,883.1 1493,889.7 1494,896.3 1495,900.6 1496,902.5 1497,901.4 1498,897.3 1499,891.5 1500,885.9 1501,881.5 1502,878.2 1503,876.6 1504,877.0 1505,879.3 1506,882.5 1507,886.0 1508,889.0 1509,891.3 1510,892.9 1511,894.1 1512,895.5 1513,897.1 1514,899.0 1515,901.0 1516,902.5 1517,902.5 1518,900.8 1519,897.7 1520,893.9 1521,890.0 1522,887.0 1523,885.8 1524,886.5 1525,888.7 1526,892.0 1527,896.3 1528,900.9 1529,905.1 1530,908.3 1531,910.4 1532,911.7 1533,912.3 1534,912.1 1535,911.7 1536,911.4 1537,911.2 1538,911.1 1539,911.1 1540,911.2 1541,910.0 1542,907.2 1543,902.9 1544,896.9 1545,889.4 1546,882.1 1547,876.0 1548,871.2 1549,869.6 1550,871.8 1551,877.3 1552,884.1 1553,891.6 1554,898.1 1555,903.1 1556,906.2 1557,907.6 1558,907.6 1559,906.3 1560,903.9 1561,900.8 1562,897.9 1563,895.1 1564,892.0 1565,888.3 1566,884.1 1567,878.9 1568,873.2 1569,867.4 1570,862.4 1571,858.2 1572,855.2 1573,853.6 1574,853.4 1575,853.9 1576,854.9 1577,856.6 1578,858.6 1579,860.3 1580,861.0 1581,860.5 1582,859.0 1583,857.2 1584,855.3 1585,854.2 1586,854.5 1587,856.0 1588,858.2 1589,860.8 1590,863.8 1591,866.5 1592,868.6 1593,869.7 1594,870.1 1595,869.9 1596,870.1 1597,871.0 1598,873.3 1599,877.6 1600,884.0 1601,888.2 1602,890.0 1603,888.8 1604,885.4 1605,880.5 1606,877.2 1607,876.7 1608,879.7 1609,884.7 1610,890.1 1611,896.1 1612,901.3 1613,903.5 1614,902.9 1615,900.2 1616,895.2 1617,888.3 1618,881.1 1619,874.5 1620,869.2 1621,865.4 1622,862.6 1623,860.8 1624,859.1 1625,857.1 1626,854.9 1627,852.7 1628,850.9 1629,849.6 1630,848.7 1631,848.1 1632,847.8 1633,847.9 1634,848.5 1635,849.3 1636,850.5 1637,852.0 1638,853.9 1639,855.9 1640,858.0 1641,861.6 1642,866.7 1643,873.1 1644,880.2 1645,886.2 1646,888.8 1647,887.5 1648,882.4 1649,874.1 1650,865.8 1651,860.2 1652,857.2 1653,857.3 1654,860.7 1655,865.8 1656,871.2 1657,875.3 1658,877.9 1659,878.9 1660,879.2 1661,879.1 1662,880.2 1663,882.6 1664,886.5 1665,890.6 1666,894.6 1667,898.2 1668,901.4 1669,904.0 1670,904.0 1671,901.7 1672,897.3 1673,891.0 1674,883.8 1675,877.9 1676,873.1 1677,872.1 1678,874.7 1679,879.5 1680,886.2 1681,894.7 1682,902.3 1683,906.2 1684,906.7 1685,904.3 1686,898.6 1687,889.6 1688,880.7 1689,872.9 1690,866.3 1691,862.6 1692,862.4 1693,865.5 1694,871.3 1695,879.7 1696,888.5 1697,896.6 1698,903.5 1699,907.8 1700,909.4 1701,909.4 1702,907.8 1703,904.9 1704,901.8 1705,898.6 1706,895.3 1707,892.3 1708,891.2 1709,892.2 1710,894.7 1711,898.4 1712,903.4 1713,906.4 1714,907.2 1715,906.2 1716,904.2 1717,901.5 1718,899.7 1719,899.4 1720,900.8 1721,903.2 1722,906.1 1723,909.3 1724,911.5 1725,911.9 1726,910.6 1727,907.7 1728,903.1 1729,897.3 1730,891.2 1731,885.1 1732,879.1 1733,873.4 1734,868.7 1735,865.0 1736,862.5 1737,861.4 1738,861.7 1739,863.2 1740,866.8 1741,872.1 1742,878.9 1743,887.2 1744,896.5 1745,903.7 1746,908.3 1747,910.3 1748,909.5 1749,905.9 1750,901.9 1751,897.7 1752,893.2 1753,888.6 1754,883.8 1755,878.6 1756,873.1 1757,868.0 1758,864.3 1759,862.1 1760,862.5 1761,865.6"/>
</g>
<rect class="x" x="5.5" y="844.5" width="47" height="14" fill="#fff" stroke="#000"/>
<text x="8" y="855.5" fill="#000" stroke="#000">Sto(9/5)</text>
<rect class="x" x="55.5" y="845.5" width="12" height="12" fill="#fff" stroke="#000"/>
<path class="x" d="M57 850h9v2h-9zM60.5 847h2v8.500h-2z" fill="#000"/>
<text x="8" y="871" fill="#000" stroke="#000">%K</text>
<text x="8" y="886" fill="#f00" stroke="#f00">%D</text>
<text x="1843" y="25" fill="#000" stroke="#000" textLength="44">5500.00</text><text x="1843" y="62" fill="#000" stroke="#000" textLength="44">5250.00</text><text x="1843" y="100" fill="#000" stroke="#000" textLength="44">5000.00</text><text x="1843" y="138" fill="#000" stroke="#000" textLength="44">4750.00</text><text x="1843" y="175" fill="#000" stroke="#000" textLength="44">4500.00</text><text x="1843" y="213" fill="#000" stroke="#000" textLength="44">4250.00</text><text x="1843" y="251" fill="#000" stroke="#000" textLength="44">4000.00</text><text x="1843" y="288" fill="#000" stroke="#000" textLength="44">3750.00</text><text x="1843" y="326" fill="#000" stroke="#000" textLength="44">3500.00</text><text x="1843" y="364" fill="#000" stroke="#000" textLength="44">3250.00</text><text x="1843" y="401" fill="#000" stroke="#000" textLength="44">3000.00</text><text x="1843" y="439" fill="#000" stroke="#000" textLength="44">2750.00</text><text x="1843" y="476" fill="#000" stroke="#000" textLength="44">2500.00</text><text x="1843" y="514" fill="#000" stroke="#000" textLength="44">2250.00</text><text x="1843" y="552" fill="#000" stroke="#000" textLength="44">2000.00</text><text x="1843" y="589" fill="#000" stroke="#000" textLength="44">1750.00</text><text x="1843" y="627" fill="#000" stroke="#000" textLength="44">1500.00</text><text x="1843" y="665" fill="#000" stroke="#000" textLength="44">1250.00</text><text x="1843" y="702" fill="#000" stroke="#000" textLength="44">1000.00</text><text x="1843" y="740" fill="#000" stroke="#000" textLength="37.3">750.00</text><text x="1843" y="778" fill="#000" stroke="#000" textLength="37.3">500.00</text><text x="1843" y="815" fill="#000" stroke="#000" textLength="37.3">250.00</text>
<text x="1843" y="890" fill="#000" stroke="#000">50.00</text>
<text x="1843" y="911" fill="#000" stroke="#000">25.000</text>
<rect class="x" x="1838" y="376" width="77" height="14" fill="#0000ff"/>
<path class="x" d="M1838 383.5H1841" stroke="#fff"/>
<text x="1843" y="388" fill="#fff" stroke="#fff">3090.65</text>
<rect class="x" x="1838" y="857" width="77" height="14" fill="#ff0000"/>
<path class="x" d="M1838 864.5H1841" stroke="#fff"/>
<text x="1843.5" y="869" fill="#fff" stroke="#fff">73.88</text>
<rect class="x" x="1838" y="872" width="77" height="14" fill="#000"/>
<path class="x" d="M1838 878.5H1841" stroke="#fff"/>
<text x="1843.5" y="884" fill="#fff" stroke="#fff">58.55</text>
<rect class="x" x="1906.500" y="17.500" width="8" height="8" fill="#fff" stroke="#c0c0c0"/><path class="x" d="M1908 21.500h5" stroke="#b0b0b0"/>
<text x="12" y="945" fill="#000" stroke="#000">12.01.26</text>
<text x="81.0" y="945" fill="#000" stroke="#000">19</text><text x="123.0" y="945" text-anchor="end" fill="#000" stroke="#000">12</text><text x="126.0" y="945" fill="#000" stroke="#000">19</text><text x="166.0" y="945" text-anchor="end" fill="#000" stroke="#000">02</text><text x="169.0" y="945" fill="#000" stroke="#000">20</text><text x="210.0" y="945" text-anchor="end" fill="#000" stroke="#000">04</text><text x="213.0" y="945" fill="#000" stroke="#000">20</text><text x="254.0" y="945" text-anchor="end" fill="#000" stroke="#000">06</text><text x="257.0" y="945" fill="#000" stroke="#000">20</text><text x="300.0" y="945" text-anchor="end" fill="#000" stroke="#000">08</text><text x="303.0" y="945" fill="#000" stroke="#000">20</text><text x="344.0" y="945" text-anchor="end" fill="#000" stroke="#000">10</text><text x="347.0" y="945" fill="#000" stroke="#000">20</text><text x="389.0" y="945" text-anchor="end" fill="#000" stroke="#000">12</text><text x="392.0" y="945" fill="#000" stroke="#000">20</text><text x="434.0" y="945" text-anchor="end" fill="#000" stroke="#000">02</text><text x="437.0" y="945" fill="#000" stroke="#000">21</text><text x="478.0" y="945" text-anchor="end" fill="#000" stroke="#000">04</text><text x="481.0" y="945" fill="#000" stroke="#000">21</text><text x="522.0" y="945" text-anchor="end" fill="#000" stroke="#000">06</text><text x="525.0" y="945" fill="#000" stroke="#000">21</text><text x="567.0" y="945" text-anchor="end" fill="#000" stroke="#000">08</text><text x="570.0" y="945" fill="#000" stroke="#000">21</text><text x="613.0" y="945" text-anchor="end" fill="#000" stroke="#000">10</text><text x="616.0" y="945" fill="#000" stroke="#000">21</text><text x="657.0" y="945" text-anchor="end" fill="#000" stroke="#000">12</text><text x="660.0" y="945" fill="#000" stroke="#000">21</text><text x="702.0" y="945" text-anchor="end" fill="#000" stroke="#000">02</text><text x="705.0" y="945" fill="#000" stroke="#000">22</text><text x="746.0" y="945" text-anchor="end" fill="#000" stroke="#000">04</text><text x="749.0" y="945" fill="#000" stroke="#000">22</text><text x="791.0" y="945" text-anchor="end" fill="#000" stroke="#000">06</text><text x="794.0" y="945" fill="#000" stroke="#000">22</text><text x="835.0" y="945" text-anchor="end" fill="#000" stroke="#000">08</text><text x="838.0" y="945" fill="#000" stroke="#000">22</text><text x="881.0" y="945" text-anchor="end" fill="#000" stroke="#000">10</text><text x="884.0" y="945" fill="#000" stroke="#000">22</text><text x="925.0" y="945" text-anchor="end" fill="#000" stroke="#000">12</text><text x="928.0" y="945" fill="#000" stroke="#000">22</text><text x="970.0" y="945" text-anchor="end" fill="#000" stroke="#000">02</text><text x="973.0" y="945" fill="#000" stroke="#000">23</text><text x="1015.0" y="945" text-anchor="end" fill="#000" stroke="#000">04</text><text x="1018.0" y="945" fill="#000" stroke="#000">23</text><text x="1059.0" y="945" text-anchor="end" fill="#000" stroke="#000">06</text><text x="1062.0" y="945" fill="#000" stroke="#000">23</text><text x="1103.0" y="945" text-anchor="end" fill="#000" stroke="#000">08</text><text x="1106.0" y="945" fill="#000" stroke="#000">23</text><text x="1148.0" y="945" text-anchor="end" fill="#000" stroke="#000">10</text><text x="1151.0" y="945" fill="#000" stroke="#000">23</text><text x="1194.0" y="945" text-anchor="end" fill="#000" stroke="#000">12</text><text x="1197.0" y="945" fill="#000" stroke="#000">23</text><text x="1239.0" y="945" text-anchor="end" fill="#000" stroke="#000">02</text><text x="1242.0" y="945" fill="#000" stroke="#000">24</text><text x="1282.0" y="945" text-anchor="end" fill="#000" stroke="#000">04</text><text x="1285.0" y="945" fill="#000" stroke="#000">24</text><text x="1328.0" y="945" text-anchor="end" fill="#000" stroke="#000">06</text><text x="1331.0" y="945" fill="#000" stroke="#000">24</text><text x="1372.0" y="945" text-anchor="end" fill="#000" stroke="#000">08</text><text x="1375.0" y="945" fill="#000" stroke="#000">24</text><text x="1417.0" y="945" text-anchor="end" fill="#000" stroke="#000">10</text><text x="1420.0" y="945" fill="#000" stroke="#000">24</text><text x="1462.0" y="945" text-anchor="end" fill="#000" stroke="#000">12</text><text x="1465.0" y="945" fill="#000" stroke="#000">24</text><text x="1508.0" y="945" text-anchor="end" fill="#000" stroke="#000">02</text><text x="1511.0" y="945" fill="#000" stroke="#000">25</text><text x="1550.0" y="945" text-anchor="end" fill="#000" stroke="#000">04</text><text x="1553.0" y="945" fill="#000" stroke="#000">25</text><text x="1596.0" y="945" text-anchor="end" fill="#000" stroke="#000">06</text><text x="1599.0" y="945" fill="#000" stroke="#000">25</text><text x="1641.0" y="945" text-anchor="end" fill="#000" stroke="#000">08</text><text x="1644.0" y="945" fill="#000" stroke="#000">25</text><text x="1685.0" y="945" text-anchor="end" fill="#000" stroke="#000">10</text><text x="1688.0" y="945" fill="#000" stroke="#000">25</text><text x="1729.0" y="945" text-anchor="end" fill="#000" stroke="#000">12</text><text x="1732.0" y="945" fill="#000" stroke="#000">25</text><text x="1775.0" y="945" text-anchor="end" fill="#000" stroke="#000">02</text><text x="1778.0" y="945" fill="#000" stroke="#000">26</text>
<text x="1826.500" y="945" fill="#000" stroke="#000">-</text>
<path class="x" d="M0 0.5H1916M0.5 0V948M1915.5 0V948M0 947.5H1916" stroke="#000" stroke-width="1" fill="none"/>
</svg>
</body></html>
